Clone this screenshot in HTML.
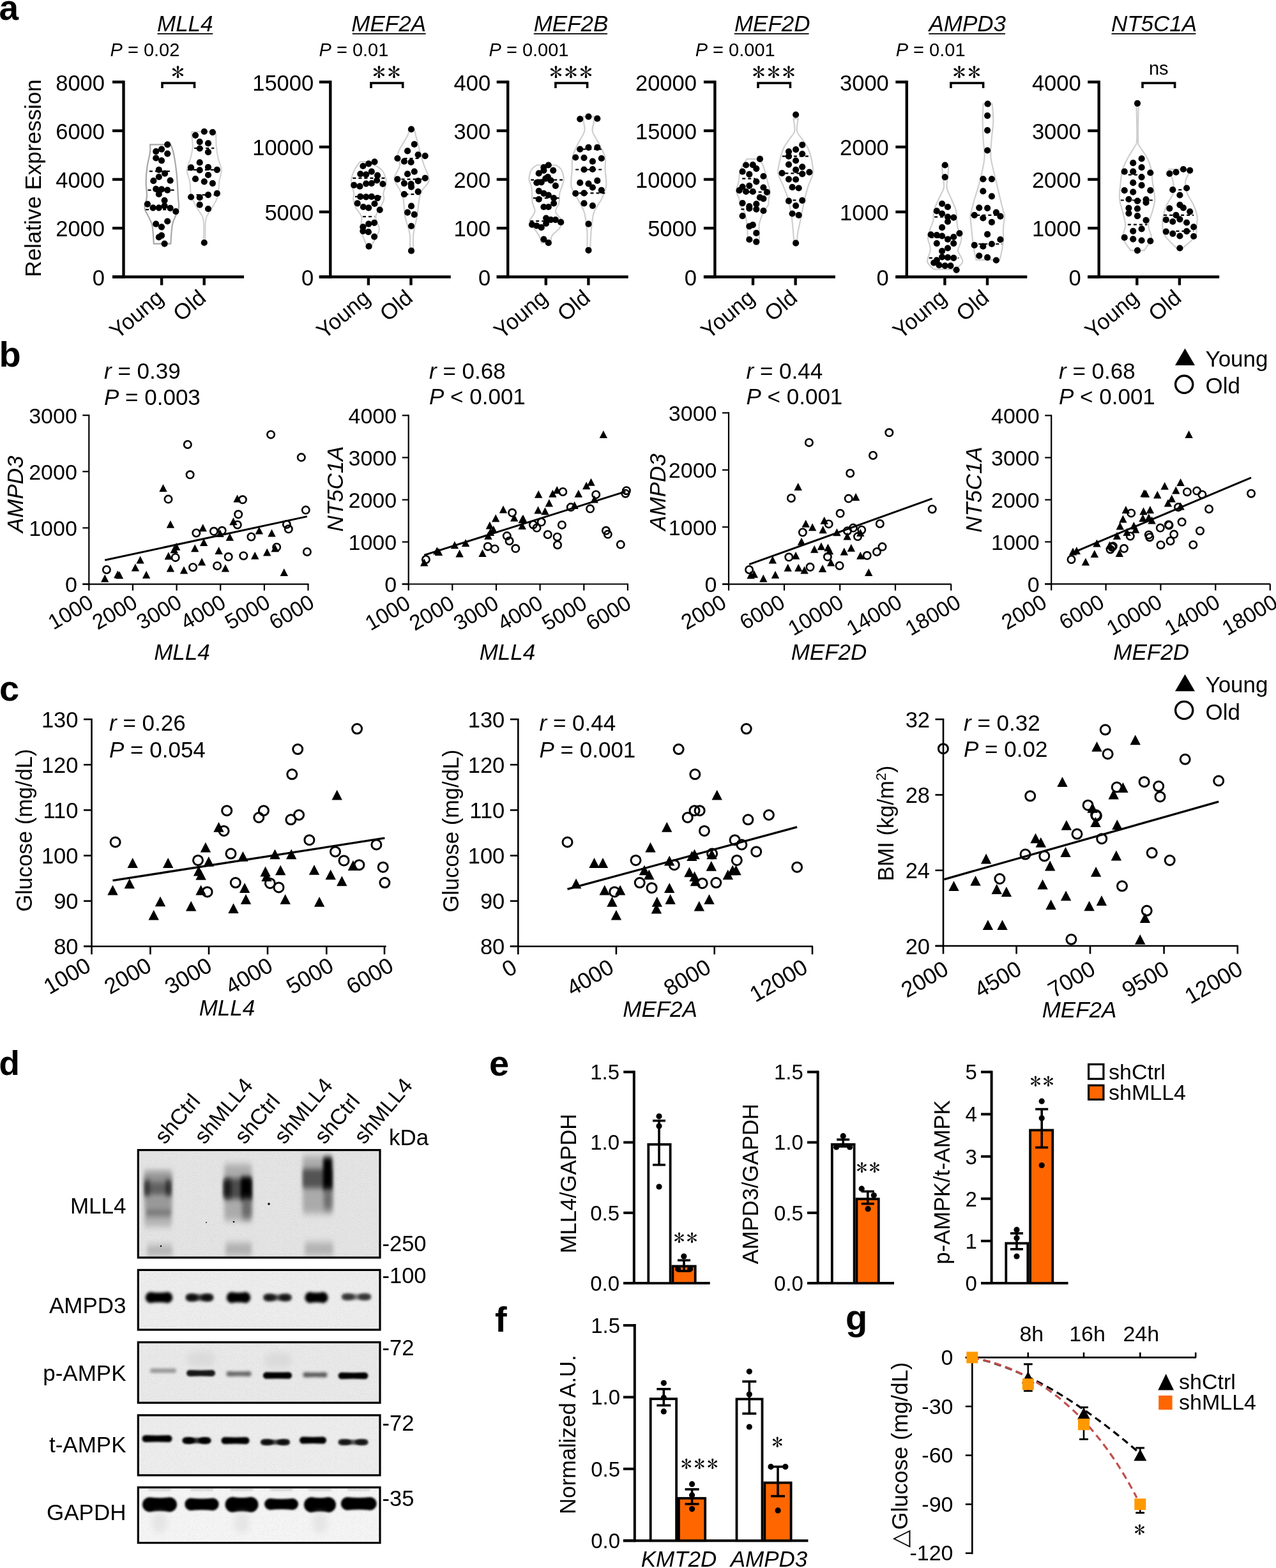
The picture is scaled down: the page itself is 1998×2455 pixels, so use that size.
<!DOCTYPE html>
<html><head><meta charset="utf-8"><title>Figure</title>
<style>html,body{margin:0;padding:0;background:#fff;}svg{display:block;}text{font-family:'Liberation Sans', Arial, Helvetica, sans-serif;}</style>
</head><body>
<svg width="1998" height="2455" viewBox="0 0 1998 2455">
<rect width="1998" height="2455" fill="#fff"/>
<text x="-1.5" y="31" font-size="55" text-anchor="start" font-weight="bold" fill="#000">a</text>
<line x1="193.5" y1="126.2" x2="193.5" y2="435.7" stroke="#000" stroke-width="4.4" stroke-linecap="butt"/>
<line x1="176" y1="433.5" x2="382" y2="433.5" stroke="#000" stroke-width="4.4" stroke-linecap="butt"/>
<line x1="176" y1="433.5" x2="193.5" y2="433.5" stroke="#000" stroke-width="4.4" stroke-linecap="butt"/>
<text x="164" y="446.7" font-size="34.5" text-anchor="end" fill="#000">0</text>
<line x1="176" y1="357.2" x2="193.5" y2="357.2" stroke="#000" stroke-width="4.4" stroke-linecap="butt"/>
<text x="164" y="370.4" font-size="34.5" text-anchor="end" fill="#000">2000</text>
<line x1="176" y1="280.9" x2="193.5" y2="280.9" stroke="#000" stroke-width="4.4" stroke-linecap="butt"/>
<text x="164" y="294.1" font-size="34.5" text-anchor="end" fill="#000">4000</text>
<line x1="176" y1="204.7" x2="193.5" y2="204.7" stroke="#000" stroke-width="4.4" stroke-linecap="butt"/>
<text x="164" y="217.9" font-size="34.5" text-anchor="end" fill="#000">6000</text>
<line x1="176" y1="128.4" x2="193.5" y2="128.4" stroke="#000" stroke-width="4.4" stroke-linecap="butt"/>
<text x="164" y="141.6" font-size="34.5" text-anchor="end" fill="#000">8000</text>
<line x1="253.1" y1="433.5" x2="253.1" y2="446.5" stroke="#000" stroke-width="4.4" stroke-linecap="butt"/>
<line x1="319.7" y1="433.5" x2="319.7" y2="446.5" stroke="#000" stroke-width="4.4" stroke-linecap="butt"/>
<text x="258.1" y="470" font-size="34.5" text-anchor="end" transform="rotate(-40 258.1 470)" fill="#000">Young</text>
<text x="324.7" y="470" font-size="34.5" text-anchor="end" transform="rotate(-40 324.7 470)" fill="#000">Old</text>
<text x="246" y="48.8" font-size="35" text-anchor="start" font-style="italic" fill="#000">MLL4</text>
<text x="172.5" y="88.3" font-size="29" text-anchor="start" fill="#000"><tspan font-style="italic">P</tspan> = 0.02</text>
<polyline points="254,138 254,130 304.5,130 304.5,138" stroke="#000" stroke-width="3.6" fill="none" stroke-linejoin="miter"/>
<text x="0" y="15.7" font-size="41" text-anchor="middle" transform="translate(278.6 112) scale(1 0.93)" style="font-family:IPAGothic, Liberation Sans, sans-serif" fill="#000">*</text>
<path d="M235,226.3 C235,228.3 235.8,232.4 235,238.2 C234.3,244.1 231.5,253.6 230.4,261.3 C229.3,269 228.6,276.7 228.6,284.3 C228.5,292 230.2,301.2 230,307.4 C229.7,313.5 227.5,317.7 227,321.2 C226.5,324.7 226,325 227,328.1 C227.9,331.2 230.8,335.4 232.7,339.6 C234.6,343.9 237.1,346.5 238.5,353.5 C239.8,360.4 240.4,376.9 240.8,381.6 L267.3,381.6 C267.7,376.9 268.4,360.4 269.6,353.5 C270.7,346.5 272.6,343.9 274.2,339.6 C275.8,335.4 278.3,331.2 279.3,328.1 C280.2,325 280,324.7 280,321.2 C279.9,317.7 279.2,313.5 278.8,307.4 C278.4,301.2 278.2,292 277.6,284.3 C277.1,276.7 276.4,269 275.3,261.3 C274.3,253.6 272.8,244.1 271.4,238.2 C270.1,232.4 268,228.3 267.3,226.3 Z" fill="none" stroke="#a8a8a8" stroke-width="2.2"/>
<path d="M300.7,206 C300.6,206.8 299.8,206.8 300,210.6 C300.2,214.4 302.1,222.9 301.8,229 C301.6,235.2 299.9,241.3 298.4,247.5 C296.9,253.6 292.8,259.8 292.6,265.9 C292.4,272 296.1,277.4 297.2,284.3 C298.4,291.2 297.6,300.5 299.5,307.4 C301.5,314.3 305.7,320 308.8,325.8 C311.8,331.6 316.2,335.4 318,341.9 C319.7,348.5 319.1,358.4 319.1,365 C319.1,371.6 318.2,378.8 318,381.6 L321.4,381.6 C321.4,378.8 321.2,371.6 321.4,365 C321.6,358.4 320.9,348.5 322.6,341.9 C324.3,335.4 328.7,331.6 331.8,325.8 C334.9,320 339.1,314.3 341,307.4 C342.9,300.5 342.4,291.2 343.3,284.3 C344.3,277.4 347.1,272 346.8,265.9 C346.5,259.8 342.8,253.6 341.5,247.5 C340.1,241.3 339.2,235.2 338.7,229 C338.2,222.9 338.4,214.4 338.2,210.6 C338.1,206.8 337.7,206.8 337.6,206 Z" fill="none" stroke="#d4d4d4" stroke-width="2.2"/>
<line x1="233.9" y1="268.2" x2="269.6" y2="268.2" stroke="#000" stroke-width="2.2" stroke-dasharray="5,4" stroke-linecap="butt"/>
<line x1="231.6" y1="297.7" x2="275.3" y2="297.7" stroke="#000" stroke-width="2.2" stroke-dasharray="5,4" stroke-linecap="butt"/>
<line x1="228.1" y1="328.1" x2="277.6" y2="328.1" stroke="#000" stroke-width="2.2" stroke-dasharray="5,4" stroke-linecap="butt"/>
<line x1="304.1" y1="232" x2="335.3" y2="232" stroke="#000" stroke-width="2.2" stroke-dasharray="5,4" stroke-linecap="butt"/>
<line x1="293.8" y1="265.9" x2="345.6" y2="265.9" stroke="#000" stroke-width="2.2" stroke-dasharray="5,4" stroke-linecap="butt"/>
<line x1="307.6" y1="305.1" x2="341" y2="305.1" stroke="#000" stroke-width="2.2" stroke-dasharray="5,4" stroke-linecap="butt"/>
<circle cx="262.2" cy="226.3" r="5.1" fill="#000" stroke="none" stroke-width="0"/>
<circle cx="253" cy="233.6" r="5.1" fill="#000" stroke="none" stroke-width="0"/>
<circle cx="244.2" cy="237.1" r="5.1" fill="#000" stroke="none" stroke-width="0"/>
<circle cx="262.2" cy="240.6" r="5.1" fill="#000" stroke="none" stroke-width="0"/>
<circle cx="244.2" cy="247.5" r="5.1" fill="#000" stroke="none" stroke-width="0"/>
<circle cx="253" cy="251.4" r="5.1" fill="#000" stroke="none" stroke-width="0"/>
<circle cx="248.8" cy="265.9" r="5.1" fill="#000" stroke="none" stroke-width="0"/>
<circle cx="258.1" cy="271.7" r="5.1" fill="#000" stroke="none" stroke-width="0"/>
<circle cx="248.8" cy="277" r="5.1" fill="#000" stroke="none" stroke-width="0"/>
<circle cx="240.3" cy="283.2" r="5.1" fill="#000" stroke="none" stroke-width="0"/>
<circle cx="266.6" cy="282.7" r="5.1" fill="#000" stroke="none" stroke-width="0"/>
<circle cx="244.2" cy="295.9" r="5.1" fill="#000" stroke="none" stroke-width="0"/>
<circle cx="253" cy="296.3" r="5.1" fill="#000" stroke="none" stroke-width="0"/>
<circle cx="262.2" cy="297.7" r="5.1" fill="#000" stroke="none" stroke-width="0"/>
<circle cx="248.8" cy="303.9" r="5.1" fill="#000" stroke="none" stroke-width="0"/>
<circle cx="257.6" cy="313.8" r="5.1" fill="#000" stroke="none" stroke-width="0"/>
<circle cx="230.9" cy="319.6" r="5.1" fill="#000" stroke="none" stroke-width="0"/>
<circle cx="239.6" cy="325.3" r="5.1" fill="#000" stroke="none" stroke-width="0"/>
<circle cx="248.8" cy="325.3" r="5.1" fill="#000" stroke="none" stroke-width="0"/>
<circle cx="257.6" cy="322.4" r="5.1" fill="#000" stroke="none" stroke-width="0"/>
<circle cx="266.6" cy="325.8" r="5.1" fill="#000" stroke="none" stroke-width="0"/>
<circle cx="275.3" cy="331.1" r="5.1" fill="#000" stroke="none" stroke-width="0"/>
<circle cx="262.2" cy="346.5" r="5.1" fill="#000" stroke="none" stroke-width="0"/>
<circle cx="244.2" cy="350.7" r="5.1" fill="#000" stroke="none" stroke-width="0"/>
<circle cx="253" cy="355.3" r="5.1" fill="#000" stroke="none" stroke-width="0"/>
<circle cx="248.8" cy="371.4" r="5.1" fill="#000" stroke="none" stroke-width="0"/>
<circle cx="253" cy="368.7" r="5.1" fill="#000" stroke="none" stroke-width="0"/>
<circle cx="257.6" cy="381.6" r="5.1" fill="#000" stroke="none" stroke-width="0"/>
<circle cx="306" cy="211.8" r="5.1" fill="#000" stroke="none" stroke-width="0"/>
<circle cx="319.8" cy="206" r="5.1" fill="#000" stroke="none" stroke-width="0"/>
<circle cx="332.9" cy="207.1" r="5.1" fill="#000" stroke="none" stroke-width="0"/>
<circle cx="312.7" cy="222.1" r="5.1" fill="#000" stroke="none" stroke-width="0"/>
<circle cx="326" cy="224.4" r="5.1" fill="#000" stroke="none" stroke-width="0"/>
<circle cx="312.7" cy="232.5" r="5.1" fill="#000" stroke="none" stroke-width="0"/>
<circle cx="326" cy="238.2" r="5.1" fill="#000" stroke="none" stroke-width="0"/>
<circle cx="312.7" cy="254.4" r="5.1" fill="#000" stroke="none" stroke-width="0"/>
<circle cx="299.1" cy="262.4" r="5.1" fill="#000" stroke="none" stroke-width="0"/>
<circle cx="326" cy="261.8" r="5.1" fill="#000" stroke="none" stroke-width="0"/>
<circle cx="312.7" cy="266.4" r="5.1" fill="#000" stroke="none" stroke-width="0"/>
<circle cx="339.9" cy="265.9" r="5.1" fill="#000" stroke="none" stroke-width="0"/>
<circle cx="326" cy="274" r="5.1" fill="#000" stroke="none" stroke-width="0"/>
<circle cx="306" cy="280.2" r="5.1" fill="#000" stroke="none" stroke-width="0"/>
<circle cx="319.8" cy="284.3" r="5.1" fill="#000" stroke="none" stroke-width="0"/>
<circle cx="332.9" cy="287.1" r="5.1" fill="#000" stroke="none" stroke-width="0"/>
<circle cx="299.1" cy="308.5" r="5.1" fill="#000" stroke="none" stroke-width="0"/>
<circle cx="312.7" cy="309.2" r="5.1" fill="#000" stroke="none" stroke-width="0"/>
<circle cx="326" cy="305.1" r="5.1" fill="#000" stroke="none" stroke-width="0"/>
<circle cx="339.9" cy="302.8" r="5.1" fill="#000" stroke="none" stroke-width="0"/>
<circle cx="312.7" cy="320.7" r="5.1" fill="#000" stroke="none" stroke-width="0"/>
<circle cx="326" cy="327" r="5.1" fill="#000" stroke="none" stroke-width="0"/>
<circle cx="319.8" cy="380" r="5.1" fill="#000" stroke="none" stroke-width="0"/>
<line x1="517.3" y1="126.2" x2="517.3" y2="435.7" stroke="#000" stroke-width="4.4" stroke-linecap="butt"/>
<line x1="499.8" y1="433.5" x2="705.8" y2="433.5" stroke="#000" stroke-width="4.4" stroke-linecap="butt"/>
<line x1="499.8" y1="433.5" x2="517.3" y2="433.5" stroke="#000" stroke-width="4.4" stroke-linecap="butt"/>
<text x="491.2" y="446.7" font-size="34.5" text-anchor="end" fill="#000">0</text>
<line x1="499.8" y1="331.8" x2="517.3" y2="331.8" stroke="#000" stroke-width="4.4" stroke-linecap="butt"/>
<text x="491.2" y="345" font-size="34.5" text-anchor="end" fill="#000">5000</text>
<line x1="499.8" y1="230.1" x2="517.3" y2="230.1" stroke="#000" stroke-width="4.4" stroke-linecap="butt"/>
<text x="491.2" y="243.3" font-size="34.5" text-anchor="end" fill="#000">10000</text>
<line x1="499.8" y1="128.4" x2="517.3" y2="128.4" stroke="#000" stroke-width="4.4" stroke-linecap="butt"/>
<text x="491.2" y="141.6" font-size="34.5" text-anchor="end" fill="#000">15000</text>
<line x1="576.9" y1="433.5" x2="576.9" y2="446.5" stroke="#000" stroke-width="4.4" stroke-linecap="butt"/>
<line x1="643.5" y1="433.5" x2="643.5" y2="446.5" stroke="#000" stroke-width="4.4" stroke-linecap="butt"/>
<text x="581.9" y="470" font-size="34.5" text-anchor="end" transform="rotate(-40 581.9 470)" fill="#000">Young</text>
<text x="648.5" y="470" font-size="34.5" text-anchor="end" transform="rotate(-40 648.5 470)" fill="#000">Old</text>
<text x="550.3" y="48.8" font-size="35" text-anchor="start" font-style="italic" fill="#000">MEF2A</text>
<text x="499.5" y="88.3" font-size="29" text-anchor="start" fill="#000"><tspan font-style="italic">P</tspan> = 0.01</text>
<polyline points="581,138 581,130 630.7,130 630.7,138" stroke="#000" stroke-width="3.6" fill="none" stroke-linejoin="miter"/>
<text x="0" y="15.7" font-size="41" text-anchor="middle" transform="translate(593.5 112) scale(1 0.93)" style="font-family:IPAGothic, Liberation Sans, sans-serif" fill="#000">*</text>
<text x="0" y="15.7" font-size="41" text-anchor="middle" transform="translate(617 112) scale(1 0.93)" style="font-family:IPAGothic, Liberation Sans, sans-serif" fill="#000">*</text>
<path d="M564.3,253 C563.6,253.9 561.3,256.4 559.7,258.5 C558.2,260.7 556.7,262.5 555.1,265.9 C553.6,269.3 551.3,275.1 550.5,278.8 C549.7,282.5 549.9,284 550.5,288 C551.1,292 553.7,298.8 554.2,302.8 C554.7,306.8 552.8,308.3 553.3,312 C553.7,315.7 554.8,320.3 557,324.9 C559.1,329.5 564.9,334.1 566.2,339.6 C567.4,345.2 564,353.1 564.3,358.1 C564.6,363 566.2,364.2 568,369.1 C569.9,374 574.2,384.5 575.4,387.6 L580,387.6 C581.7,384.5 587.8,374 590.1,369.1 C592.4,364.2 594.1,363 593.8,358.1 C593.5,353.1 588,345.2 588.3,339.6 C588.6,334.1 593.5,329.5 595.7,324.9 C597.8,320.3 600.4,315.7 601.2,312 C602,308.3 599.7,306.8 600.3,302.8 C600.8,298.8 603.9,292 604.5,288 C605.1,284 605.1,282.5 604,278.8 C602.8,275.1 600.4,269.3 597.5,265.9 C594.6,262.5 590.8,260.7 586.5,258.5 C582.2,256.4 574.2,253.9 571.7,253 Z" fill="none" stroke="#cfcfcf" stroke-width="2.2"/>
<path d="M639.9,203.2 C639.8,204.5 640.5,206.9 639,210.6 C637.5,214.3 633.3,220.4 630.7,225.3 C628.1,230.3 624.1,234.6 623.3,240.1 C622.5,245.6 627,252.4 626.1,258.5 C625.2,264.7 618.9,272.4 617.8,277 C616.7,281.6 618.1,282.5 619.6,286.2 C621.2,289.9 625,294.8 627,299.1 C629,303.4 630.4,305.2 631.6,312 C632.8,318.7 632.7,330.4 634.4,339.6 C636.1,348.8 640.5,358.4 641.8,367.3 C643,376.2 641.8,388.8 641.8,393.1 L647.3,393.1 C647.3,388.8 646.4,376.2 647.3,367.3 C648.2,358.4 651.3,348.8 652.8,339.6 C654.3,330.4 655.3,318.7 656.5,312 C657.7,305.2 657.9,303.4 660.2,299.1 C662.5,294.8 668.5,289.9 670.3,286.2 C672.2,282.5 672.3,281.6 671.2,277 C670.2,272.4 666,264.7 663.9,258.5 C661.7,252.4 659.9,245.6 658.3,240.1 C656.8,234.6 655.9,230.3 654.7,225.3 C653.4,220.4 651.5,214.3 650.6,210.6 C649.7,206.9 649.4,204.5 649.1,203.2 Z" fill="none" stroke="#cfcfcf" stroke-width="2.2"/>
<line x1="552.4" y1="278.8" x2="604" y2="278.8" stroke="#000" stroke-width="2.2" stroke-dasharray="5,4" stroke-linecap="butt"/>
<line x1="556" y1="307.9" x2="598.4" y2="307.9" stroke="#000" stroke-width="2.2" stroke-dasharray="5,4" stroke-linecap="butt"/>
<line x1="568" y1="339.1" x2="586.5" y2="339.1" stroke="#000" stroke-width="2.2" stroke-dasharray="5,4" stroke-linecap="butt"/>
<line x1="632.5" y1="248" x2="658.3" y2="248" stroke="#000" stroke-width="2.2" stroke-dasharray="5,4" stroke-linecap="butt"/>
<line x1="619.6" y1="280.6" x2="667.6" y2="280.6" stroke="#000" stroke-width="2.2" stroke-dasharray="5,4" stroke-linecap="butt"/>
<line x1="634.4" y1="304.2" x2="658.3" y2="304.2" stroke="#000" stroke-width="2.2" stroke-dasharray="5,4" stroke-linecap="butt"/>
<circle cx="586.5" cy="253.4" r="5.1" fill="#000" stroke="none" stroke-width="0"/>
<circle cx="577.2" cy="256.3" r="5.1" fill="#000" stroke="none" stroke-width="0"/>
<circle cx="568.4" cy="260" r="5.1" fill="#000" stroke="none" stroke-width="0"/>
<circle cx="581.8" cy="268.7" r="5.1" fill="#000" stroke="none" stroke-width="0"/>
<circle cx="564.3" cy="272.4" r="5.1" fill="#000" stroke="none" stroke-width="0"/>
<circle cx="573.2" cy="273.3" r="5.1" fill="#000" stroke="none" stroke-width="0"/>
<circle cx="591.1" cy="274.7" r="5.1" fill="#000" stroke="none" stroke-width="0"/>
<circle cx="590.1" cy="282.5" r="5.1" fill="#000" stroke="none" stroke-width="0"/>
<circle cx="554.2" cy="289.9" r="5.1" fill="#000" stroke="none" stroke-width="0"/>
<circle cx="563.4" cy="291.7" r="5.1" fill="#000" stroke="none" stroke-width="0"/>
<circle cx="573.2" cy="287.6" r="5.1" fill="#000" stroke="none" stroke-width="0"/>
<circle cx="581.8" cy="287.1" r="5.1" fill="#000" stroke="none" stroke-width="0"/>
<circle cx="599.4" cy="288" r="5.1" fill="#000" stroke="none" stroke-width="0"/>
<circle cx="564.3" cy="307.9" r="5.1" fill="#000" stroke="none" stroke-width="0"/>
<circle cx="573.2" cy="308.3" r="5.1" fill="#000" stroke="none" stroke-width="0"/>
<circle cx="581.8" cy="307.9" r="5.1" fill="#000" stroke="none" stroke-width="0"/>
<circle cx="591.1" cy="310.1" r="5.1" fill="#000" stroke="none" stroke-width="0"/>
<circle cx="559.7" cy="318.4" r="5.1" fill="#000" stroke="none" stroke-width="0"/>
<circle cx="568.9" cy="324" r="5.1" fill="#000" stroke="none" stroke-width="0"/>
<circle cx="577.2" cy="325.3" r="5.1" fill="#000" stroke="none" stroke-width="0"/>
<circle cx="586.5" cy="319" r="5.1" fill="#000" stroke="none" stroke-width="0"/>
<circle cx="594.7" cy="328.6" r="5.1" fill="#000" stroke="none" stroke-width="0"/>
<circle cx="577.2" cy="350.7" r="5.1" fill="#000" stroke="none" stroke-width="0"/>
<circle cx="586.1" cy="348.8" r="5.1" fill="#000" stroke="none" stroke-width="0"/>
<circle cx="568.4" cy="355.3" r="5.1" fill="#000" stroke="none" stroke-width="0"/>
<circle cx="568.4" cy="361.8" r="5.1" fill="#000" stroke="none" stroke-width="0"/>
<circle cx="576.9" cy="363.2" r="5.1" fill="#000" stroke="none" stroke-width="0"/>
<circle cx="586.1" cy="370.6" r="5.1" fill="#000" stroke="none" stroke-width="0"/>
<circle cx="577.6" cy="385.7" r="5.1" fill="#000" stroke="none" stroke-width="0"/>
<circle cx="644" cy="202.3" r="5.1" fill="#000" stroke="none" stroke-width="0"/>
<circle cx="648.8" cy="225.9" r="5.1" fill="#000" stroke="none" stroke-width="0"/>
<circle cx="638.1" cy="236.4" r="5.1" fill="#000" stroke="none" stroke-width="0"/>
<circle cx="654.7" cy="242.3" r="5.1" fill="#000" stroke="none" stroke-width="0"/>
<circle cx="665.7" cy="244.1" r="5.1" fill="#000" stroke="none" stroke-width="0"/>
<circle cx="622.4" cy="248" r="5.1" fill="#000" stroke="none" stroke-width="0"/>
<circle cx="632.9" cy="252.6" r="5.1" fill="#000" stroke="none" stroke-width="0"/>
<circle cx="643.6" cy="253.9" r="5.1" fill="#000" stroke="none" stroke-width="0"/>
<circle cx="648.8" cy="268.7" r="5.1" fill="#000" stroke="none" stroke-width="0"/>
<circle cx="638.1" cy="272.4" r="5.1" fill="#000" stroke="none" stroke-width="0"/>
<circle cx="622.4" cy="280.6" r="5.1" fill="#000" stroke="none" stroke-width="0"/>
<circle cx="665.7" cy="278.8" r="5.1" fill="#000" stroke="none" stroke-width="0"/>
<circle cx="654.7" cy="283.4" r="5.1" fill="#000" stroke="none" stroke-width="0"/>
<circle cx="632.9" cy="287.1" r="5.1" fill="#000" stroke="none" stroke-width="0"/>
<circle cx="643.6" cy="288" r="5.1" fill="#000" stroke="none" stroke-width="0"/>
<circle cx="644" cy="292.6" r="5.1" fill="#000" stroke="none" stroke-width="0"/>
<circle cx="654.7" cy="300" r="5.1" fill="#000" stroke="none" stroke-width="0"/>
<circle cx="632.9" cy="304.2" r="5.1" fill="#000" stroke="none" stroke-width="0"/>
<circle cx="644" cy="322.7" r="5.1" fill="#000" stroke="none" stroke-width="0"/>
<circle cx="638.1" cy="332.6" r="5.1" fill="#000" stroke="none" stroke-width="0"/>
<circle cx="648.8" cy="335.9" r="5.1" fill="#000" stroke="none" stroke-width="0"/>
<circle cx="644" cy="354" r="5.1" fill="#000" stroke="none" stroke-width="0"/>
<circle cx="644" cy="392.7" r="5.1" fill="#000" stroke="none" stroke-width="0"/>
<line x1="795.2" y1="126.2" x2="795.2" y2="435.7" stroke="#000" stroke-width="4.4" stroke-linecap="butt"/>
<line x1="777.7" y1="433.5" x2="983.7" y2="433.5" stroke="#000" stroke-width="4.4" stroke-linecap="butt"/>
<line x1="777.7" y1="433.5" x2="795.2" y2="433.5" stroke="#000" stroke-width="4.4" stroke-linecap="butt"/>
<text x="768.1" y="446.7" font-size="34.5" text-anchor="end" fill="#000">0</text>
<line x1="777.7" y1="357.2" x2="795.2" y2="357.2" stroke="#000" stroke-width="4.4" stroke-linecap="butt"/>
<text x="768.1" y="370.4" font-size="34.5" text-anchor="end" fill="#000">100</text>
<line x1="777.7" y1="280.9" x2="795.2" y2="280.9" stroke="#000" stroke-width="4.4" stroke-linecap="butt"/>
<text x="768.1" y="294.1" font-size="34.5" text-anchor="end" fill="#000">200</text>
<line x1="777.7" y1="204.7" x2="795.2" y2="204.7" stroke="#000" stroke-width="4.4" stroke-linecap="butt"/>
<text x="768.1" y="217.9" font-size="34.5" text-anchor="end" fill="#000">300</text>
<line x1="777.7" y1="128.4" x2="795.2" y2="128.4" stroke="#000" stroke-width="4.4" stroke-linecap="butt"/>
<text x="768.1" y="141.6" font-size="34.5" text-anchor="end" fill="#000">400</text>
<line x1="854.8" y1="433.5" x2="854.8" y2="446.5" stroke="#000" stroke-width="4.4" stroke-linecap="butt"/>
<line x1="921.4" y1="433.5" x2="921.4" y2="446.5" stroke="#000" stroke-width="4.4" stroke-linecap="butt"/>
<text x="859.8" y="470" font-size="34.5" text-anchor="end" transform="rotate(-40 859.8 470)" fill="#000">Young</text>
<text x="926.4" y="470" font-size="34.5" text-anchor="end" transform="rotate(-40 926.4 470)" fill="#000">Old</text>
<text x="835.7" y="48.8" font-size="35" text-anchor="start" font-style="italic" fill="#000">MEF2B</text>
<text x="765.5" y="88.3" font-size="29" text-anchor="start" fill="#000"><tspan font-style="italic">P</tspan> = 0.001</text>
<polyline points="869.9,138 869.9,130 919.6,130 919.6,138" stroke="#000" stroke-width="3.6" fill="none" stroke-linejoin="miter"/>
<text x="0" y="15.7" font-size="41" text-anchor="middle" transform="translate(870.6 112) scale(1 0.93)" style="font-family:IPAGothic, Liberation Sans, sans-serif" fill="#000">*</text>
<text x="0" y="15.7" font-size="41" text-anchor="middle" transform="translate(894.1 112) scale(1 0.93)" style="font-family:IPAGothic, Liberation Sans, sans-serif" fill="#000">*</text>
<text x="0" y="15.7" font-size="41" text-anchor="middle" transform="translate(917.6 112) scale(1 0.93)" style="font-family:IPAGothic, Liberation Sans, sans-serif" fill="#000">*</text>
<path d="M840.4,258.5 C839,259.8 834.1,262.2 832.1,265.9 C830.1,269.6 828.4,276.3 828.4,280.6 C828.4,284.9 831.3,288 832.1,291.7 C832.8,295.4 832.7,298.5 833,302.8 C833.3,307.1 833.1,312.9 833.9,317.5 C834.7,322.1 837.8,326.7 837.6,330.4 C837.5,334.1 834.4,336.9 833,339.6 C831.6,342.4 828.7,343.9 829.3,347 C829.9,350.1 834.2,354.4 836.7,358.1 C839.1,361.8 842.2,365.4 844.1,369.1 C845.9,372.8 847.1,378.3 847.7,380.2 L862.5,380.2 C862.8,378.3 862.2,372.8 864.3,369.1 C866.5,365.4 872.6,361.8 875.4,358.1 C878.2,354.4 880.9,350.1 880.9,347 C880.9,343.9 877.2,342.4 875.4,339.6 C873.5,336.9 869.9,334.1 869.9,330.4 C869.9,326.7 874.3,322.1 875.4,317.5 C876.5,312.9 875.5,307.1 876.3,302.8 C877.1,298.5 878.9,295.4 880,291.7 C881.1,288 882.9,284.9 882.8,280.6 C882.6,276.3 881.1,269.6 879.1,265.9 C877.1,262.2 872.2,259.8 870.8,258.5 Z" fill="none" stroke="#cfcfcf" stroke-width="2.2"/>
<path d="M912.3,182.6 C912.6,184.2 913.6,188.3 914.1,192.2 C914.6,196.1 916.6,200.5 915,206 C913.5,211.5 908,218.7 904.9,225.3 C901.8,232 898.1,238.9 896.6,245.6 C895.1,252.4 896,258.2 895.7,265.9 C895.4,273.6 893.2,284 894.7,291.7 C896.3,299.4 901.7,305.5 904.9,312 C908.1,318.4 912,324.3 914.1,330.4 C916.3,336.6 916.9,342.7 917.8,348.8 C918.7,355 919.4,360.2 919.6,367.3 C919.9,374.3 919.3,387.3 919.3,391.2 L924.2,391.2 C924.4,387.3 924.7,374.3 925.2,367.3 C925.6,360.2 926.1,355 927,348.8 C927.9,342.7 928.2,336.6 930.7,330.4 C933.1,324.3 938.7,318.4 941.8,312 C944.8,305.5 948.1,299.4 949.1,291.7 C950.1,284 948,273.6 947.6,265.9 C947.3,258.2 948.9,252.4 947.3,245.6 C945.7,238.9 941.3,232 938.1,225.3 C934.8,218.7 929.3,211.5 927.9,206 C926.5,200.5 929.3,196.1 929.8,192.2 C930.2,188.3 930.5,184.2 930.7,182.6 Z" fill="none" stroke="#cfcfcf" stroke-width="2.2"/>
<line x1="831.2" y1="281.6" x2="880.9" y2="281.6" stroke="#000" stroke-width="2.2" stroke-dasharray="5,4" stroke-linecap="butt"/>
<line x1="834.8" y1="310.1" x2="875.4" y2="310.1" stroke="#000" stroke-width="2.2" stroke-dasharray="5,4" stroke-linecap="butt"/>
<line x1="830.2" y1="346.1" x2="853.3" y2="346.1" stroke="#000" stroke-width="2.2" stroke-dasharray="5,4" stroke-linecap="butt"/>
<line x1="903" y1="233.6" x2="941.8" y2="233.6" stroke="#000" stroke-width="2.2" stroke-dasharray="5,4" stroke-linecap="butt"/>
<line x1="901.2" y1="265.5" x2="943.6" y2="265.5" stroke="#000" stroke-width="2.2" stroke-dasharray="5,4" stroke-linecap="butt"/>
<line x1="897.5" y1="302.4" x2="947.3" y2="302.4" stroke="#000" stroke-width="2.2" stroke-dasharray="5,4" stroke-linecap="butt"/>
<circle cx="858.8" cy="258.5" r="5.1" fill="#000" stroke="none" stroke-width="0"/>
<circle cx="851.4" cy="262.2" r="5.1" fill="#000" stroke="none" stroke-width="0"/>
<circle cx="851.4" cy="266.8" r="5.1" fill="#000" stroke="none" stroke-width="0"/>
<circle cx="866.2" cy="266.8" r="5.1" fill="#000" stroke="none" stroke-width="0"/>
<circle cx="843.7" cy="271.4" r="5.1" fill="#000" stroke="none" stroke-width="0"/>
<circle cx="857.9" cy="277" r="5.1" fill="#000" stroke="none" stroke-width="0"/>
<circle cx="854.2" cy="279.7" r="5.1" fill="#000" stroke="none" stroke-width="0"/>
<circle cx="862.5" cy="282.5" r="5.1" fill="#000" stroke="none" stroke-width="0"/>
<circle cx="840.4" cy="286.2" r="5.1" fill="#000" stroke="none" stroke-width="0"/>
<circle cx="847.7" cy="285.3" r="5.1" fill="#000" stroke="none" stroke-width="0"/>
<circle cx="869.9" cy="290.8" r="5.1" fill="#000" stroke="none" stroke-width="0"/>
<circle cx="843.7" cy="299.1" r="5.1" fill="#000" stroke="none" stroke-width="0"/>
<circle cx="851.4" cy="302.8" r="5.1" fill="#000" stroke="none" stroke-width="0"/>
<circle cx="858.8" cy="305.5" r="5.1" fill="#000" stroke="none" stroke-width="0"/>
<circle cx="867.1" cy="310.1" r="5.1" fill="#000" stroke="none" stroke-width="0"/>
<circle cx="843.7" cy="312" r="5.1" fill="#000" stroke="none" stroke-width="0"/>
<circle cx="867.1" cy="318.4" r="5.1" fill="#000" stroke="none" stroke-width="0"/>
<circle cx="851.4" cy="324" r="5.1" fill="#000" stroke="none" stroke-width="0"/>
<circle cx="858.8" cy="324" r="5.1" fill="#000" stroke="none" stroke-width="0"/>
<circle cx="855.1" cy="341.5" r="5.1" fill="#000" stroke="none" stroke-width="0"/>
<circle cx="862.5" cy="344.2" r="5.1" fill="#000" stroke="none" stroke-width="0"/>
<circle cx="869.9" cy="344.2" r="5.1" fill="#000" stroke="none" stroke-width="0"/>
<circle cx="878.2" cy="347.9" r="5.1" fill="#000" stroke="none" stroke-width="0"/>
<circle cx="855.1" cy="349.8" r="5.1" fill="#000" stroke="none" stroke-width="0"/>
<circle cx="833" cy="351.6" r="5.1" fill="#000" stroke="none" stroke-width="0"/>
<circle cx="840.4" cy="353.5" r="5.1" fill="#000" stroke="none" stroke-width="0"/>
<circle cx="847.7" cy="356.2" r="5.1" fill="#000" stroke="none" stroke-width="0"/>
<circle cx="851.4" cy="374.7" r="5.1" fill="#000" stroke="none" stroke-width="0"/>
<circle cx="858.8" cy="380.2" r="5.1" fill="#000" stroke="none" stroke-width="0"/>
<circle cx="908.2" cy="186.3" r="5.1" fill="#000" stroke="none" stroke-width="0"/>
<circle cx="921.5" cy="182.6" r="5.1" fill="#000" stroke="none" stroke-width="0"/>
<circle cx="935.3" cy="185.7" r="5.1" fill="#000" stroke="none" stroke-width="0"/>
<circle cx="908.2" cy="233.6" r="5.1" fill="#000" stroke="none" stroke-width="0"/>
<circle cx="921.5" cy="230.9" r="5.1" fill="#000" stroke="none" stroke-width="0"/>
<circle cx="935.3" cy="230.9" r="5.1" fill="#000" stroke="none" stroke-width="0"/>
<circle cx="901.2" cy="246.5" r="5.1" fill="#000" stroke="none" stroke-width="0"/>
<circle cx="914.5" cy="247.1" r="5.1" fill="#000" stroke="none" stroke-width="0"/>
<circle cx="941.8" cy="248" r="5.1" fill="#000" stroke="none" stroke-width="0"/>
<circle cx="927.9" cy="252.6" r="5.1" fill="#000" stroke="none" stroke-width="0"/>
<circle cx="914.5" cy="265.5" r="5.1" fill="#000" stroke="none" stroke-width="0"/>
<circle cx="927.9" cy="265" r="5.1" fill="#000" stroke="none" stroke-width="0"/>
<circle cx="908.2" cy="286.2" r="5.1" fill="#000" stroke="none" stroke-width="0"/>
<circle cx="921.5" cy="287.6" r="5.1" fill="#000" stroke="none" stroke-width="0"/>
<circle cx="935.3" cy="282.9" r="5.1" fill="#000" stroke="none" stroke-width="0"/>
<circle cx="927.9" cy="293.5" r="5.1" fill="#000" stroke="none" stroke-width="0"/>
<circle cx="941.8" cy="297.8" r="5.1" fill="#000" stroke="none" stroke-width="0"/>
<circle cx="901.2" cy="302.8" r="5.1" fill="#000" stroke="none" stroke-width="0"/>
<circle cx="914.5" cy="302.4" r="5.1" fill="#000" stroke="none" stroke-width="0"/>
<circle cx="914.5" cy="318.4" r="5.1" fill="#000" stroke="none" stroke-width="0"/>
<circle cx="927.9" cy="322.1" r="5.1" fill="#000" stroke="none" stroke-width="0"/>
<circle cx="921.5" cy="350.7" r="5.1" fill="#000" stroke="none" stroke-width="0"/>
<circle cx="921.5" cy="391.8" r="5.1" fill="#000" stroke="none" stroke-width="0"/>
<line x1="1119.4" y1="126.2" x2="1119.4" y2="435.7" stroke="#000" stroke-width="4.4" stroke-linecap="butt"/>
<line x1="1101.9" y1="433.5" x2="1307.9" y2="433.5" stroke="#000" stroke-width="4.4" stroke-linecap="butt"/>
<line x1="1101.9" y1="433.5" x2="1119.4" y2="433.5" stroke="#000" stroke-width="4.4" stroke-linecap="butt"/>
<text x="1090.9" y="446.7" font-size="34.5" text-anchor="end" fill="#000">0</text>
<line x1="1101.9" y1="357.2" x2="1119.4" y2="357.2" stroke="#000" stroke-width="4.4" stroke-linecap="butt"/>
<text x="1090.9" y="370.4" font-size="34.5" text-anchor="end" fill="#000">5000</text>
<line x1="1101.9" y1="280.9" x2="1119.4" y2="280.9" stroke="#000" stroke-width="4.4" stroke-linecap="butt"/>
<text x="1090.9" y="294.1" font-size="34.5" text-anchor="end" fill="#000">10000</text>
<line x1="1101.9" y1="204.7" x2="1119.4" y2="204.7" stroke="#000" stroke-width="4.4" stroke-linecap="butt"/>
<text x="1090.9" y="217.9" font-size="34.5" text-anchor="end" fill="#000">15000</text>
<line x1="1101.9" y1="128.4" x2="1119.4" y2="128.4" stroke="#000" stroke-width="4.4" stroke-linecap="butt"/>
<text x="1090.9" y="141.6" font-size="34.5" text-anchor="end" fill="#000">20000</text>
<line x1="1179" y1="433.5" x2="1179" y2="446.5" stroke="#000" stroke-width="4.4" stroke-linecap="butt"/>
<line x1="1245.6" y1="433.5" x2="1245.6" y2="446.5" stroke="#000" stroke-width="4.4" stroke-linecap="butt"/>
<text x="1184" y="470" font-size="34.5" text-anchor="end" transform="rotate(-40 1184 470)" fill="#000">Young</text>
<text x="1250.6" y="470" font-size="34.5" text-anchor="end" transform="rotate(-40 1250.6 470)" fill="#000">Old</text>
<text x="1149.9" y="48.8" font-size="35" text-anchor="start" font-style="italic" fill="#000">MEF2D</text>
<text x="1088.7" y="88.3" font-size="29" text-anchor="start" fill="#000"><tspan font-style="italic">P</tspan> = 0.001</text>
<polyline points="1187,138 1187,130 1237.4,130 1237.4,138" stroke="#000" stroke-width="3.6" fill="none" stroke-linejoin="miter"/>
<text x="0" y="15.7" font-size="41" text-anchor="middle" transform="translate(1188.1 112) scale(1 0.93)" style="font-family:IPAGothic, Liberation Sans, sans-serif" fill="#000">*</text>
<text x="0" y="15.7" font-size="41" text-anchor="middle" transform="translate(1211.6 112) scale(1 0.93)" style="font-family:IPAGothic, Liberation Sans, sans-serif" fill="#000">*</text>
<text x="0" y="15.7" font-size="41" text-anchor="middle" transform="translate(1235.1 112) scale(1 0.93)" style="font-family:IPAGothic, Liberation Sans, sans-serif" fill="#000">*</text>
<path d="M1169.6,248.9 C1168.5,250.5 1165,255.1 1163.1,258.5 C1161.3,262 1159.6,265.3 1158.5,269.6 C1157.5,273.9 1157.6,279.4 1156.7,284.3 C1155.8,289.2 1152.8,294.5 1153,299.1 C1153.1,303.7 1156.7,308.3 1157.6,312 C1158.5,315.7 1157.1,317.8 1158.5,321.2 C1159.9,324.6 1164.1,327.3 1165.9,332.3 C1167.7,337.2 1168.8,345.2 1169.6,350.7 C1170.4,356.2 1170.4,361.1 1170.5,365.4 C1170.7,369.7 1170.5,374.7 1170.5,376.5 L1188.9,376.5 C1188.9,374.7 1188.9,369.7 1188.9,365.4 C1188.9,361.1 1187.9,356.2 1188.9,350.7 C1190,345.2 1193.1,337.2 1195.4,332.3 C1197.7,327.3 1201.4,324.6 1202.8,321.2 C1204.1,317.8 1203.2,315.7 1203.7,312 C1204.1,308.3 1205.8,303.7 1205.5,299.1 C1205.2,294.5 1203.1,289.2 1201.8,284.3 C1200.6,279.4 1199.4,273.9 1198.2,269.6 C1196.9,265.3 1196,262 1194.5,258.5 C1192.9,255.1 1189.9,250.5 1188.9,248.9 Z" fill="none" stroke="#cfcfcf" stroke-width="2.2"/>
<path d="M1242.4,185.7 C1242.7,188.9 1245.3,199.7 1244.2,205.1 C1243.2,210.4 1238.9,213.4 1235.9,218 C1233,222.6 1229.2,227.2 1226.7,232.7 C1224.3,238.2 1222.6,244.7 1221.2,251.2 C1219.8,257.6 1217.5,264.7 1218.4,271.4 C1219.4,278.2 1224.1,284.9 1226.7,291.7 C1229.3,298.5 1232,304 1234.1,312 C1236.3,320 1238.2,330.4 1239.6,339.6 C1241,348.8 1241.8,360.5 1242.4,367.3 C1243,374 1243.2,378 1243.3,380.2 L1248.8,380.2 C1248.8,378 1247.9,374 1248.8,367.3 C1249.8,360.5 1252.5,348.8 1254.4,339.6 C1256.2,330.4 1258.1,320 1259.9,312 C1261.8,304 1263.3,298.5 1265.4,291.7 C1267.6,284.9 1271.9,278.2 1272.8,271.4 C1273.7,264.7 1272.2,257.6 1271,251.2 C1269.7,244.7 1267.9,238.2 1265.4,232.7 C1263,227.2 1259.1,222.6 1256.2,218 C1253.3,213.4 1249,210.4 1247.9,205.1 C1246.9,199.7 1249.5,188.9 1249.8,185.7 Z" fill="none" stroke="#cfcfcf" stroke-width="2.2"/>
<line x1="1162.2" y1="279.7" x2="1182.5" y2="279.7" stroke="#000" stroke-width="2.2" stroke-dasharray="5,4" stroke-linecap="butt"/>
<line x1="1169.6" y1="300.6" x2="1198.2" y2="300.6" stroke="#000" stroke-width="2.2" stroke-dasharray="5,4" stroke-linecap="butt"/>
<line x1="1160.4" y1="327.6" x2="1165.9" y2="327.6" stroke="#000" stroke-width="2.2" stroke-dasharray="5,4" stroke-linecap="butt"/>
<line x1="1224.9" y1="244.7" x2="1267.3" y2="244.7" stroke="#000" stroke-width="2.2" stroke-dasharray="5,4" stroke-linecap="butt"/>
<line x1="1220.3" y1="271.4" x2="1271" y2="271.4" stroke="#000" stroke-width="2.2" stroke-dasharray="5,4" stroke-linecap="butt"/>
<line x1="1241.5" y1="313.5" x2="1247.9" y2="313.5" stroke="#000" stroke-width="2.2" stroke-dasharray="5,4" stroke-linecap="butt"/>
<circle cx="1189.9" cy="248.9" r="5.1" fill="#000" stroke="none" stroke-width="0"/>
<circle cx="1168.1" cy="258.5" r="5.1" fill="#000" stroke="none" stroke-width="0"/>
<circle cx="1178.8" cy="258.2" r="5.1" fill="#000" stroke="none" stroke-width="0"/>
<circle cx="1184.3" cy="264.1" r="5.1" fill="#000" stroke="none" stroke-width="0"/>
<circle cx="1162.6" cy="268.7" r="5.1" fill="#000" stroke="none" stroke-width="0"/>
<circle cx="1173.3" cy="272.9" r="5.1" fill="#000" stroke="none" stroke-width="0"/>
<circle cx="1195.4" cy="276" r="5.1" fill="#000" stroke="none" stroke-width="0"/>
<circle cx="1184.3" cy="284.3" r="5.1" fill="#000" stroke="none" stroke-width="0"/>
<circle cx="1162.6" cy="292.6" r="5.1" fill="#000" stroke="none" stroke-width="0"/>
<circle cx="1173.3" cy="290.8" r="5.1" fill="#000" stroke="none" stroke-width="0"/>
<circle cx="1157.6" cy="298.2" r="5.1" fill="#000" stroke="none" stroke-width="0"/>
<circle cx="1168.1" cy="300" r="5.1" fill="#000" stroke="none" stroke-width="0"/>
<circle cx="1178.8" cy="300" r="5.1" fill="#000" stroke="none" stroke-width="0"/>
<circle cx="1195.4" cy="293.5" r="5.1" fill="#000" stroke="none" stroke-width="0"/>
<circle cx="1200.9" cy="300.9" r="5.1" fill="#000" stroke="none" stroke-width="0"/>
<circle cx="1189.9" cy="309.2" r="5.1" fill="#000" stroke="none" stroke-width="0"/>
<circle cx="1195.4" cy="311.1" r="5.1" fill="#000" stroke="none" stroke-width="0"/>
<circle cx="1162.6" cy="318.1" r="5.1" fill="#000" stroke="none" stroke-width="0"/>
<circle cx="1184.3" cy="319.4" r="5.1" fill="#000" stroke="none" stroke-width="0"/>
<circle cx="1173.3" cy="323" r="5.1" fill="#000" stroke="none" stroke-width="0"/>
<circle cx="1173.3" cy="326.4" r="5.1" fill="#000" stroke="none" stroke-width="0"/>
<circle cx="1184.3" cy="327.6" r="5.1" fill="#000" stroke="none" stroke-width="0"/>
<circle cx="1195.4" cy="330" r="5.1" fill="#000" stroke="none" stroke-width="0"/>
<circle cx="1162.6" cy="338.2" r="5.1" fill="#000" stroke="none" stroke-width="0"/>
<circle cx="1173.3" cy="354.4" r="5.1" fill="#000" stroke="none" stroke-width="0"/>
<circle cx="1178.8" cy="352.2" r="5.1" fill="#000" stroke="none" stroke-width="0"/>
<circle cx="1184.3" cy="364.9" r="5.1" fill="#000" stroke="none" stroke-width="0"/>
<circle cx="1173.3" cy="375" r="5.1" fill="#000" stroke="none" stroke-width="0"/>
<circle cx="1184.3" cy="378.7" r="5.1" fill="#000" stroke="none" stroke-width="0"/>
<circle cx="1246.1" cy="179.6" r="5.1" fill="#000" stroke="none" stroke-width="0"/>
<circle cx="1256.2" cy="226.8" r="5.1" fill="#000" stroke="none" stroke-width="0"/>
<circle cx="1235" cy="237.3" r="5.1" fill="#000" stroke="none" stroke-width="0"/>
<circle cx="1246.1" cy="234.2" r="5.1" fill="#000" stroke="none" stroke-width="0"/>
<circle cx="1256.2" cy="241" r="5.1" fill="#000" stroke="none" stroke-width="0"/>
<circle cx="1235" cy="244.7" r="5.1" fill="#000" stroke="none" stroke-width="0"/>
<circle cx="1246.1" cy="251.5" r="5.1" fill="#000" stroke="none" stroke-width="0"/>
<circle cx="1235" cy="257.6" r="5.1" fill="#000" stroke="none" stroke-width="0"/>
<circle cx="1256.2" cy="261.3" r="5.1" fill="#000" stroke="none" stroke-width="0"/>
<circle cx="1246.1" cy="265.9" r="5.1" fill="#000" stroke="none" stroke-width="0"/>
<circle cx="1224.5" cy="271.1" r="5.1" fill="#000" stroke="none" stroke-width="0"/>
<circle cx="1256.2" cy="272.4" r="5.1" fill="#000" stroke="none" stroke-width="0"/>
<circle cx="1267.3" cy="269.6" r="5.1" fill="#000" stroke="none" stroke-width="0"/>
<circle cx="1235" cy="280.6" r="5.1" fill="#000" stroke="none" stroke-width="0"/>
<circle cx="1246.1" cy="281" r="5.1" fill="#000" stroke="none" stroke-width="0"/>
<circle cx="1240.6" cy="293.2" r="5.1" fill="#000" stroke="none" stroke-width="0"/>
<circle cx="1250.7" cy="294.5" r="5.1" fill="#000" stroke="none" stroke-width="0"/>
<circle cx="1235" cy="314.7" r="5.1" fill="#000" stroke="none" stroke-width="0"/>
<circle cx="1256.2" cy="313.8" r="5.1" fill="#000" stroke="none" stroke-width="0"/>
<circle cx="1246.1" cy="322.1" r="5.1" fill="#000" stroke="none" stroke-width="0"/>
<circle cx="1240.6" cy="334.5" r="5.1" fill="#000" stroke="none" stroke-width="0"/>
<circle cx="1250.7" cy="336.9" r="5.1" fill="#000" stroke="none" stroke-width="0"/>
<circle cx="1246.1" cy="380.6" r="5.1" fill="#000" stroke="none" stroke-width="0"/>
<line x1="1419.8" y1="126.2" x2="1419.8" y2="435.7" stroke="#000" stroke-width="4.4" stroke-linecap="butt"/>
<line x1="1402.3" y1="433.5" x2="1608.3" y2="433.5" stroke="#000" stroke-width="4.4" stroke-linecap="butt"/>
<line x1="1402.3" y1="433.5" x2="1419.8" y2="433.5" stroke="#000" stroke-width="4.4" stroke-linecap="butt"/>
<text x="1391.8" y="446.7" font-size="34.5" text-anchor="end" fill="#000">0</text>
<line x1="1402.3" y1="331.8" x2="1419.8" y2="331.8" stroke="#000" stroke-width="4.4" stroke-linecap="butt"/>
<text x="1391.8" y="345" font-size="34.5" text-anchor="end" fill="#000">1000</text>
<line x1="1402.3" y1="230.1" x2="1419.8" y2="230.1" stroke="#000" stroke-width="4.4" stroke-linecap="butt"/>
<text x="1391.8" y="243.3" font-size="34.5" text-anchor="end" fill="#000">2000</text>
<line x1="1402.3" y1="128.4" x2="1419.8" y2="128.4" stroke="#000" stroke-width="4.4" stroke-linecap="butt"/>
<text x="1391.8" y="141.6" font-size="34.5" text-anchor="end" fill="#000">3000</text>
<line x1="1479.4" y1="433.5" x2="1479.4" y2="446.5" stroke="#000" stroke-width="4.4" stroke-linecap="butt"/>
<line x1="1546" y1="433.5" x2="1546" y2="446.5" stroke="#000" stroke-width="4.4" stroke-linecap="butt"/>
<text x="1484.4" y="470" font-size="34.5" text-anchor="end" transform="rotate(-40 1484.4 470)" fill="#000">Young</text>
<text x="1551" y="470" font-size="34.5" text-anchor="end" transform="rotate(-40 1551 470)" fill="#000">Old</text>
<text x="1454.4" y="48.8" font-size="35" text-anchor="start" font-style="italic" fill="#000">AMPD3</text>
<text x="1402.7" y="88.3" font-size="29" text-anchor="start" fill="#000"><tspan font-style="italic">P</tspan> = 0.01</text>
<polyline points="1488.9,138 1488.9,130 1539.6,130 1539.6,138" stroke="#000" stroke-width="3.6" fill="none" stroke-linejoin="miter"/>
<text x="0" y="15.7" font-size="41" text-anchor="middle" transform="translate(1501.9 112) scale(1 0.93)" style="font-family:IPAGothic, Liberation Sans, sans-serif" fill="#000">*</text>
<text x="0" y="15.7" font-size="41" text-anchor="middle" transform="translate(1525.4 112) scale(1 0.93)" style="font-family:IPAGothic, Liberation Sans, sans-serif" fill="#000">*</text>
<path d="M1475.1,260.4 C1475.3,262.8 1475.6,269.6 1476,275.1 C1476.5,280.6 1479,287.4 1477.9,293.5 C1476.8,299.7 1472.2,305.8 1469.6,312 C1467,318.1 1463.6,324.9 1462.2,330.4 C1460.8,335.9 1462.2,340.6 1461.3,345.2 C1460.4,349.8 1458.1,353.5 1456.7,358.1 C1455.3,362.7 1453.1,368.5 1453,372.8 C1452.8,377.1 1455.1,380.5 1455.8,383.9 C1456.4,387.3 1457.3,388.8 1456.7,393.1 C1456.1,397.4 1451.2,404.9 1452.1,409.7 C1453,414.4 1460.5,419.7 1462.2,421.7 L1495.4,421.7 C1497.4,419.7 1506.6,414.4 1507.4,409.7 C1508.1,404.9 1500.8,397.4 1500,393.1 C1499.2,388.8 1501.8,387.3 1502.8,383.9 C1503.7,380.5 1506,377.1 1505.5,372.8 C1505.1,368.5 1501.2,362.7 1500,358.1 C1498.8,353.5 1498.6,349.8 1498.2,345.2 C1497.7,340.6 1498.6,335.9 1497.2,330.4 C1495.9,324.9 1492.3,318.1 1489.9,312 C1487.4,305.8 1483.4,299.7 1482.5,293.5 C1481.6,287.4 1483.9,280.6 1484.3,275.1 C1484.8,269.6 1485.1,262.8 1485.3,260.4 Z" fill="none" stroke="#cfcfcf" stroke-width="2.2"/>
<path d="M1539.6,162.7 C1539.5,167 1538.7,179 1538.7,188.5 C1538.7,198 1539.2,210 1539.6,219.8 C1540.1,229.6 1542.4,236.7 1541.5,247.5 C1540.6,258.2 1536.7,273.6 1534.1,284.3 C1531.5,295.1 1528,304.3 1525.8,312 C1523.7,319.7 1522.3,326.1 1521.2,330.4 C1520.1,334.7 1519.4,333.2 1519.4,337.8 C1519.4,342.4 1520.6,351.6 1521.2,358.1 C1521.8,364.5 1522.3,370.4 1523,376.5 C1523.8,382.6 1524.9,389.9 1525.8,394.9 C1526.7,400 1528.1,404.9 1528.6,406.9 L1565.4,406.9 C1565.9,404.9 1567.3,400 1568.2,394.9 C1569.1,389.9 1570.5,382.6 1571,376.5 C1571.4,370.4 1570.7,364.5 1571,358.1 C1571.3,351.6 1572.8,342.4 1572.8,337.8 C1572.8,333.2 1572,334.7 1571,330.4 C1569.9,326.1 1568.2,319.7 1566.4,312 C1564.5,304.3 1562.4,295.1 1559.9,284.3 C1557.5,273.6 1552.8,258.2 1551.6,247.5 C1550.4,236.7 1551.9,229.6 1552.5,219.8 C1553.1,210 1555.1,198 1555.3,188.5 C1555.5,179 1553.8,167 1553.5,162.7 Z" fill="none" stroke="#cfcfcf" stroke-width="2.2"/>
<line x1="1463.1" y1="339.6" x2="1484.3" y2="339.6" stroke="#000" stroke-width="2.2" stroke-dasharray="5,4" stroke-linecap="butt"/>
<line x1="1456.7" y1="371.9" x2="1500.9" y2="371.9" stroke="#000" stroke-width="2.2" stroke-dasharray="5,4" stroke-linecap="butt"/>
<line x1="1454.8" y1="403.8" x2="1500.9" y2="403.8" stroke="#000" stroke-width="2.2" stroke-dasharray="5,4" stroke-linecap="butt"/>
<line x1="1539.6" y1="280.3" x2="1552.5" y2="280.3" stroke="#000" stroke-width="2.2" stroke-dasharray="5,4" stroke-linecap="butt"/>
<line x1="1520.3" y1="336.9" x2="1572.8" y2="336.9" stroke="#000" stroke-width="2.2" stroke-dasharray="5,4" stroke-linecap="butt"/>
<line x1="1532.3" y1="382" x2="1569.1" y2="382" stroke="#000" stroke-width="2.2" stroke-dasharray="5,4" stroke-linecap="butt"/>
<circle cx="1479.7" cy="258.5" r="5.1" fill="#000" stroke="none" stroke-width="0"/>
<circle cx="1479.7" cy="277.3" r="5.1" fill="#000" stroke="none" stroke-width="0"/>
<circle cx="1475.1" cy="319" r="5.1" fill="#000" stroke="none" stroke-width="0"/>
<circle cx="1484" cy="324" r="5.1" fill="#000" stroke="none" stroke-width="0"/>
<circle cx="1466.8" cy="330.4" r="5.1" fill="#000" stroke="none" stroke-width="0"/>
<circle cx="1475.1" cy="334.5" r="5.1" fill="#000" stroke="none" stroke-width="0"/>
<circle cx="1484" cy="339.6" r="5.1" fill="#000" stroke="none" stroke-width="0"/>
<circle cx="1493.2" cy="340.6" r="5.1" fill="#000" stroke="none" stroke-width="0"/>
<circle cx="1484" cy="347" r="5.1" fill="#000" stroke="none" stroke-width="0"/>
<circle cx="1475.1" cy="356.2" r="5.1" fill="#000" stroke="none" stroke-width="0"/>
<circle cx="1457.6" cy="367.3" r="5.1" fill="#000" stroke="none" stroke-width="0"/>
<circle cx="1466.8" cy="368.2" r="5.1" fill="#000" stroke="none" stroke-width="0"/>
<circle cx="1475.1" cy="369.5" r="5.1" fill="#000" stroke="none" stroke-width="0"/>
<circle cx="1484" cy="374.7" r="5.1" fill="#000" stroke="none" stroke-width="0"/>
<circle cx="1493.2" cy="371" r="5.1" fill="#000" stroke="none" stroke-width="0"/>
<circle cx="1502.4" cy="365.4" r="5.1" fill="#000" stroke="none" stroke-width="0"/>
<circle cx="1466.8" cy="381.1" r="5.1" fill="#000" stroke="none" stroke-width="0"/>
<circle cx="1493.2" cy="381.1" r="5.1" fill="#000" stroke="none" stroke-width="0"/>
<circle cx="1484" cy="388.5" r="5.1" fill="#000" stroke="none" stroke-width="0"/>
<circle cx="1475.1" cy="393.1" r="5.1" fill="#000" stroke="none" stroke-width="0"/>
<circle cx="1475.1" cy="402.3" r="5.1" fill="#000" stroke="none" stroke-width="0"/>
<circle cx="1484" cy="403.2" r="5.1" fill="#000" stroke="none" stroke-width="0"/>
<circle cx="1493.2" cy="403.8" r="5.1" fill="#000" stroke="none" stroke-width="0"/>
<circle cx="1466.8" cy="407.5" r="5.1" fill="#000" stroke="none" stroke-width="0"/>
<circle cx="1462.2" cy="411.5" r="5.1" fill="#000" stroke="none" stroke-width="0"/>
<circle cx="1470.5" cy="415.2" r="5.1" fill="#000" stroke="none" stroke-width="0"/>
<circle cx="1479.7" cy="416.1" r="5.1" fill="#000" stroke="none" stroke-width="0"/>
<circle cx="1488.4" cy="416.1" r="5.1" fill="#000" stroke="none" stroke-width="0"/>
<circle cx="1497.6" cy="422.6" r="5.1" fill="#000" stroke="none" stroke-width="0"/>
<circle cx="1546.6" cy="162.7" r="5.1" fill="#000" stroke="none" stroke-width="0"/>
<circle cx="1546.1" cy="181.1" r="5.1" fill="#000" stroke="none" stroke-width="0"/>
<circle cx="1546.1" cy="204.1" r="5.1" fill="#000" stroke="none" stroke-width="0"/>
<circle cx="1546.1" cy="235.5" r="5.1" fill="#000" stroke="none" stroke-width="0"/>
<circle cx="1539.3" cy="280.3" r="5.1" fill="#000" stroke="none" stroke-width="0"/>
<circle cx="1552.9" cy="280.3" r="5.1" fill="#000" stroke="none" stroke-width="0"/>
<circle cx="1539.3" cy="299.4" r="5.1" fill="#000" stroke="none" stroke-width="0"/>
<circle cx="1552.9" cy="307.4" r="5.1" fill="#000" stroke="none" stroke-width="0"/>
<circle cx="1533.2" cy="325.3" r="5.1" fill="#000" stroke="none" stroke-width="0"/>
<circle cx="1546.1" cy="325.8" r="5.1" fill="#000" stroke="none" stroke-width="0"/>
<circle cx="1559.9" cy="332.6" r="5.1" fill="#000" stroke="none" stroke-width="0"/>
<circle cx="1525.8" cy="336.9" r="5.1" fill="#000" stroke="none" stroke-width="0"/>
<circle cx="1539.3" cy="341.5" r="5.1" fill="#000" stroke="none" stroke-width="0"/>
<circle cx="1566.4" cy="338.7" r="5.1" fill="#000" stroke="none" stroke-width="0"/>
<circle cx="1552.9" cy="347.9" r="5.1" fill="#000" stroke="none" stroke-width="0"/>
<circle cx="1546.1" cy="366.9" r="5.1" fill="#000" stroke="none" stroke-width="0"/>
<circle cx="1566.4" cy="375.2" r="5.1" fill="#000" stroke="none" stroke-width="0"/>
<circle cx="1525.8" cy="383.9" r="5.1" fill="#000" stroke="none" stroke-width="0"/>
<circle cx="1539.3" cy="385.7" r="5.1" fill="#000" stroke="none" stroke-width="0"/>
<circle cx="1552.9" cy="382" r="5.1" fill="#000" stroke="none" stroke-width="0"/>
<circle cx="1533.2" cy="400.5" r="5.1" fill="#000" stroke="none" stroke-width="0"/>
<circle cx="1546.1" cy="403.2" r="5.1" fill="#000" stroke="none" stroke-width="0"/>
<circle cx="1559.9" cy="407.5" r="5.1" fill="#000" stroke="none" stroke-width="0"/>
<line x1="1720.7" y1="126.2" x2="1720.7" y2="435.7" stroke="#000" stroke-width="4.4" stroke-linecap="butt"/>
<line x1="1703.2" y1="433.5" x2="1909.2" y2="433.5" stroke="#000" stroke-width="4.4" stroke-linecap="butt"/>
<line x1="1703.2" y1="433.5" x2="1720.7" y2="433.5" stroke="#000" stroke-width="4.4" stroke-linecap="butt"/>
<text x="1692.7" y="446.7" font-size="34.5" text-anchor="end" fill="#000">0</text>
<line x1="1703.2" y1="357.2" x2="1720.7" y2="357.2" stroke="#000" stroke-width="4.4" stroke-linecap="butt"/>
<text x="1692.7" y="370.4" font-size="34.5" text-anchor="end" fill="#000">1000</text>
<line x1="1703.2" y1="280.9" x2="1720.7" y2="280.9" stroke="#000" stroke-width="4.4" stroke-linecap="butt"/>
<text x="1692.7" y="294.1" font-size="34.5" text-anchor="end" fill="#000">2000</text>
<line x1="1703.2" y1="204.7" x2="1720.7" y2="204.7" stroke="#000" stroke-width="4.4" stroke-linecap="butt"/>
<text x="1692.7" y="217.9" font-size="34.5" text-anchor="end" fill="#000">3000</text>
<line x1="1703.2" y1="128.4" x2="1720.7" y2="128.4" stroke="#000" stroke-width="4.4" stroke-linecap="butt"/>
<text x="1692.7" y="141.6" font-size="34.5" text-anchor="end" fill="#000">4000</text>
<line x1="1780.3" y1="433.5" x2="1780.3" y2="446.5" stroke="#000" stroke-width="4.4" stroke-linecap="butt"/>
<line x1="1846.9" y1="433.5" x2="1846.9" y2="446.5" stroke="#000" stroke-width="4.4" stroke-linecap="butt"/>
<text x="1785.3" y="470" font-size="34.5" text-anchor="end" transform="rotate(-40 1785.3 470)" fill="#000">Young</text>
<text x="1851.9" y="470" font-size="34.5" text-anchor="end" transform="rotate(-40 1851.9 470)" fill="#000">Old</text>
<text x="1739.9" y="48.8" font-size="35" text-anchor="start" font-style="italic" fill="#000">NT5C1A</text>
<polyline points="1789,138 1789,130 1839.6,130 1839.6,138" stroke="#000" stroke-width="3.6" fill="none" stroke-linejoin="miter"/>
<text x="1814.3" y="116.8" font-size="29" text-anchor="middle" fill="#000">ns</text>
<path d="M1778.8,163.6 C1779,165.3 1779.5,164.4 1779.7,173.7 C1779.9,183.1 1780.6,210.6 1780.1,219.8 C1779.6,229 1779.3,224.4 1777,229 C1774.6,233.6 1769.1,241.3 1765.9,247.5 C1762.7,253.6 1759.4,259.8 1757.6,265.9 C1755.8,272 1755.6,276.7 1754.8,284.3 C1754.1,292 1752.5,304.3 1753,312 C1753.5,319.7 1756.1,323.7 1757.6,330.4 C1759.1,337.2 1762.1,345.5 1762.2,352.5 C1762.4,359.6 1757.1,366.2 1758.5,372.8 C1759.9,379.4 1768.5,388.9 1770.5,392.2 L1791.7,392.2 C1793.5,388.9 1801.7,379.4 1802.8,372.8 C1803.8,366.2 1797.8,359.6 1798.2,352.5 C1798.5,345.5 1802.9,337.2 1804.6,330.4 C1806.3,323.7 1808.3,319.7 1808.3,312 C1808.3,304.3 1805.5,292 1804.6,284.3 C1803.7,276.7 1804.1,272 1802.8,265.9 C1801.4,259.8 1799.4,253.6 1796.3,247.5 C1793.2,241.3 1786.7,233.6 1784.3,229 C1782,224.4 1782.4,229 1782.1,219.8 C1781.8,210.6 1782.3,183.1 1782.5,173.7 C1782.7,164.4 1783.3,165.3 1783.4,163.6 Z" fill="none" stroke="#cfcfcf" stroke-width="2.2"/>
<path d="M1830.4,265 C1830.7,266.1 1831.2,268.2 1832.3,271.4 C1833.3,274.7 1836.1,279.1 1836.9,284.3 C1837.6,289.6 1838.6,296.6 1836.9,302.8 C1835.2,308.9 1829.3,315.1 1826.7,321.2 C1824.1,327.3 1822.3,334.1 1821.2,339.6 C1820.1,345.2 1820,349.8 1820.3,354.4 C1820.6,359 1821.4,363.6 1823,367.3 C1824.7,371 1827,372.8 1830.4,376.5 C1833.8,380.2 1841.2,387.3 1843.3,389.4 L1850.7,389.4 C1853.1,387.3 1861.8,380.2 1865.4,376.5 C1869.1,372.8 1871.4,371 1872.8,367.3 C1874.2,363.6 1873.4,359 1873.7,354.4 C1874,349.8 1875.4,345.2 1874.7,339.6 C1873.9,334.1 1871.7,327.3 1869.1,321.2 C1866.5,315.1 1861.1,308.9 1859,302.8 C1856.8,296.6 1855.8,289.6 1856.2,284.3 C1856.6,279.1 1860.5,274.7 1861.4,271.4 C1862.3,268.2 1861.7,266.1 1861.8,265 Z" fill="none" stroke="#cfcfcf" stroke-width="2.2"/>
<line x1="1766.8" y1="273.6" x2="1793.5" y2="273.6" stroke="#000" stroke-width="2.2" stroke-dasharray="5,4" stroke-linecap="butt"/>
<line x1="1754.8" y1="313.5" x2="1807.4" y2="313.5" stroke="#000" stroke-width="2.2" stroke-dasharray="5,4" stroke-linecap="butt"/>
<line x1="1765.9" y1="351.6" x2="1796.3" y2="351.6" stroke="#000" stroke-width="2.2" stroke-dasharray="5,4" stroke-linecap="butt"/>
<line x1="1845.2" y1="297.2" x2="1851.6" y2="297.2" stroke="#000" stroke-width="2.2" stroke-dasharray="5,4" stroke-linecap="butt"/>
<line x1="1822.1" y1="336.9" x2="1869.1" y2="336.9" stroke="#000" stroke-width="2.2" stroke-dasharray="5,4" stroke-linecap="butt"/>
<line x1="1841.5" y1="361.8" x2="1869.1" y2="361.8" stroke="#000" stroke-width="2.2" stroke-dasharray="5,4" stroke-linecap="butt"/>
<circle cx="1781" cy="161.8" r="5.1" fill="#000" stroke="none" stroke-width="0"/>
<circle cx="1787.6" cy="248.4" r="5.1" fill="#000" stroke="none" stroke-width="0"/>
<circle cx="1774.2" cy="255.2" r="5.1" fill="#000" stroke="none" stroke-width="0"/>
<circle cx="1787.6" cy="262.2" r="5.1" fill="#000" stroke="none" stroke-width="0"/>
<circle cx="1760.7" cy="268.7" r="5.1" fill="#000" stroke="none" stroke-width="0"/>
<circle cx="1774.2" cy="268.7" r="5.1" fill="#000" stroke="none" stroke-width="0"/>
<circle cx="1801.3" cy="270.5" r="5.1" fill="#000" stroke="none" stroke-width="0"/>
<circle cx="1787.6" cy="277.3" r="5.1" fill="#000" stroke="none" stroke-width="0"/>
<circle cx="1774.2" cy="286.2" r="5.1" fill="#000" stroke="none" stroke-width="0"/>
<circle cx="1787.6" cy="290.2" r="5.1" fill="#000" stroke="none" stroke-width="0"/>
<circle cx="1760.7" cy="298.2" r="5.1" fill="#000" stroke="none" stroke-width="0"/>
<circle cx="1774.2" cy="300.6" r="5.1" fill="#000" stroke="none" stroke-width="0"/>
<circle cx="1801.3" cy="298.2" r="5.1" fill="#000" stroke="none" stroke-width="0"/>
<circle cx="1767.4" cy="312" r="5.1" fill="#000" stroke="none" stroke-width="0"/>
<circle cx="1781" cy="314.7" r="5.1" fill="#000" stroke="none" stroke-width="0"/>
<circle cx="1794.5" cy="312.4" r="5.1" fill="#000" stroke="none" stroke-width="0"/>
<circle cx="1794.5" cy="317.1" r="5.1" fill="#000" stroke="none" stroke-width="0"/>
<circle cx="1767.4" cy="325.8" r="5.1" fill="#000" stroke="none" stroke-width="0"/>
<circle cx="1781" cy="326.7" r="5.1" fill="#000" stroke="none" stroke-width="0"/>
<circle cx="1767.4" cy="334.1" r="5.1" fill="#000" stroke="none" stroke-width="0"/>
<circle cx="1781" cy="338.2" r="5.1" fill="#000" stroke="none" stroke-width="0"/>
<circle cx="1794.5" cy="344.8" r="5.1" fill="#000" stroke="none" stroke-width="0"/>
<circle cx="1787.6" cy="358.4" r="5.1" fill="#000" stroke="none" stroke-width="0"/>
<circle cx="1774.2" cy="361.8" r="5.1" fill="#000" stroke="none" stroke-width="0"/>
<circle cx="1760.7" cy="371.9" r="5.1" fill="#000" stroke="none" stroke-width="0"/>
<circle cx="1774.2" cy="374.3" r="5.1" fill="#000" stroke="none" stroke-width="0"/>
<circle cx="1787.6" cy="376.5" r="5.1" fill="#000" stroke="none" stroke-width="0"/>
<circle cx="1801.3" cy="377.4" r="5.1" fill="#000" stroke="none" stroke-width="0"/>
<circle cx="1781" cy="392.2" r="5.1" fill="#000" stroke="none" stroke-width="0"/>
<circle cx="1831.3" cy="271.8" r="5.1" fill="#000" stroke="none" stroke-width="0"/>
<circle cx="1841.5" cy="269.6" r="5.1" fill="#000" stroke="none" stroke-width="0"/>
<circle cx="1852.9" cy="265" r="5.1" fill="#000" stroke="none" stroke-width="0"/>
<circle cx="1863.2" cy="266.8" r="5.1" fill="#000" stroke="none" stroke-width="0"/>
<circle cx="1836.3" cy="297.2" r="5.1" fill="#000" stroke="none" stroke-width="0"/>
<circle cx="1858.1" cy="294.5" r="5.1" fill="#000" stroke="none" stroke-width="0"/>
<circle cx="1847.4" cy="305.5" r="5.1" fill="#000" stroke="none" stroke-width="0"/>
<circle cx="1847.4" cy="320.8" r="5.1" fill="#000" stroke="none" stroke-width="0"/>
<circle cx="1852.9" cy="325.3" r="5.1" fill="#000" stroke="none" stroke-width="0"/>
<circle cx="1831.3" cy="326.4" r="5.1" fill="#000" stroke="none" stroke-width="0"/>
<circle cx="1863.2" cy="331.3" r="5.1" fill="#000" stroke="none" stroke-width="0"/>
<circle cx="1841.5" cy="336.9" r="5.1" fill="#000" stroke="none" stroke-width="0"/>
<circle cx="1847.4" cy="343.3" r="5.1" fill="#000" stroke="none" stroke-width="0"/>
<circle cx="1825.8" cy="344.2" r="5.1" fill="#000" stroke="none" stroke-width="0"/>
<circle cx="1836.3" cy="347" r="5.1" fill="#000" stroke="none" stroke-width="0"/>
<circle cx="1858.1" cy="348.5" r="5.1" fill="#000" stroke="none" stroke-width="0"/>
<circle cx="1869.1" cy="355.3" r="5.1" fill="#000" stroke="none" stroke-width="0"/>
<circle cx="1825.8" cy="362.7" r="5.1" fill="#000" stroke="none" stroke-width="0"/>
<circle cx="1836.3" cy="365.8" r="5.1" fill="#000" stroke="none" stroke-width="0"/>
<circle cx="1847.4" cy="369.5" r="5.1" fill="#000" stroke="none" stroke-width="0"/>
<circle cx="1858.1" cy="362.1" r="5.1" fill="#000" stroke="none" stroke-width="0"/>
<circle cx="1869.1" cy="370" r="5.1" fill="#000" stroke="none" stroke-width="0"/>
<circle cx="1847.4" cy="388.5" r="5.1" fill="#000" stroke="none" stroke-width="0"/>
<line x1="246.5" y1="52.9" x2="333.2" y2="52.9" stroke="#000" stroke-width="1.7" stroke-linecap="butt"/>
<line x1="551.8" y1="52.9" x2="666.7" y2="52.9" stroke="#000" stroke-width="1.7" stroke-linecap="butt"/>
<line x1="835.8" y1="52.9" x2="951" y2="52.9" stroke="#000" stroke-width="1.7" stroke-linecap="butt"/>
<line x1="1149.7" y1="52.9" x2="1266.6" y2="52.9" stroke="#000" stroke-width="1.7" stroke-linecap="butt"/>
<line x1="1454.4" y1="52.9" x2="1574" y2="52.9" stroke="#000" stroke-width="1.7" stroke-linecap="butt"/>
<line x1="1740.5" y1="52.9" x2="1872.4" y2="52.9" stroke="#000" stroke-width="1.7" stroke-linecap="butt"/>
<text x="63.6" y="279" font-size="35" text-anchor="middle" transform="rotate(-90 63.6 279)" fill="#000">Relative Expression</text>
<text x="-1.5" y="573.8" font-size="56" text-anchor="start" font-weight="bold" fill="#000">b</text>
<line x1="139.3" y1="649.1" x2="139.3" y2="915.7" stroke="#000" stroke-width="2.2" stroke-linecap="butt"/>
<line x1="129.3" y1="914.6" x2="483.5" y2="914.6" stroke="#000" stroke-width="2.2" stroke-linecap="butt"/>
<line x1="129.3" y1="914.6" x2="139.3" y2="914.6" stroke="#000" stroke-width="2.2" stroke-linecap="butt"/>
<text x="120.8" y="927.2" font-size="34" text-anchor="end" fill="#000">0</text>
<line x1="129.3" y1="826.5" x2="139.3" y2="826.5" stroke="#000" stroke-width="2.2" stroke-linecap="butt"/>
<text x="120.8" y="839.1" font-size="34" text-anchor="end" fill="#000">1000</text>
<line x1="129.3" y1="738.3" x2="139.3" y2="738.3" stroke="#000" stroke-width="2.2" stroke-linecap="butt"/>
<text x="120.8" y="750.9" font-size="34" text-anchor="end" fill="#000">2000</text>
<line x1="129.3" y1="650.2" x2="139.3" y2="650.2" stroke="#000" stroke-width="2.2" stroke-linecap="butt"/>
<text x="120.8" y="662.8" font-size="34" text-anchor="end" fill="#000">3000</text>
<line x1="139.3" y1="914.6" x2="139.3" y2="924.6" stroke="#000" stroke-width="2.2" stroke-linecap="butt"/>
<text x="148.3" y="949.6" font-size="33.5" text-anchor="end" transform="rotate(-30 148.3 949.6)" fill="#000">1000</text>
<line x1="207.9" y1="914.6" x2="207.9" y2="924.6" stroke="#000" stroke-width="2.2" stroke-linecap="butt"/>
<text x="217.5" y="949.6" font-size="33.5" text-anchor="end" transform="rotate(-30 217.5 949.6)" fill="#000">2000</text>
<line x1="276.6" y1="914.6" x2="276.6" y2="924.6" stroke="#000" stroke-width="2.2" stroke-linecap="butt"/>
<text x="286.8" y="949.6" font-size="33.5" text-anchor="end" transform="rotate(-30 286.8 949.6)" fill="#000">3000</text>
<line x1="345.2" y1="914.6" x2="345.2" y2="924.6" stroke="#000" stroke-width="2.2" stroke-linecap="butt"/>
<text x="356" y="949.6" font-size="33.5" text-anchor="end" transform="rotate(-30 356 949.6)" fill="#000">4000</text>
<line x1="413.9" y1="914.6" x2="413.9" y2="924.6" stroke="#000" stroke-width="2.2" stroke-linecap="butt"/>
<text x="425.3" y="949.6" font-size="33.5" text-anchor="end" transform="rotate(-30 425.3 949.6)" fill="#000">5000</text>
<line x1="482.5" y1="914.6" x2="482.5" y2="924.6" stroke="#000" stroke-width="2.2" stroke-linecap="butt"/>
<text x="494.5" y="949.6" font-size="33.5" text-anchor="end" transform="rotate(-30 494.5 949.6)" fill="#000">6000</text>
<circle cx="293.8" cy="696" r="5.7" fill="none" stroke="#000" stroke-width="2.6"/>
<circle cx="424.1" cy="680.4" r="5.7" fill="none" stroke="#000" stroke-width="2.6"/>
<circle cx="471.8" cy="716.1" r="5.7" fill="none" stroke="#000" stroke-width="2.6"/>
<circle cx="297.6" cy="743.3" r="5.7" fill="none" stroke="#000" stroke-width="2.6"/>
<circle cx="263.5" cy="781.6" r="5.7" fill="none" stroke="#000" stroke-width="2.6"/>
<circle cx="379.9" cy="782.3" r="5.7" fill="none" stroke="#000" stroke-width="2.6"/>
<circle cx="478.8" cy="798.6" r="5.7" fill="none" stroke="#000" stroke-width="2.6"/>
<circle cx="373.2" cy="805.3" r="5.7" fill="none" stroke="#000" stroke-width="2.6"/>
<circle cx="371.8" cy="821.7" r="5.7" fill="none" stroke="#000" stroke-width="2.6"/>
<circle cx="448.9" cy="821" r="5.7" fill="none" stroke="#000" stroke-width="2.6"/>
<circle cx="451.8" cy="828.3" r="5.7" fill="none" stroke="#000" stroke-width="2.6"/>
<circle cx="307.3" cy="834.5" r="5.7" fill="none" stroke="#000" stroke-width="2.6"/>
<circle cx="334.9" cy="831.8" r="5.7" fill="none" stroke="#000" stroke-width="2.6"/>
<circle cx="347.7" cy="830.8" r="5.7" fill="none" stroke="#000" stroke-width="2.6"/>
<circle cx="393.4" cy="840.5" r="5.7" fill="none" stroke="#000" stroke-width="2.6"/>
<circle cx="433.2" cy="856.7" r="5.7" fill="none" stroke="#000" stroke-width="2.6"/>
<circle cx="480.9" cy="864" r="5.7" fill="none" stroke="#000" stroke-width="2.6"/>
<circle cx="274.7" cy="872.9" r="5.7" fill="none" stroke="#000" stroke-width="2.6"/>
<circle cx="357.7" cy="871.8" r="5.7" fill="none" stroke="#000" stroke-width="2.6"/>
<circle cx="381.3" cy="870.2" r="5.7" fill="none" stroke="#000" stroke-width="2.6"/>
<circle cx="302.1" cy="888.2" r="5.7" fill="none" stroke="#000" stroke-width="2.6"/>
<circle cx="340.1" cy="885.9" r="5.7" fill="none" stroke="#000" stroke-width="2.6"/>
<circle cx="166.9" cy="892" r="5.7" fill="none" stroke="#000" stroke-width="2.6"/>
<polygon points="255.5,758 249.3,770 261.7,770" stroke="none" stroke-width="0" fill="#000" stroke-linejoin="miter"/>
<polygon points="266.9,814.8 260.7,826.8 273.1,826.8" stroke="none" stroke-width="0" fill="#000" stroke-linejoin="miter"/>
<polygon points="371.6,774.6 365.4,786.6 377.8,786.6" stroke="none" stroke-width="0" fill="#000" stroke-linejoin="miter"/>
<polygon points="365.4,810.3 359.2,822.3 371.6,822.3" stroke="none" stroke-width="0" fill="#000" stroke-linejoin="miter"/>
<polygon points="317.7,820.2 311.5,832.2 323.9,832.2" stroke="none" stroke-width="0" fill="#000" stroke-linejoin="miter"/>
<polygon points="405.8,824.4 399.6,836.4 412,836.4" stroke="none" stroke-width="0" fill="#000" stroke-linejoin="miter"/>
<polygon points="425.5,828.5 419.3,840.5 431.7,840.5" stroke="none" stroke-width="0" fill="#000" stroke-linejoin="miter"/>
<polygon points="359.8,834.7 353.6,846.7 366,846.7" stroke="none" stroke-width="0" fill="#000" stroke-linejoin="miter"/>
<polygon points="319.1,843 312.9,855 325.3,855" stroke="none" stroke-width="0" fill="#000" stroke-linejoin="miter"/>
<polygon points="276.2,849.7 270,861.7 282.4,861.7" stroke="none" stroke-width="0" fill="#000" stroke-linejoin="miter"/>
<polygon points="272.7,854.2 266.5,866.2 278.9,866.2" stroke="none" stroke-width="0" fill="#000" stroke-linejoin="miter"/>
<polygon points="305.2,852.2 299,864.2 311.4,864.2" stroke="none" stroke-width="0" fill="#000" stroke-linejoin="miter"/>
<polygon points="342.6,855.9 336.4,867.9 348.8,867.9" stroke="none" stroke-width="0" fill="#000" stroke-linejoin="miter"/>
<polygon points="263.8,864.2 257.6,876.2 270,876.2" stroke="none" stroke-width="0" fill="#000" stroke-linejoin="miter"/>
<polygon points="219.6,870.4 213.4,882.4 225.8,882.4" stroke="none" stroke-width="0" fill="#000" stroke-linejoin="miter"/>
<polygon points="211.9,882.4 205.7,894.4 218.1,894.4" stroke="none" stroke-width="0" fill="#000" stroke-linejoin="miter"/>
<polygon points="266.9,883.5 260.7,895.5 273.1,895.5" stroke="none" stroke-width="0" fill="#000" stroke-linejoin="miter"/>
<polygon points="288,886.6 281.8,898.6 294.2,898.6" stroke="none" stroke-width="0" fill="#000" stroke-linejoin="miter"/>
<polygon points="316,873.5 309.8,885.5 322.2,885.5" stroke="none" stroke-width="0" fill="#000" stroke-linejoin="miter"/>
<polygon points="352.9,883.5 346.7,895.5 359.1,895.5" stroke="none" stroke-width="0" fill="#000" stroke-linejoin="miter"/>
<polygon points="399.2,863.8 393,875.8 405.4,875.8" stroke="none" stroke-width="0" fill="#000" stroke-linejoin="miter"/>
<polygon points="418.2,858.4 412,870.4 424.4,870.4" stroke="none" stroke-width="0" fill="#000" stroke-linejoin="miter"/>
<polygon points="430.7,852.2 424.5,864.2 436.9,864.2" stroke="none" stroke-width="0" fill="#000" stroke-linejoin="miter"/>
<polygon points="229.1,893.8 222.9,905.8 235.3,905.8" stroke="none" stroke-width="0" fill="#000" stroke-linejoin="miter"/>
<polygon points="184.3,893.2 178.1,905.2 190.5,905.2" stroke="none" stroke-width="0" fill="#000" stroke-linejoin="miter"/>
<polygon points="187,894.3 180.8,906.3 193.2,906.3" stroke="none" stroke-width="0" fill="#000" stroke-linejoin="miter"/>
<polygon points="164.2,899.4 158,911.4 170.4,911.4" stroke="none" stroke-width="0" fill="#000" stroke-linejoin="miter"/>
<polygon points="444.8,890.1 438.6,902.1 451,902.1" stroke="none" stroke-width="0" fill="#000" stroke-linejoin="miter"/>
<polygon points="344.6,828.9 338.4,840.9 350.8,840.9" stroke="none" stroke-width="0" fill="#000" stroke-linejoin="miter"/>
<line x1="164.2" y1="877" x2="480.9" y2="808.6" stroke="#000" stroke-width="3" stroke-linecap="butt"/>
<text x="163" y="593.4" font-size="35" text-anchor="start" fill="#000"><tspan font-style="italic">r</tspan> = 0.39</text>
<text x="163" y="633.7" font-size="35" text-anchor="start" fill="#000"><tspan font-style="italic">P</tspan> = 0.003</text>
<text x="35.6" y="773.8" font-size="35" text-anchor="middle" font-style="italic" transform="rotate(-90 35.6 773.8)" fill="#000">AMPD3</text>
<text x="285" y="1033.2" font-size="35" text-anchor="middle" font-style="italic" fill="#000">MLL4</text>
<line x1="639.7" y1="649.3" x2="639.7" y2="915.6" stroke="#000" stroke-width="2.2" stroke-linecap="butt"/>
<line x1="629.7" y1="914.5" x2="983.9" y2="914.5" stroke="#000" stroke-width="2.2" stroke-linecap="butt"/>
<line x1="629.7" y1="914.5" x2="639.7" y2="914.5" stroke="#000" stroke-width="2.2" stroke-linecap="butt"/>
<text x="621.2" y="927.1" font-size="34" text-anchor="end" fill="#000">0</text>
<line x1="629.7" y1="848.5" x2="639.7" y2="848.5" stroke="#000" stroke-width="2.2" stroke-linecap="butt"/>
<text x="621.2" y="861.1" font-size="34" text-anchor="end" fill="#000">1000</text>
<line x1="629.7" y1="782.5" x2="639.7" y2="782.5" stroke="#000" stroke-width="2.2" stroke-linecap="butt"/>
<text x="621.2" y="795.1" font-size="34" text-anchor="end" fill="#000">2000</text>
<line x1="629.7" y1="716.4" x2="639.7" y2="716.4" stroke="#000" stroke-width="2.2" stroke-linecap="butt"/>
<text x="621.2" y="729" font-size="34" text-anchor="end" fill="#000">3000</text>
<line x1="629.7" y1="650.4" x2="639.7" y2="650.4" stroke="#000" stroke-width="2.2" stroke-linecap="butt"/>
<text x="621.2" y="663" font-size="34" text-anchor="end" fill="#000">4000</text>
<line x1="639.7" y1="914.5" x2="639.7" y2="924.5" stroke="#000" stroke-width="2.2" stroke-linecap="butt"/>
<text x="644.9" y="951" font-size="33.5" text-anchor="end" transform="rotate(-30 644.9 951)" fill="#000">1000</text>
<line x1="708.3" y1="914.5" x2="708.3" y2="924.5" stroke="#000" stroke-width="2.2" stroke-linecap="butt"/>
<text x="714" y="951" font-size="33.5" text-anchor="end" transform="rotate(-30 714 951)" fill="#000">2000</text>
<line x1="777" y1="914.5" x2="777" y2="924.5" stroke="#000" stroke-width="2.2" stroke-linecap="butt"/>
<text x="783.2" y="951" font-size="33.5" text-anchor="end" transform="rotate(-30 783.2 951)" fill="#000">3000</text>
<line x1="845.6" y1="914.5" x2="845.6" y2="924.5" stroke="#000" stroke-width="2.2" stroke-linecap="butt"/>
<text x="852.3" y="951" font-size="33.5" text-anchor="end" transform="rotate(-30 852.3 951)" fill="#000">4000</text>
<line x1="914.3" y1="914.5" x2="914.3" y2="924.5" stroke="#000" stroke-width="2.2" stroke-linecap="butt"/>
<text x="921.5" y="951" font-size="33.5" text-anchor="end" transform="rotate(-30 921.5 951)" fill="#000">5000</text>
<line x1="982.9" y1="914.5" x2="982.9" y2="924.5" stroke="#000" stroke-width="2.2" stroke-linecap="butt"/>
<text x="990.6" y="951" font-size="33.5" text-anchor="end" transform="rotate(-30 990.6 951)" fill="#000">6000</text>
<circle cx="666.9" cy="876" r="5.7" fill="none" stroke="#000" stroke-width="2.6"/>
<circle cx="763.8" cy="855.7" r="5.7" fill="none" stroke="#000" stroke-width="2.6"/>
<circle cx="774.7" cy="859.4" r="5.7" fill="none" stroke="#000" stroke-width="2.6"/>
<circle cx="793.8" cy="839.1" r="5.7" fill="none" stroke="#000" stroke-width="2.6"/>
<circle cx="797.6" cy="847" r="5.7" fill="none" stroke="#000" stroke-width="2.6"/>
<circle cx="807.3" cy="858.8" r="5.7" fill="none" stroke="#000" stroke-width="2.6"/>
<circle cx="802.1" cy="802.8" r="5.7" fill="none" stroke="#000" stroke-width="2.6"/>
<circle cx="834.9" cy="821.5" r="5.7" fill="none" stroke="#000" stroke-width="2.6"/>
<circle cx="840.5" cy="826.6" r="5.7" fill="none" stroke="#000" stroke-width="2.6"/>
<circle cx="847.7" cy="817.3" r="5.7" fill="none" stroke="#000" stroke-width="2.6"/>
<circle cx="857.7" cy="837" r="5.7" fill="none" stroke="#000" stroke-width="2.6"/>
<circle cx="872.6" cy="840.7" r="5.7" fill="none" stroke="#000" stroke-width="2.6"/>
<circle cx="873" cy="853.2" r="5.7" fill="none" stroke="#000" stroke-width="2.6"/>
<circle cx="879.9" cy="821.9" r="5.7" fill="none" stroke="#000" stroke-width="2.6"/>
<circle cx="881.3" cy="770" r="5.7" fill="none" stroke="#000" stroke-width="2.6"/>
<circle cx="893.8" cy="794.1" r="5.7" fill="none" stroke="#000" stroke-width="2.6"/>
<circle cx="924.1" cy="796.6" r="5.7" fill="none" stroke="#000" stroke-width="2.6"/>
<circle cx="933.2" cy="774.4" r="5.7" fill="none" stroke="#000" stroke-width="2.6"/>
<circle cx="948.9" cy="830.8" r="5.7" fill="none" stroke="#000" stroke-width="2.6"/>
<circle cx="951.8" cy="836.6" r="5.7" fill="none" stroke="#000" stroke-width="2.6"/>
<circle cx="971.8" cy="852.6" r="5.7" fill="none" stroke="#000" stroke-width="2.6"/>
<circle cx="980.9" cy="768.2" r="5.7" fill="none" stroke="#000" stroke-width="2.6"/>
<circle cx="979.4" cy="772.7" r="5.7" fill="none" stroke="#000" stroke-width="2.6"/>
<polygon points="664.2,874.6 658,886.6 670.4,886.6" stroke="none" stroke-width="0" fill="#000" stroke-linejoin="miter"/>
<polygon points="684.3,856.3 678.1,868.3 690.5,868.3" stroke="none" stroke-width="0" fill="#000" stroke-linejoin="miter"/>
<polygon points="687,858 680.8,870 693.2,870" stroke="none" stroke-width="0" fill="#000" stroke-linejoin="miter"/>
<polygon points="711.9,847.2 705.7,859.2 718.1,859.2" stroke="none" stroke-width="0" fill="#000" stroke-linejoin="miter"/>
<polygon points="719.6,860.5 713.4,872.5 725.8,872.5" stroke="none" stroke-width="0" fill="#000" stroke-linejoin="miter"/>
<polygon points="729.1,844.1 722.9,856.1 735.3,856.1" stroke="none" stroke-width="0" fill="#000" stroke-linejoin="miter"/>
<polygon points="755.5,860 749.3,872 761.7,872" stroke="none" stroke-width="0" fill="#000" stroke-linejoin="miter"/>
<polygon points="764.4,832.7 758.2,844.7 770.6,844.7" stroke="none" stroke-width="0" fill="#000" stroke-linejoin="miter"/>
<polygon points="766.9,816.5 760.7,828.5 773.1,828.5" stroke="none" stroke-width="0" fill="#000" stroke-linejoin="miter"/>
<polygon points="772.7,823.1 766.5,835.1 778.9,835.1" stroke="none" stroke-width="0" fill="#000" stroke-linejoin="miter"/>
<polygon points="767.9,826.9 761.7,838.9 774.1,838.9" stroke="none" stroke-width="0" fill="#000" stroke-linejoin="miter"/>
<polygon points="776.2,805.3 770,817.3 782.4,817.3" stroke="none" stroke-width="0" fill="#000" stroke-linejoin="miter"/>
<polygon points="788,791.6 781.8,803.6 794.2,803.6" stroke="none" stroke-width="0" fill="#000" stroke-linejoin="miter"/>
<polygon points="805.2,804.5 799,816.5 811.4,816.5" stroke="none" stroke-width="0" fill="#000" stroke-linejoin="miter"/>
<polygon points="817.7,807.2 811.5,819.2 823.9,819.2" stroke="none" stroke-width="0" fill="#000" stroke-linejoin="miter"/>
<polygon points="819.1,805.7 812.9,817.7 825.3,817.7" stroke="none" stroke-width="0" fill="#000" stroke-linejoin="miter"/>
<polygon points="817.7,816.9 811.5,828.9 823.9,828.9" stroke="none" stroke-width="0" fill="#000" stroke-linejoin="miter"/>
<polygon points="842.6,792.6 836.4,804.6 848.8,804.6" stroke="none" stroke-width="0" fill="#000" stroke-linejoin="miter"/>
<polygon points="843.2,767.8 837,779.8 849.4,779.8" stroke="none" stroke-width="0" fill="#000" stroke-linejoin="miter"/>
<polygon points="853.5,794.3 847.3,806.3 859.7,806.3" stroke="none" stroke-width="0" fill="#000" stroke-linejoin="miter"/>
<polygon points="859.8,781.6 853.6,793.6 866,793.6" stroke="none" stroke-width="0" fill="#000" stroke-linejoin="miter"/>
<polygon points="865.4,766.7 859.2,778.7 871.6,778.7" stroke="none" stroke-width="0" fill="#000" stroke-linejoin="miter"/>
<polygon points="872.2,760.9 866,772.9 878.4,772.9" stroke="none" stroke-width="0" fill="#000" stroke-linejoin="miter"/>
<polygon points="899.6,785 893.4,797 905.8,797" stroke="none" stroke-width="0" fill="#000" stroke-linejoin="miter"/>
<polygon points="905.8,766.7 899.6,778.7 912,778.7" stroke="none" stroke-width="0" fill="#000" stroke-linejoin="miter"/>
<polygon points="918.2,754.3 912,766.3 924.4,766.3" stroke="none" stroke-width="0" fill="#000" stroke-linejoin="miter"/>
<polygon points="925.5,748.7 919.3,760.7 931.7,760.7" stroke="none" stroke-width="0" fill="#000" stroke-linejoin="miter"/>
<polygon points="930.7,775.4 924.5,787.4 936.9,787.4" stroke="none" stroke-width="0" fill="#000" stroke-linejoin="miter"/>
<polygon points="944.8,674 938.6,686 951,686" stroke="none" stroke-width="0" fill="#000" stroke-linejoin="miter"/>
<line x1="664.2" y1="869.1" x2="979.4" y2="769.6" stroke="#000" stroke-width="3" stroke-linecap="butt"/>
<text x="672" y="593.4" font-size="35" text-anchor="start" fill="#000"><tspan font-style="italic">r</tspan> = 0.68</text>
<text x="672" y="633.2" font-size="35" text-anchor="start" fill="#000"><tspan font-style="italic">P</tspan> &lt; 0.001</text>
<text x="537" y="765.5" font-size="35" text-anchor="middle" font-style="italic" transform="rotate(-90 537 765.5)" fill="#000">NT5C1A</text>
<text x="794.5" y="1033.2" font-size="35" text-anchor="middle" font-style="italic" fill="#000">MLL4</text>
<line x1="1141" y1="645.3" x2="1141" y2="915.7" stroke="#000" stroke-width="2.2" stroke-linecap="butt"/>
<line x1="1131" y1="914.6" x2="1489.6" y2="914.6" stroke="#000" stroke-width="2.2" stroke-linecap="butt"/>
<line x1="1131" y1="914.6" x2="1141" y2="914.6" stroke="#000" stroke-width="2.2" stroke-linecap="butt"/>
<text x="1122.5" y="927.2" font-size="34" text-anchor="end" fill="#000">0</text>
<line x1="1131" y1="825.2" x2="1141" y2="825.2" stroke="#000" stroke-width="2.2" stroke-linecap="butt"/>
<text x="1122.5" y="837.8" font-size="34" text-anchor="end" fill="#000">1000</text>
<line x1="1131" y1="735.8" x2="1141" y2="735.8" stroke="#000" stroke-width="2.2" stroke-linecap="butt"/>
<text x="1122.5" y="748.4" font-size="34" text-anchor="end" fill="#000">2000</text>
<line x1="1131" y1="646.4" x2="1141" y2="646.4" stroke="#000" stroke-width="2.2" stroke-linecap="butt"/>
<text x="1122.5" y="659" font-size="34" text-anchor="end" fill="#000">3000</text>
<line x1="1141" y1="914.6" x2="1141" y2="924.6" stroke="#000" stroke-width="2.2" stroke-linecap="butt"/>
<text x="1139.6" y="949.6" font-size="33.5" text-anchor="end" transform="rotate(-30 1139.6 949.6)" fill="#000">2000</text>
<line x1="1228" y1="914.6" x2="1228" y2="924.6" stroke="#000" stroke-width="2.2" stroke-linecap="butt"/>
<text x="1231.3" y="949.6" font-size="33.5" text-anchor="end" transform="rotate(-30 1231.3 949.6)" fill="#000">6000</text>
<line x1="1315.2" y1="914.6" x2="1315.2" y2="924.6" stroke="#000" stroke-width="2.2" stroke-linecap="butt"/>
<text x="1323.2" y="949.6" font-size="33.5" text-anchor="end" transform="rotate(-30 1323.2 949.6)" fill="#000">10000</text>
<line x1="1402" y1="914.6" x2="1402" y2="924.6" stroke="#000" stroke-width="2.2" stroke-linecap="butt"/>
<text x="1414.7" y="949.6" font-size="33.5" text-anchor="end" transform="rotate(-30 1414.7 949.6)" fill="#000">14000</text>
<line x1="1489.2" y1="914.6" x2="1489.2" y2="924.6" stroke="#000" stroke-width="2.2" stroke-linecap="butt"/>
<text x="1506.6" y="949.6" font-size="33.5" text-anchor="end" transform="rotate(-30 1506.6 949.6)" fill="#000">18000</text>
<circle cx="1266.9" cy="692.9" r="5.7" fill="none" stroke="#000" stroke-width="2.6"/>
<circle cx="1392.3" cy="677.3" r="5.7" fill="none" stroke="#000" stroke-width="2.6"/>
<circle cx="1367" cy="713" r="5.7" fill="none" stroke="#000" stroke-width="2.6"/>
<circle cx="1331.2" cy="741" r="5.7" fill="none" stroke="#000" stroke-width="2.6"/>
<circle cx="1238.9" cy="780" r="5.7" fill="none" stroke="#000" stroke-width="2.6"/>
<circle cx="1328.7" cy="780.6" r="5.7" fill="none" stroke="#000" stroke-width="2.6"/>
<circle cx="1315.6" cy="803.8" r="5.7" fill="none" stroke="#000" stroke-width="2.6"/>
<circle cx="1459.7" cy="797.2" r="5.7" fill="none" stroke="#000" stroke-width="2.6"/>
<circle cx="1297.6" cy="820.4" r="5.7" fill="none" stroke="#000" stroke-width="2.6"/>
<circle cx="1377.8" cy="820" r="5.7" fill="none" stroke="#000" stroke-width="2.6"/>
<circle cx="1256.9" cy="833.5" r="5.7" fill="none" stroke="#000" stroke-width="2.6"/>
<circle cx="1327" cy="831.2" r="5.7" fill="none" stroke="#000" stroke-width="2.6"/>
<circle cx="1335.9" cy="826.6" r="5.7" fill="none" stroke="#000" stroke-width="2.6"/>
<circle cx="1349.2" cy="829.7" r="5.7" fill="none" stroke="#000" stroke-width="2.6"/>
<circle cx="1343" cy="840.1" r="5.7" fill="none" stroke="#000" stroke-width="2.6"/>
<circle cx="1381.5" cy="856.1" r="5.7" fill="none" stroke="#000" stroke-width="2.6"/>
<circle cx="1373" cy="864" r="5.7" fill="none" stroke="#000" stroke-width="2.6"/>
<circle cx="1357.7" cy="869.8" r="5.7" fill="none" stroke="#000" stroke-width="2.6"/>
<circle cx="1235.3" cy="872.3" r="5.7" fill="none" stroke="#000" stroke-width="2.6"/>
<circle cx="1295.9" cy="871.8" r="5.7" fill="none" stroke="#000" stroke-width="2.6"/>
<circle cx="1314.6" cy="885.7" r="5.7" fill="none" stroke="#000" stroke-width="2.6"/>
<circle cx="1268.5" cy="887.8" r="5.7" fill="none" stroke="#000" stroke-width="2.6"/>
<circle cx="1173.1" cy="892" r="5.7" fill="none" stroke="#000" stroke-width="2.6"/>
<polygon points="1249.7,755.9 1243.5,767.9 1255.9,767.9" stroke="none" stroke-width="0" fill="#000" stroke-linejoin="miter"/>
<polygon points="1340.1,771.9 1333.9,783.9 1346.3,783.9" stroke="none" stroke-width="0" fill="#000" stroke-linejoin="miter"/>
<polygon points="1261.7,813.8 1255.5,825.8 1267.9,825.8" stroke="none" stroke-width="0" fill="#000" stroke-linejoin="miter"/>
<polygon points="1272.1,819.2 1265.9,831.2 1278.3,831.2" stroke="none" stroke-width="0" fill="#000" stroke-linejoin="miter"/>
<polygon points="1290.7,808.8 1284.5,820.8 1296.9,820.8" stroke="none" stroke-width="0" fill="#000" stroke-linejoin="miter"/>
<polygon points="1288.6,823.3 1282.4,835.3 1294.8,835.3" stroke="none" stroke-width="0" fill="#000" stroke-linejoin="miter"/>
<polygon points="1310.4,827.3 1304.2,839.3 1316.6,839.3" stroke="none" stroke-width="0" fill="#000" stroke-linejoin="miter"/>
<polygon points="1326.6,833.5 1320.4,845.5 1332.8,845.5" stroke="none" stroke-width="0" fill="#000" stroke-linejoin="miter"/>
<polygon points="1347.3,827.9 1341.1,839.9 1353.5,839.9" stroke="none" stroke-width="0" fill="#000" stroke-linejoin="miter"/>
<polygon points="1255,841.8 1248.8,853.8 1261.2,853.8" stroke="none" stroke-width="0" fill="#000" stroke-linejoin="miter"/>
<polygon points="1275.2,853.8 1269,865.8 1281.4,865.8" stroke="none" stroke-width="0" fill="#000" stroke-linejoin="miter"/>
<polygon points="1285.9,849.3 1279.7,861.3 1292.1,861.3" stroke="none" stroke-width="0" fill="#000" stroke-linejoin="miter"/>
<polygon points="1296.5,851.3 1290.3,863.3 1302.7,863.3" stroke="none" stroke-width="0" fill="#000" stroke-linejoin="miter"/>
<polygon points="1299,856.3 1292.8,868.3 1305.2,868.3" stroke="none" stroke-width="0" fill="#000" stroke-linejoin="miter"/>
<polygon points="1321.8,857.5 1315.6,869.5 1328,869.5" stroke="none" stroke-width="0" fill="#000" stroke-linejoin="miter"/>
<polygon points="1332.8,851.7 1326.6,863.7 1339,863.7" stroke="none" stroke-width="0" fill="#000" stroke-linejoin="miter"/>
<polygon points="1347.3,863.8 1341.1,875.8 1353.5,875.8" stroke="none" stroke-width="0" fill="#000" stroke-linejoin="miter"/>
<polygon points="1246.1,863.8 1239.9,875.8 1252.3,875.8" stroke="none" stroke-width="0" fill="#000" stroke-linejoin="miter"/>
<polygon points="1209.8,870.4 1203.6,882.4 1216,882.4" stroke="none" stroke-width="0" fill="#000" stroke-linejoin="miter"/>
<polygon points="1233.7,882.8 1227.5,894.8 1239.9,894.8" stroke="none" stroke-width="0" fill="#000" stroke-linejoin="miter"/>
<polygon points="1250.3,882.8 1244.1,894.8 1256.5,894.8" stroke="none" stroke-width="0" fill="#000" stroke-linejoin="miter"/>
<polygon points="1259.6,886.6 1253.4,898.6 1265.8,898.6" stroke="none" stroke-width="0" fill="#000" stroke-linejoin="miter"/>
<polygon points="1288,883.9 1281.8,895.9 1294.2,895.9" stroke="none" stroke-width="0" fill="#000" stroke-linejoin="miter"/>
<polygon points="1301.1,874.6 1294.9,886.6 1307.3,886.6" stroke="none" stroke-width="0" fill="#000" stroke-linejoin="miter"/>
<polygon points="1360.2,890.1 1354,902.1 1366.4,902.1" stroke="none" stroke-width="0" fill="#000" stroke-linejoin="miter"/>
<polygon points="1214,893.8 1207.8,905.8 1220.2,905.8" stroke="none" stroke-width="0" fill="#000" stroke-linejoin="miter"/>
<polygon points="1195.3,899.4 1189.1,911.4 1201.5,911.4" stroke="none" stroke-width="0" fill="#000" stroke-linejoin="miter"/>
<polygon points="1175.6,894.3 1169.4,906.3 1181.8,906.3" stroke="none" stroke-width="0" fill="#000" stroke-linejoin="miter"/>
<polygon points="1180.8,892.8 1174.6,904.8 1187,904.8" stroke="none" stroke-width="0" fill="#000" stroke-linejoin="miter"/>
<line x1="1173.1" y1="883.7" x2="1459.7" y2="780.6" stroke="#000" stroke-width="3" stroke-linecap="butt"/>
<text x="1168.5" y="593.4" font-size="35" text-anchor="start" fill="#000"><tspan font-style="italic">r</tspan> = 0.44</text>
<text x="1168.5" y="633.2" font-size="35" text-anchor="start" fill="#000"><tspan font-style="italic">P</tspan> &lt; 0.001</text>
<text x="1041.5" y="770.5" font-size="35" text-anchor="middle" font-style="italic" transform="rotate(-90 1041.5 770.5)" fill="#000">AMPD3</text>
<text x="1298" y="1032.8" font-size="35" text-anchor="middle" font-style="italic" fill="#000">MEF2D</text>
<line x1="1646.2" y1="649.4" x2="1646.2" y2="915.5" stroke="#000" stroke-width="2.2" stroke-linecap="butt"/>
<line x1="1636.2" y1="914.4" x2="1989" y2="914.4" stroke="#000" stroke-width="2.2" stroke-linecap="butt"/>
<line x1="1636.2" y1="914.4" x2="1646.2" y2="914.4" stroke="#000" stroke-width="2.2" stroke-linecap="butt"/>
<text x="1627.7" y="927" font-size="34" text-anchor="end" fill="#000">0</text>
<line x1="1636.2" y1="848.4" x2="1646.2" y2="848.4" stroke="#000" stroke-width="2.2" stroke-linecap="butt"/>
<text x="1627.7" y="861" font-size="34" text-anchor="end" fill="#000">1000</text>
<line x1="1636.2" y1="782.5" x2="1646.2" y2="782.5" stroke="#000" stroke-width="2.2" stroke-linecap="butt"/>
<text x="1627.7" y="795.1" font-size="34" text-anchor="end" fill="#000">2000</text>
<line x1="1636.2" y1="716.5" x2="1646.2" y2="716.5" stroke="#000" stroke-width="2.2" stroke-linecap="butt"/>
<text x="1627.7" y="729.1" font-size="34" text-anchor="end" fill="#000">3000</text>
<line x1="1636.2" y1="650.5" x2="1646.2" y2="650.5" stroke="#000" stroke-width="2.2" stroke-linecap="butt"/>
<text x="1627.7" y="663.1" font-size="34" text-anchor="end" fill="#000">4000</text>
<line x1="1646.2" y1="914.4" x2="1646.2" y2="924.4" stroke="#000" stroke-width="2.2" stroke-linecap="butt"/>
<text x="1641.4" y="949.4" font-size="33.5" text-anchor="end" transform="rotate(-30 1641.4 949.4)" fill="#000">2000</text>
<line x1="1731.6" y1="914.4" x2="1731.6" y2="924.4" stroke="#000" stroke-width="2.2" stroke-linecap="butt"/>
<text x="1731.5" y="949.4" font-size="33.5" text-anchor="end" transform="rotate(-30 1731.5 949.4)" fill="#000">6000</text>
<line x1="1817.4" y1="914.4" x2="1817.4" y2="924.4" stroke="#000" stroke-width="2.2" stroke-linecap="butt"/>
<text x="1822" y="949.4" font-size="33.5" text-anchor="end" transform="rotate(-30 1822 949.4)" fill="#000">10000</text>
<line x1="1903.3" y1="914.4" x2="1903.3" y2="924.4" stroke="#000" stroke-width="2.2" stroke-linecap="butt"/>
<text x="1912.6" y="949.4" font-size="33.5" text-anchor="end" transform="rotate(-30 1912.6 949.4)" fill="#000">14000</text>
<line x1="1988.8" y1="914.4" x2="1988.8" y2="924.4" stroke="#000" stroke-width="2.2" stroke-linecap="butt"/>
<text x="2002.8" y="949.4" font-size="33.5" text-anchor="end" transform="rotate(-30 2002.8 949.4)" fill="#000">18000</text>
<circle cx="1677.5" cy="876" r="5.7" fill="none" stroke="#000" stroke-width="2.6"/>
<circle cx="1738.6" cy="860.2" r="5.7" fill="none" stroke="#000" stroke-width="2.6"/>
<circle cx="1741.3" cy="856.7" r="5.7" fill="none" stroke="#000" stroke-width="2.6"/>
<circle cx="1742.8" cy="855.3" r="5.7" fill="none" stroke="#000" stroke-width="2.6"/>
<circle cx="1760" cy="858.8" r="5.7" fill="none" stroke="#000" stroke-width="2.6"/>
<circle cx="1769.8" cy="839.5" r="5.7" fill="none" stroke="#000" stroke-width="2.6"/>
<circle cx="1771.2" cy="803.4" r="5.7" fill="none" stroke="#000" stroke-width="2.6"/>
<circle cx="1798.8" cy="837.4" r="5.7" fill="none" stroke="#000" stroke-width="2.6"/>
<circle cx="1800.2" cy="841.2" r="5.7" fill="none" stroke="#000" stroke-width="2.6"/>
<circle cx="1816.8" cy="826.6" r="5.7" fill="none" stroke="#000" stroke-width="2.6"/>
<circle cx="1829.9" cy="821.5" r="5.7" fill="none" stroke="#000" stroke-width="2.6"/>
<circle cx="1830.5" cy="822.5" r="5.7" fill="none" stroke="#000" stroke-width="2.6"/>
<circle cx="1838.2" cy="836.6" r="5.7" fill="none" stroke="#000" stroke-width="2.6"/>
<circle cx="1832.6" cy="847" r="5.7" fill="none" stroke="#000" stroke-width="2.6"/>
<circle cx="1817.5" cy="853.2" r="5.7" fill="none" stroke="#000" stroke-width="2.6"/>
<circle cx="1850.6" cy="817.3" r="5.7" fill="none" stroke="#000" stroke-width="2.6"/>
<circle cx="1845" cy="794.1" r="5.7" fill="none" stroke="#000" stroke-width="2.6"/>
<circle cx="1858.9" cy="770.2" r="5.7" fill="none" stroke="#000" stroke-width="2.6"/>
<circle cx="1874.1" cy="768.6" r="5.7" fill="none" stroke="#000" stroke-width="2.6"/>
<circle cx="1882.4" cy="774.4" r="5.7" fill="none" stroke="#000" stroke-width="2.6"/>
<circle cx="1893.1" cy="797" r="5.7" fill="none" stroke="#000" stroke-width="2.6"/>
<circle cx="1879" cy="831.2" r="5.7" fill="none" stroke="#000" stroke-width="2.6"/>
<circle cx="1868.3" cy="853" r="5.7" fill="none" stroke="#000" stroke-width="2.6"/>
<circle cx="1959.1" cy="772.7" r="5.7" fill="none" stroke="#000" stroke-width="2.6"/>
<polygon points="1680,857.5 1673.8,869.5 1686.2,869.5" stroke="none" stroke-width="0" fill="#000" stroke-linejoin="miter"/>
<polygon points="1685.8,855.9 1679.6,867.9 1692,867.9" stroke="none" stroke-width="0" fill="#000" stroke-linejoin="miter"/>
<polygon points="1699.9,873.5 1693.7,885.5 1706.1,885.5" stroke="none" stroke-width="0" fill="#000" stroke-linejoin="miter"/>
<polygon points="1713.8,861.1 1707.6,873.1 1720,873.1" stroke="none" stroke-width="0" fill="#000" stroke-linejoin="miter"/>
<polygon points="1717.5,844.5 1711.3,856.5 1723.7,856.5" stroke="none" stroke-width="0" fill="#000" stroke-linejoin="miter"/>
<polygon points="1737.6,847.6 1731.4,859.6 1743.8,859.6" stroke="none" stroke-width="0" fill="#000" stroke-linejoin="miter"/>
<polygon points="1749,832.7 1742.8,844.7 1755.2,844.7" stroke="none" stroke-width="0" fill="#000" stroke-linejoin="miter"/>
<polygon points="1752.8,860 1746.6,872 1759,872" stroke="none" stroke-width="0" fill="#000" stroke-linejoin="miter"/>
<polygon points="1753.8,817.5 1747.6,829.5 1760,829.5" stroke="none" stroke-width="0" fill="#000" stroke-linejoin="miter"/>
<polygon points="1758.4,806.5 1752.2,818.5 1764.6,818.5" stroke="none" stroke-width="0" fill="#000" stroke-linejoin="miter"/>
<polygon points="1762.9,792 1756.7,804 1769.1,804" stroke="none" stroke-width="0" fill="#000" stroke-linejoin="miter"/>
<polygon points="1764.6,826.9 1758.4,838.9 1770.8,838.9" stroke="none" stroke-width="0" fill="#000" stroke-linejoin="miter"/>
<polygon points="1775.4,816.9 1769.2,828.9 1781.6,828.9" stroke="none" stroke-width="0" fill="#000" stroke-linejoin="miter"/>
<polygon points="1778.1,822.7 1771.9,834.7 1784.3,834.7" stroke="none" stroke-width="0" fill="#000" stroke-linejoin="miter"/>
<polygon points="1789.5,805.1 1783.3,817.1 1795.7,817.1" stroke="none" stroke-width="0" fill="#000" stroke-linejoin="miter"/>
<polygon points="1790.5,794.3 1784.3,806.3 1796.7,806.3" stroke="none" stroke-width="0" fill="#000" stroke-linejoin="miter"/>
<polygon points="1800.9,792 1794.7,804 1807.1,804" stroke="none" stroke-width="0" fill="#000" stroke-linejoin="miter"/>
<polygon points="1798.8,804 1792.6,816 1805,816" stroke="none" stroke-width="0" fill="#000" stroke-linejoin="miter"/>
<polygon points="1803.6,808.6 1797.4,820.6 1809.8,820.6" stroke="none" stroke-width="0" fill="#000" stroke-linejoin="miter"/>
<polygon points="1791.5,766.3 1785.3,778.3 1797.7,778.3" stroke="none" stroke-width="0" fill="#000" stroke-linejoin="miter"/>
<polygon points="1794,766.7 1787.8,778.7 1800.2,778.7" stroke="none" stroke-width="0" fill="#000" stroke-linejoin="miter"/>
<polygon points="1812.3,768.4 1806.1,780.4 1818.5,780.4" stroke="none" stroke-width="0" fill="#000" stroke-linejoin="miter"/>
<polygon points="1823.7,754.7 1817.5,766.7 1829.9,766.7" stroke="none" stroke-width="0" fill="#000" stroke-linejoin="miter"/>
<polygon points="1828.9,781.6 1822.7,793.6 1835.1,793.6" stroke="none" stroke-width="0" fill="#000" stroke-linejoin="miter"/>
<polygon points="1834.7,774.6 1828.5,786.6 1840.9,786.6" stroke="none" stroke-width="0" fill="#000" stroke-linejoin="miter"/>
<polygon points="1841.3,761.5 1835.1,773.5 1847.5,773.5" stroke="none" stroke-width="0" fill="#000" stroke-linejoin="miter"/>
<polygon points="1848.6,749.1 1842.4,761.1 1854.8,761.1" stroke="none" stroke-width="0" fill="#000" stroke-linejoin="miter"/>
<polygon points="1848.6,786.4 1842.4,798.4 1854.8,798.4" stroke="none" stroke-width="0" fill="#000" stroke-linejoin="miter"/>
<polygon points="1861.6,674 1855.4,686 1867.8,686" stroke="none" stroke-width="0" fill="#000" stroke-linejoin="miter"/>
<line x1="1685.8" y1="862.9" x2="1959.1" y2="747.8" stroke="#000" stroke-width="3" stroke-linecap="butt"/>
<text x="1658" y="593.4" font-size="35" text-anchor="start" fill="#000"><tspan font-style="italic">r</tspan> = 0.68</text>
<text x="1658" y="633.2" font-size="35" text-anchor="start" fill="#000"><tspan font-style="italic">P</tspan> &lt; 0.001</text>
<text x="1537" y="766.6" font-size="35" text-anchor="middle" font-style="italic" transform="rotate(-90 1537 766.6)" fill="#000">NT5C1A</text>
<text x="1802.6" y="1032.8" font-size="35" text-anchor="middle" font-style="italic" fill="#000">MEF2D</text>
<polygon points="1855.5,545.5 1840,572 1871,572" stroke="none" stroke-width="0" fill="#000" stroke-linejoin="miter"/>
<text x="1887.5" y="574.1" font-size="35" text-anchor="start" fill="#000">Young</text>
<circle cx="1854.2" cy="601.8" r="13.6" fill="none" stroke="#000" stroke-width="3.4"/>
<text x="1887.5" y="616.2" font-size="35" text-anchor="start" fill="#000">Old</text>
<text x="-1" y="1097.3" font-size="56" text-anchor="start" font-weight="bold" fill="#000">c</text>
<line x1="143.5" y1="1124.9" x2="143.5" y2="1483.1" stroke="#000" stroke-width="2.6" stroke-linecap="butt"/>
<line x1="131" y1="1481.8" x2="604.6" y2="1481.8" stroke="#000" stroke-width="2.6" stroke-linecap="butt"/>
<line x1="131" y1="1481.8" x2="143.5" y2="1481.8" stroke="#000" stroke-width="2.6" stroke-linecap="butt"/>
<text x="122.5" y="1494.3" font-size="34.5" text-anchor="end" fill="#000">80</text>
<line x1="131" y1="1410.7" x2="143.5" y2="1410.7" stroke="#000" stroke-width="2.6" stroke-linecap="butt"/>
<text x="122.5" y="1423.2" font-size="34.5" text-anchor="end" fill="#000">90</text>
<line x1="131" y1="1339.6" x2="143.5" y2="1339.6" stroke="#000" stroke-width="2.6" stroke-linecap="butt"/>
<text x="122.5" y="1352.1" font-size="34.5" text-anchor="end" fill="#000">100</text>
<line x1="131" y1="1268.4" x2="143.5" y2="1268.4" stroke="#000" stroke-width="2.6" stroke-linecap="butt"/>
<text x="122.5" y="1280.9" font-size="34.5" text-anchor="end" fill="#000">110</text>
<line x1="131" y1="1197.3" x2="143.5" y2="1197.3" stroke="#000" stroke-width="2.6" stroke-linecap="butt"/>
<text x="122.5" y="1209.8" font-size="34.5" text-anchor="end" fill="#000">120</text>
<line x1="131" y1="1126.2" x2="143.5" y2="1126.2" stroke="#000" stroke-width="2.6" stroke-linecap="butt"/>
<text x="122.5" y="1138.7" font-size="34.5" text-anchor="end" fill="#000">130</text>
<line x1="143.5" y1="1481.8" x2="143.5" y2="1494.3" stroke="#000" stroke-width="2.6" stroke-linecap="butt"/>
<text x="144.7" y="1518.8" font-size="35" text-anchor="end" transform="rotate(-30 144.7 1518.8)" fill="#000">1000</text>
<line x1="235.4" y1="1481.8" x2="235.4" y2="1494.3" stroke="#000" stroke-width="2.6" stroke-linecap="butt"/>
<text x="239.7" y="1518.8" font-size="35" text-anchor="end" transform="rotate(-30 239.7 1518.8)" fill="#000">2000</text>
<line x1="327" y1="1481.8" x2="327" y2="1494.3" stroke="#000" stroke-width="2.6" stroke-linecap="butt"/>
<text x="334.4" y="1518.8" font-size="35" text-anchor="end" transform="rotate(-30 334.4 1518.8)" fill="#000">3000</text>
<line x1="419" y1="1481.8" x2="419" y2="1494.3" stroke="#000" stroke-width="2.6" stroke-linecap="butt"/>
<text x="429.5" y="1518.8" font-size="35" text-anchor="end" transform="rotate(-30 429.5 1518.8)" fill="#000">4000</text>
<line x1="511.3" y1="1481.8" x2="511.3" y2="1494.3" stroke="#000" stroke-width="2.6" stroke-linecap="butt"/>
<text x="524.9" y="1518.8" font-size="35" text-anchor="end" transform="rotate(-30 524.9 1518.8)" fill="#000">5000</text>
<line x1="602" y1="1481.8" x2="602" y2="1494.3" stroke="#000" stroke-width="2.6" stroke-linecap="butt"/>
<text x="618.7" y="1518.8" font-size="35" text-anchor="end" transform="rotate(-30 618.7 1518.8)" fill="#000">6000</text>
<circle cx="559.1" cy="1141.1" r="7.5" fill="none" stroke="#000" stroke-width="3"/>
<circle cx="466.2" cy="1173.1" r="7.5" fill="none" stroke="#000" stroke-width="3"/>
<circle cx="457.3" cy="1212.3" r="7.5" fill="none" stroke="#000" stroke-width="3"/>
<circle cx="355.2" cy="1269.2" r="7.5" fill="none" stroke="#000" stroke-width="3"/>
<circle cx="412.9" cy="1269.2" r="7.5" fill="none" stroke="#000" stroke-width="3"/>
<circle cx="405.3" cy="1280" r="7.5" fill="none" stroke="#000" stroke-width="3"/>
<circle cx="468.1" cy="1276" r="7.5" fill="none" stroke="#000" stroke-width="3"/>
<circle cx="455.4" cy="1283.3" r="7.5" fill="none" stroke="#000" stroke-width="3"/>
<circle cx="350.6" cy="1300.9" r="7.5" fill="none" stroke="#000" stroke-width="3"/>
<circle cx="180.6" cy="1318.5" r="7.5" fill="none" stroke="#000" stroke-width="3"/>
<circle cx="484.4" cy="1315.2" r="7.5" fill="none" stroke="#000" stroke-width="3"/>
<circle cx="361.5" cy="1336.6" r="7.5" fill="none" stroke="#000" stroke-width="3"/>
<circle cx="310" cy="1346.9" r="7.5" fill="none" stroke="#000" stroke-width="3"/>
<circle cx="525" cy="1333.4" r="7.5" fill="none" stroke="#000" stroke-width="3"/>
<circle cx="538.5" cy="1347.4" r="7.5" fill="none" stroke="#000" stroke-width="3"/>
<circle cx="562.4" cy="1354.2" r="7.5" fill="none" stroke="#000" stroke-width="3"/>
<circle cx="589.4" cy="1322.5" r="7.5" fill="none" stroke="#000" stroke-width="3"/>
<circle cx="599.7" cy="1357.7" r="7.5" fill="none" stroke="#000" stroke-width="3"/>
<circle cx="602.4" cy="1382.1" r="7.5" fill="none" stroke="#000" stroke-width="3"/>
<circle cx="368.8" cy="1382.1" r="7.5" fill="none" stroke="#000" stroke-width="3"/>
<circle cx="422.9" cy="1382.9" r="7.5" fill="none" stroke="#000" stroke-width="3"/>
<circle cx="436.5" cy="1389.4" r="7.5" fill="none" stroke="#000" stroke-width="3"/>
<circle cx="324.6" cy="1396.4" r="7.5" fill="none" stroke="#000" stroke-width="3"/>
<polygon points="342.5,1287 334.3,1302.8 350.7,1302.8" stroke="none" stroke-width="0" fill="#000" stroke-linejoin="miter"/>
<polygon points="321.9,1318.7 313.7,1334.5 330.1,1334.5" stroke="none" stroke-width="0" fill="#000" stroke-linejoin="miter"/>
<polygon points="326.8,1340.9 318.6,1356.7 335,1356.7" stroke="none" stroke-width="0" fill="#000" stroke-linejoin="miter"/>
<polygon points="380.4,1333 372.2,1348.8 388.6,1348.8" stroke="none" stroke-width="0" fill="#000" stroke-linejoin="miter"/>
<polygon points="430.5,1329.5 422.3,1345.3 438.7,1345.3" stroke="none" stroke-width="0" fill="#000" stroke-linejoin="miter"/>
<polygon points="456.2,1329.5 448,1345.3 464.4,1345.3" stroke="none" stroke-width="0" fill="#000" stroke-linejoin="miter"/>
<polygon points="207.7,1343.1 199.5,1358.9 215.9,1358.9" stroke="none" stroke-width="0" fill="#000" stroke-linejoin="miter"/>
<polygon points="263.2,1343.1 255,1358.9 271.4,1358.9" stroke="none" stroke-width="0" fill="#000" stroke-linejoin="miter"/>
<polygon points="311.1,1355.8 302.9,1371.6 319.3,1371.6" stroke="none" stroke-width="0" fill="#000" stroke-linejoin="miter"/>
<polygon points="314.6,1362 306.4,1377.8 322.8,1377.8" stroke="none" stroke-width="0" fill="#000" stroke-linejoin="miter"/>
<polygon points="415.6,1356.6 407.4,1372.4 423.8,1372.4" stroke="none" stroke-width="0" fill="#000" stroke-linejoin="miter"/>
<polygon points="417.5,1364.2 409.3,1380 425.7,1380" stroke="none" stroke-width="0" fill="#000" stroke-linejoin="miter"/>
<polygon points="439.2,1354.4 431,1370.2 447.4,1370.2" stroke="none" stroke-width="0" fill="#000" stroke-linejoin="miter"/>
<polygon points="492,1353.9 483.8,1369.7 500.2,1369.7" stroke="none" stroke-width="0" fill="#000" stroke-linejoin="miter"/>
<polygon points="517.7,1361.5 509.5,1377.3 525.9,1377.3" stroke="none" stroke-width="0" fill="#000" stroke-linejoin="miter"/>
<polygon points="535.3,1371.5 527.1,1387.3 543.5,1387.3" stroke="none" stroke-width="0" fill="#000" stroke-linejoin="miter"/>
<polygon points="552.9,1347.1 544.7,1362.9 561.1,1362.9" stroke="none" stroke-width="0" fill="#000" stroke-linejoin="miter"/>
<polygon points="202.8,1375.5 194.6,1391.3 211,1391.3" stroke="none" stroke-width="0" fill="#000" stroke-linejoin="miter"/>
<polygon points="176.5,1385.8 168.3,1401.6 184.7,1401.6" stroke="none" stroke-width="0" fill="#000" stroke-linejoin="miter"/>
<polygon points="314.6,1385.8 306.4,1401.6 322.8,1401.6" stroke="none" stroke-width="0" fill="#000" stroke-linejoin="miter"/>
<polygon points="383.1,1382.3 374.9,1398.1 391.3,1398.1" stroke="none" stroke-width="0" fill="#000" stroke-linejoin="miter"/>
<polygon points="385,1399.9 376.8,1415.7 393.2,1415.7" stroke="none" stroke-width="0" fill="#000" stroke-linejoin="miter"/>
<polygon points="446.7,1399.9 438.5,1415.7 454.9,1415.7" stroke="none" stroke-width="0" fill="#000" stroke-linejoin="miter"/>
<polygon points="500.1,1404 491.9,1419.8 508.3,1419.8" stroke="none" stroke-width="0" fill="#000" stroke-linejoin="miter"/>
<polygon points="251,1403.4 242.8,1419.2 259.2,1419.2" stroke="none" stroke-width="0" fill="#000" stroke-linejoin="miter"/>
<polygon points="299.2,1410.7 291,1426.5 307.4,1426.5" stroke="none" stroke-width="0" fill="#000" stroke-linejoin="miter"/>
<polygon points="365.5,1414.3 357.3,1430.1 373.7,1430.1" stroke="none" stroke-width="0" fill="#000" stroke-linejoin="miter"/>
<polygon points="240.7,1424.8 232.5,1440.6 248.9,1440.6" stroke="none" stroke-width="0" fill="#000" stroke-linejoin="miter"/>
<polygon points="527.7,1236.7 519.5,1252.5 535.9,1252.5" stroke="none" stroke-width="0" fill="#000" stroke-linejoin="miter"/>
<line x1="176.5" y1="1378.6" x2="602.4" y2="1312.2" stroke="#000" stroke-width="3.3" stroke-linecap="butt"/>
<text x="171" y="1143.5" font-size="35" text-anchor="start" fill="#000"><tspan font-style="italic">r</tspan> = 0.26</text>
<text x="171" y="1185.5" font-size="35" text-anchor="start" fill="#000"><tspan font-style="italic">P</tspan> = 0.054</text>
<text x="49.6" y="1300" font-size="34.5" text-anchor="middle" transform="rotate(-90 49.6 1300)" fill="#000">Glucose (mg/dL)</text>
<text x="355.5" y="1590" font-size="35" text-anchor="middle" font-style="italic" fill="#000">MLL4</text>
<line x1="811.3" y1="1124.9" x2="811.3" y2="1483.1" stroke="#000" stroke-width="2.6" stroke-linecap="butt"/>
<line x1="798.8" y1="1481.8" x2="1272.9" y2="1481.8" stroke="#000" stroke-width="2.6" stroke-linecap="butt"/>
<line x1="798.8" y1="1481.8" x2="811.3" y2="1481.8" stroke="#000" stroke-width="2.6" stroke-linecap="butt"/>
<text x="790.3" y="1494.3" font-size="34.5" text-anchor="end" fill="#000">80</text>
<line x1="798.8" y1="1410.7" x2="811.3" y2="1410.7" stroke="#000" stroke-width="2.6" stroke-linecap="butt"/>
<text x="790.3" y="1423.2" font-size="34.5" text-anchor="end" fill="#000">90</text>
<line x1="798.8" y1="1339.6" x2="811.3" y2="1339.6" stroke="#000" stroke-width="2.6" stroke-linecap="butt"/>
<text x="790.3" y="1352.1" font-size="34.5" text-anchor="end" fill="#000">100</text>
<line x1="798.8" y1="1268.4" x2="811.3" y2="1268.4" stroke="#000" stroke-width="2.6" stroke-linecap="butt"/>
<text x="790.3" y="1280.9" font-size="34.5" text-anchor="end" fill="#000">110</text>
<line x1="798.8" y1="1197.3" x2="811.3" y2="1197.3" stroke="#000" stroke-width="2.6" stroke-linecap="butt"/>
<text x="790.3" y="1209.8" font-size="34.5" text-anchor="end" fill="#000">120</text>
<line x1="798.8" y1="1126.2" x2="811.3" y2="1126.2" stroke="#000" stroke-width="2.6" stroke-linecap="butt"/>
<text x="790.3" y="1138.7" font-size="34.5" text-anchor="end" fill="#000">130</text>
<line x1="811.3" y1="1481.8" x2="811.3" y2="1494.3" stroke="#000" stroke-width="2.6" stroke-linecap="butt"/>
<text x="811.8" y="1521.3" font-size="35" text-anchor="end" transform="rotate(-30 811.8 1521.3)" fill="#000">0</text>
<line x1="964.9" y1="1481.8" x2="964.9" y2="1494.3" stroke="#000" stroke-width="2.6" stroke-linecap="butt"/>
<text x="963.6" y="1521.3" font-size="35" text-anchor="end" transform="rotate(-30 963.6 1521.3)" fill="#000">4000</text>
<line x1="1118.7" y1="1481.8" x2="1118.7" y2="1494.3" stroke="#000" stroke-width="2.6" stroke-linecap="butt"/>
<text x="1115.6" y="1521.3" font-size="35" text-anchor="end" transform="rotate(-30 1115.6 1521.3)" fill="#000">8000</text>
<line x1="1272" y1="1481.8" x2="1272" y2="1494.3" stroke="#000" stroke-width="2.6" stroke-linecap="butt"/>
<text x="1267.1" y="1521.3" font-size="35" text-anchor="end" transform="rotate(-30 1267.1 1521.3)" fill="#000">12000</text>
<circle cx="1168.7" cy="1141.1" r="7.5" fill="none" stroke="#000" stroke-width="3"/>
<circle cx="1062.6" cy="1173.1" r="7.5" fill="none" stroke="#000" stroke-width="3"/>
<circle cx="1088.3" cy="1212.3" r="7.5" fill="none" stroke="#000" stroke-width="3"/>
<circle cx="1087.5" cy="1269.2" r="7.5" fill="none" stroke="#000" stroke-width="3"/>
<circle cx="1095.6" cy="1269.2" r="7.5" fill="none" stroke="#000" stroke-width="3"/>
<circle cx="1076.7" cy="1280" r="7.5" fill="none" stroke="#000" stroke-width="3"/>
<circle cx="1171.4" cy="1283.3" r="7.5" fill="none" stroke="#000" stroke-width="3"/>
<circle cx="1203.9" cy="1276" r="7.5" fill="none" stroke="#000" stroke-width="3"/>
<circle cx="1102.9" cy="1300.9" r="7.5" fill="none" stroke="#000" stroke-width="3"/>
<circle cx="888.5" cy="1318.5" r="7.5" fill="none" stroke="#000" stroke-width="3"/>
<circle cx="1150.6" cy="1315.2" r="7.5" fill="none" stroke="#000" stroke-width="3"/>
<circle cx="1161.4" cy="1322.5" r="7.5" fill="none" stroke="#000" stroke-width="3"/>
<circle cx="1115.1" cy="1336.6" r="7.5" fill="none" stroke="#000" stroke-width="3"/>
<circle cx="1184.2" cy="1333.4" r="7.5" fill="none" stroke="#000" stroke-width="3"/>
<circle cx="995.5" cy="1346.9" r="7.5" fill="none" stroke="#000" stroke-width="3"/>
<circle cx="1055.8" cy="1354.2" r="7.5" fill="none" stroke="#000" stroke-width="3"/>
<circle cx="1153.8" cy="1346.9" r="7.5" fill="none" stroke="#000" stroke-width="3"/>
<circle cx="1248.1" cy="1357.7" r="7.5" fill="none" stroke="#000" stroke-width="3"/>
<circle cx="1001.7" cy="1382.1" r="7.5" fill="none" stroke="#000" stroke-width="3"/>
<circle cx="1020.6" cy="1390.2" r="7.5" fill="none" stroke="#000" stroke-width="3"/>
<circle cx="1099.7" cy="1382.9" r="7.5" fill="none" stroke="#000" stroke-width="3"/>
<circle cx="1121.3" cy="1382.1" r="7.5" fill="none" stroke="#000" stroke-width="3"/>
<circle cx="962.2" cy="1396.4" r="7.5" fill="none" stroke="#000" stroke-width="3"/>
<polygon points="1122.7,1236.7 1114.5,1252.5 1130.9,1252.5" stroke="none" stroke-width="0" fill="#000" stroke-linejoin="miter"/>
<polygon points="1044.2,1287 1036,1302.8 1052.4,1302.8" stroke="none" stroke-width="0" fill="#000" stroke-linejoin="miter"/>
<polygon points="1018.5,1318.7 1010.3,1334.5 1026.7,1334.5" stroke="none" stroke-width="0" fill="#000" stroke-linejoin="miter"/>
<polygon points="930.5,1343.1 922.3,1358.9 938.7,1358.9" stroke="none" stroke-width="0" fill="#000" stroke-linejoin="miter"/>
<polygon points="944,1343.1 935.8,1358.9 952.2,1358.9" stroke="none" stroke-width="0" fill="#000" stroke-linejoin="miter"/>
<polygon points="1048.2,1339.8 1040,1355.6 1056.4,1355.6" stroke="none" stroke-width="0" fill="#000" stroke-linejoin="miter"/>
<polygon points="1083.4,1332.2 1075.2,1348 1091.6,1348" stroke="none" stroke-width="0" fill="#000" stroke-linejoin="miter"/>
<polygon points="1087.5,1329.5 1079.3,1345.3 1095.7,1345.3" stroke="none" stroke-width="0" fill="#000" stroke-linejoin="miter"/>
<polygon points="1114.6,1329.5 1106.4,1345.3 1122.8,1345.3" stroke="none" stroke-width="0" fill="#000" stroke-linejoin="miter"/>
<polygon points="1113.8,1347.9 1105.6,1363.7 1122,1363.7" stroke="none" stroke-width="0" fill="#000" stroke-linejoin="miter"/>
<polygon points="1009,1354.4 1000.8,1370.2 1017.2,1370.2" stroke="none" stroke-width="0" fill="#000" stroke-linejoin="miter"/>
<polygon points="1016.3,1361.5 1008.1,1377.3 1024.5,1377.3" stroke="none" stroke-width="0" fill="#000" stroke-linejoin="miter"/>
<polygon points="1079.4,1357.4 1071.2,1373.2 1087.6,1373.2" stroke="none" stroke-width="0" fill="#000" stroke-linejoin="miter"/>
<polygon points="1087.5,1364.2 1079.3,1380 1095.7,1380" stroke="none" stroke-width="0" fill="#000" stroke-linejoin="miter"/>
<polygon points="1088.9,1371.5 1080.7,1387.3 1097.1,1387.3" stroke="none" stroke-width="0" fill="#000" stroke-linejoin="miter"/>
<polygon points="1139.8,1361.5 1131.6,1377.3 1148,1377.3" stroke="none" stroke-width="0" fill="#000" stroke-linejoin="miter"/>
<polygon points="1147.1,1354.4 1138.9,1370.2 1155.3,1370.2" stroke="none" stroke-width="0" fill="#000" stroke-linejoin="miter"/>
<polygon points="1152.5,1354.4 1144.3,1370.2 1160.7,1370.2" stroke="none" stroke-width="0" fill="#000" stroke-linejoin="miter"/>
<polygon points="902.1,1375.5 893.9,1391.3 910.3,1391.3" stroke="none" stroke-width="0" fill="#000" stroke-linejoin="miter"/>
<polygon points="946.7,1385.8 938.5,1401.6 954.9,1401.6" stroke="none" stroke-width="0" fill="#000" stroke-linejoin="miter"/>
<polygon points="971.1,1385.8 962.9,1401.6 979.3,1401.6" stroke="none" stroke-width="0" fill="#000" stroke-linejoin="miter"/>
<polygon points="1048.2,1382.3 1040,1398.1 1056.4,1398.1" stroke="none" stroke-width="0" fill="#000" stroke-linejoin="miter"/>
<polygon points="958.4,1404 950.2,1419.8 966.6,1419.8" stroke="none" stroke-width="0" fill="#000" stroke-linejoin="miter"/>
<polygon points="1028.8,1404 1020.6,1419.8 1037,1419.8" stroke="none" stroke-width="0" fill="#000" stroke-linejoin="miter"/>
<polygon points="1049.6,1399.9 1041.4,1415.7 1057.8,1415.7" stroke="none" stroke-width="0" fill="#000" stroke-linejoin="miter"/>
<polygon points="1027.9,1414.8 1019.7,1430.6 1036.1,1430.6" stroke="none" stroke-width="0" fill="#000" stroke-linejoin="miter"/>
<polygon points="1094.8,1410.7 1086.6,1426.5 1103,1426.5" stroke="none" stroke-width="0" fill="#000" stroke-linejoin="miter"/>
<polygon points="1110.5,1399.9 1102.3,1415.7 1118.7,1415.7" stroke="none" stroke-width="0" fill="#000" stroke-linejoin="miter"/>
<polygon points="964.9,1424.8 956.7,1440.6 973.1,1440.6" stroke="none" stroke-width="0" fill="#000" stroke-linejoin="miter"/>
<line x1="888.5" y1="1392.1" x2="1248.1" y2="1294.9" stroke="#000" stroke-width="3.3" stroke-linecap="butt"/>
<text x="844.5" y="1143.5" font-size="35" text-anchor="start" fill="#000"><tspan font-style="italic">r</tspan> = 0.44</text>
<text x="844.5" y="1185.5" font-size="35" text-anchor="start" fill="#000"><tspan font-style="italic">P</tspan> = 0.001</text>
<text x="717.5" y="1301" font-size="34.5" text-anchor="middle" transform="rotate(-90 717.5 1301)" fill="#000">Glucose (mg/dL)</text>
<text x="1033.6" y="1591.5" font-size="35" text-anchor="middle" font-style="italic" fill="#000">MEF2A</text>
<line x1="1477" y1="1124.9" x2="1477" y2="1482.3" stroke="#000" stroke-width="2.6" stroke-linecap="butt"/>
<line x1="1464.5" y1="1481" x2="1939" y2="1481" stroke="#000" stroke-width="2.6" stroke-linecap="butt"/>
<line x1="1464.5" y1="1481" x2="1477" y2="1481" stroke="#000" stroke-width="2.6" stroke-linecap="butt"/>
<text x="1456" y="1493.5" font-size="34.5" text-anchor="end" fill="#000">20</text>
<line x1="1464.5" y1="1362.7" x2="1477" y2="1362.7" stroke="#000" stroke-width="2.6" stroke-linecap="butt"/>
<text x="1456" y="1375.2" font-size="34.5" text-anchor="end" fill="#000">24</text>
<line x1="1464.5" y1="1244.5" x2="1477" y2="1244.5" stroke="#000" stroke-width="2.6" stroke-linecap="butt"/>
<text x="1456" y="1257" font-size="34.5" text-anchor="end" fill="#000">28</text>
<line x1="1464.5" y1="1126.2" x2="1477" y2="1126.2" stroke="#000" stroke-width="2.6" stroke-linecap="butt"/>
<text x="1456" y="1138.7" font-size="34.5" text-anchor="end" fill="#000">32</text>
<line x1="1477" y1="1481" x2="1477" y2="1493.5" stroke="#000" stroke-width="2.6" stroke-linecap="butt"/>
<text x="1487.5" y="1524" font-size="35" text-anchor="end" transform="rotate(-30 1487.5 1524)" fill="#000">2000</text>
<line x1="1591.6" y1="1481" x2="1591.6" y2="1493.5" stroke="#000" stroke-width="2.6" stroke-linecap="butt"/>
<text x="1602.1" y="1524" font-size="35" text-anchor="end" transform="rotate(-30 1602.1 1524)" fill="#000">4500</text>
<line x1="1707" y1="1481" x2="1707" y2="1493.5" stroke="#000" stroke-width="2.6" stroke-linecap="butt"/>
<text x="1717.5" y="1524" font-size="35" text-anchor="end" transform="rotate(-30 1717.5 1524)" fill="#000">7000</text>
<line x1="1822.6" y1="1481" x2="1822.6" y2="1493.5" stroke="#000" stroke-width="2.6" stroke-linecap="butt"/>
<text x="1833.1" y="1524" font-size="35" text-anchor="end" transform="rotate(-30 1833.1 1524)" fill="#000">9500</text>
<line x1="1937.8" y1="1481" x2="1937.8" y2="1493.5" stroke="#000" stroke-width="2.6" stroke-linecap="butt"/>
<text x="1948.3" y="1524" font-size="35" text-anchor="end" transform="rotate(-30 1948.3 1524)" fill="#000">12000</text>
<circle cx="1730.7" cy="1142.6" r="7.5" fill="none" stroke="#000" stroke-width="3"/>
<circle cx="1734.6" cy="1180.5" r="7.5" fill="none" stroke="#000" stroke-width="3"/>
<circle cx="1855.7" cy="1188.8" r="7.5" fill="none" stroke="#000" stroke-width="3"/>
<circle cx="1476.9" cy="1172.2" r="7.5" fill="none" stroke="#000" stroke-width="3"/>
<circle cx="1908.2" cy="1222.5" r="7.5" fill="none" stroke="#000" stroke-width="3"/>
<circle cx="1791.6" cy="1224.2" r="7.5" fill="none" stroke="#000" stroke-width="3"/>
<circle cx="1814.2" cy="1231.1" r="7.5" fill="none" stroke="#000" stroke-width="3"/>
<circle cx="1816.5" cy="1247.4" r="7.5" fill="none" stroke="#000" stroke-width="3"/>
<circle cx="1748.7" cy="1232.5" r="7.5" fill="none" stroke="#000" stroke-width="3"/>
<circle cx="1613.2" cy="1246.3" r="7.5" fill="none" stroke="#000" stroke-width="3"/>
<circle cx="1703.6" cy="1260.7" r="7.5" fill="none" stroke="#000" stroke-width="3"/>
<circle cx="1716.1" cy="1275.9" r="7.5" fill="none" stroke="#000" stroke-width="3"/>
<circle cx="1716.9" cy="1277.3" r="7.5" fill="none" stroke="#000" stroke-width="3"/>
<circle cx="1686.5" cy="1305.8" r="7.5" fill="none" stroke="#000" stroke-width="3"/>
<circle cx="1725.2" cy="1313.2" r="7.5" fill="none" stroke="#000" stroke-width="3"/>
<circle cx="1605.5" cy="1337.6" r="7.5" fill="none" stroke="#000" stroke-width="3"/>
<circle cx="1635.3" cy="1340.3" r="7.5" fill="none" stroke="#000" stroke-width="3"/>
<circle cx="1803.7" cy="1335.3" r="7.5" fill="none" stroke="#000" stroke-width="3"/>
<circle cx="1831.7" cy="1347" r="7.5" fill="none" stroke="#000" stroke-width="3"/>
<circle cx="1565.4" cy="1376" r="7.5" fill="none" stroke="#000" stroke-width="3"/>
<circle cx="1757" cy="1387.3" r="7.5" fill="none" stroke="#000" stroke-width="3"/>
<circle cx="1795.7" cy="1425.8" r="7.5" fill="none" stroke="#000" stroke-width="3"/>
<circle cx="1677.4" cy="1470.8" r="7.5" fill="none" stroke="#000" stroke-width="3"/>
<polygon points="1777.7,1150.5 1769.5,1166.3 1785.9,1166.3" stroke="none" stroke-width="0" fill="#000" stroke-linejoin="miter"/>
<polygon points="1717.5,1161 1709.3,1176.8 1725.7,1176.8" stroke="none" stroke-width="0" fill="#000" stroke-linejoin="miter"/>
<polygon points="1663.5,1216.3 1655.3,1232.1 1671.7,1232.1" stroke="none" stroke-width="0" fill="#000" stroke-linejoin="miter"/>
<polygon points="1758.4,1225.1 1750.2,1240.9 1766.6,1240.9" stroke="none" stroke-width="0" fill="#000" stroke-linejoin="miter"/>
<polygon points="1743.7,1235.6 1735.5,1251.4 1751.9,1251.4" stroke="none" stroke-width="0" fill="#000" stroke-linejoin="miter"/>
<polygon points="1710.6,1256.9 1702.4,1272.7 1718.8,1272.7" stroke="none" stroke-width="0" fill="#000" stroke-linejoin="miter"/>
<polygon points="1715.5,1279.1 1707.3,1294.9 1723.7,1294.9" stroke="none" stroke-width="0" fill="#000" stroke-linejoin="miter"/>
<polygon points="1669.9,1284 1661.7,1299.8 1678.1,1299.8" stroke="none" stroke-width="0" fill="#000" stroke-linejoin="miter"/>
<polygon points="1749.3,1283.2 1741.1,1299 1757.5,1299" stroke="none" stroke-width="0" fill="#000" stroke-linejoin="miter"/>
<polygon points="1621.5,1304.5 1613.3,1320.3 1629.7,1320.3" stroke="none" stroke-width="0" fill="#000" stroke-linejoin="miter"/>
<polygon points="1629.8,1310.9 1621.6,1326.7 1638,1326.7" stroke="none" stroke-width="0" fill="#000" stroke-linejoin="miter"/>
<polygon points="1668.5,1326.1 1660.3,1341.9 1676.7,1341.9" stroke="none" stroke-width="0" fill="#000" stroke-linejoin="miter"/>
<polygon points="1747.9,1331.6 1739.7,1347.4 1756.1,1347.4" stroke="none" stroke-width="0" fill="#000" stroke-linejoin="miter"/>
<polygon points="1544.1,1336.6 1535.9,1352.4 1552.3,1352.4" stroke="none" stroke-width="0" fill="#000" stroke-linejoin="miter"/>
<polygon points="1644.2,1347.6 1636,1363.4 1652.4,1363.4" stroke="none" stroke-width="0" fill="#000" stroke-linejoin="miter"/>
<polygon points="1716.1,1357 1707.9,1372.8 1724.3,1372.8" stroke="none" stroke-width="0" fill="#000" stroke-linejoin="miter"/>
<polygon points="1527.5,1370.9 1519.3,1386.7 1535.7,1386.7" stroke="none" stroke-width="0" fill="#000" stroke-linejoin="miter"/>
<polygon points="1493.5,1379.2 1485.3,1395 1501.7,1395" stroke="none" stroke-width="0" fill="#000" stroke-linejoin="miter"/>
<polygon points="1560.7,1384.1 1552.5,1399.9 1568.9,1399.9" stroke="none" stroke-width="0" fill="#000" stroke-linejoin="miter"/>
<polygon points="1575.9,1388.3 1567.7,1404.1 1584.1,1404.1" stroke="none" stroke-width="0" fill="#000" stroke-linejoin="miter"/>
<polygon points="1632.6,1376.7 1624.4,1392.5 1640.8,1392.5" stroke="none" stroke-width="0" fill="#000" stroke-linejoin="miter"/>
<polygon points="1669.1,1394.4 1660.9,1410.2 1677.3,1410.2" stroke="none" stroke-width="0" fill="#000" stroke-linejoin="miter"/>
<polygon points="1724.9,1402.1 1716.7,1417.9 1733.1,1417.9" stroke="none" stroke-width="0" fill="#000" stroke-linejoin="miter"/>
<polygon points="1645.6,1408.5 1637.4,1424.3 1653.8,1424.3" stroke="none" stroke-width="0" fill="#000" stroke-linejoin="miter"/>
<polygon points="1705.6,1410.4 1697.4,1426.2 1713.8,1426.2" stroke="none" stroke-width="0" fill="#000" stroke-linejoin="miter"/>
<polygon points="1792.9,1429.2 1784.7,1445 1801.1,1445" stroke="none" stroke-width="0" fill="#000" stroke-linejoin="miter"/>
<polygon points="1546.9,1440.3 1538.7,1456.1 1555.1,1456.1" stroke="none" stroke-width="0" fill="#000" stroke-linejoin="miter"/>
<polygon points="1569.5,1440.3 1561.3,1456.1 1577.7,1456.1" stroke="none" stroke-width="0" fill="#000" stroke-linejoin="miter"/>
<polygon points="1785.2,1462.9 1777,1478.7 1793.4,1478.7" stroke="none" stroke-width="0" fill="#000" stroke-linejoin="miter"/>
<line x1="1478.3" y1="1376.8" x2="1908.2" y2="1255.2" stroke="#000" stroke-width="3.3" stroke-linecap="butt"/>
<text x="1509" y="1143.7" font-size="35" text-anchor="start" fill="#000"><tspan font-style="italic">r</tspan> = 0.32</text>
<text x="1509" y="1184.7" font-size="35" text-anchor="start" fill="#000"><tspan font-style="italic">P</tspan> = 0.02</text>
<text x="1399" y="1289" font-size="34.5" text-anchor="middle" transform="rotate(-90 1399 1289)" fill="#000">BMI (kg/m<tspan font-size="22" dy="-12">2</tspan><tspan dy="12">)</tspan></text>
<text x="1690" y="1592.5" font-size="35" text-anchor="middle" font-style="italic" fill="#000">MEF2A</text>
<polygon points="1855.5,1055.8 1840,1082.2 1871,1082.2" stroke="none" stroke-width="0" fill="#000" stroke-linejoin="miter"/>
<text x="1887.5" y="1084.3" font-size="35" text-anchor="start" fill="#000">Young</text>
<circle cx="1854.2" cy="1112" r="13.6" fill="none" stroke="#000" stroke-width="3.4"/>
<text x="1887.5" y="1127.2" font-size="35" text-anchor="start" fill="#000">Old</text>
<defs><filter id="b0_8" x="-50%" y="-50%" width="200%" height="200%"><feGaussianBlur stdDeviation="0.8"/></filter><filter id="b1_2" x="-50%" y="-50%" width="200%" height="200%"><feGaussianBlur stdDeviation="1.2"/></filter><filter id="b1_4" x="-50%" y="-50%" width="200%" height="200%"><feGaussianBlur stdDeviation="1.4"/></filter><filter id="b1_6" x="-50%" y="-50%" width="200%" height="200%"><feGaussianBlur stdDeviation="1.6"/></filter><filter id="b1_8" x="-50%" y="-50%" width="200%" height="200%"><feGaussianBlur stdDeviation="1.8"/></filter><filter id="b2" x="-50%" y="-50%" width="200%" height="200%"><feGaussianBlur stdDeviation="2"/></filter><filter id="b2_2" x="-50%" y="-50%" width="200%" height="200%"><feGaussianBlur stdDeviation="2.2"/></filter><filter id="b2_5" x="-50%" y="-50%" width="200%" height="200%"><feGaussianBlur stdDeviation="2.5"/></filter><filter id="b3" x="-50%" y="-50%" width="200%" height="200%"><feGaussianBlur stdDeviation="3"/></filter><filter id="b3_5" x="-50%" y="-50%" width="200%" height="200%"><feGaussianBlur stdDeviation="3.5"/></filter><filter id="b4" x="-50%" y="-50%" width="200%" height="200%"><feGaussianBlur stdDeviation="4"/></filter><filter id="b5" x="-50%" y="-50%" width="200%" height="200%"><feGaussianBlur stdDeviation="5"/></filter><filter id="b6" x="-50%" y="-50%" width="200%" height="200%"><feGaussianBlur stdDeviation="6"/></filter><filter id="a1_5_4" x="-50%" y="-50%" width="200%" height="200%"><feGaussianBlur stdDeviation="1.5 4"/></filter><filter id="a2_5" x="-50%" y="-50%" width="200%" height="200%"><feGaussianBlur stdDeviation="2 5"/></filter><filter id="a1_5_3" x="-50%" y="-50%" width="200%" height="200%"><feGaussianBlur stdDeviation="1.5 3"/></filter><filter id="a2_3" x="-50%" y="-50%" width="200%" height="200%"><feGaussianBlur stdDeviation="2 3"/></filter><filter id="a1_2_2_5" x="-50%" y="-50%" width="200%" height="200%"><feGaussianBlur stdDeviation="1.2 2.5"/></filter><filter id="a3_6" x="-50%" y="-50%" width="200%" height="200%"><feGaussianBlur stdDeviation="3 6"/></filter><filter id="a2_5_4" x="-50%" y="-50%" width="200%" height="200%"><feGaussianBlur stdDeviation="2.5 4"/></filter><clipPath id="cp0"><rect x="216.3" y="1800.6" width="378.7" height="168.4"/></clipPath><clipPath id="cp1"><rect x="216.3" y="1988.4" width="378.7" height="93.6"/></clipPath><clipPath id="cp2"><rect x="216.3" y="2101.6" width="378.7" height="94.7"/></clipPath><clipPath id="cp3"><rect x="216.3" y="2215.8" width="378.7" height="94"/></clipPath><clipPath id="cp4"><rect x="216.3" y="2328.8" width="378.7" height="86.8"/></clipPath><filter id="noise" x="0" y="0" width="100%" height="100%"><feTurbulence type="fractalNoise" baseFrequency="0.9" numOctaves="2" seed="3"/><feColorMatrix values="0 0 0 0 0  0 0 0 0 0  0 0 0 0 0  0 0 0 0.9 -0.38"/></filter></defs>
<text x="-1.5" y="1683" font-size="53" text-anchor="start" font-weight="bold" fill="#000">d</text>
<rect x="216.3" y="1800.6" width="378.7" height="168.4" fill="#e6e6e6" stroke="none" stroke-width="0"/>
<g clip-path="url(#cp0)">
<rect x="216.3" y="1800.6" width="378.7" height="168.4" filter="url(#noise)" opacity="0.2"/>
<rect x="226" y="1834" width="43" height="86" rx="3" fill="#a2a2a2" fill-opacity="0.8" filter="url(#a3_6)"/>
<rect x="226" y="1836" width="43" height="16" rx="3" fill="#8c8c8c" fill-opacity="0.8" filter="url(#a3_6)"/>
<rect x="227" y="1850" width="41" height="22" rx="3" fill="#5a5a5a" fill-opacity="0.9" filter="url(#a2_5_4)"/>
<rect x="226" y="1848" width="9" height="25" rx="2" fill="#303030" fill-opacity="0.8" filter="url(#a2_5_4)"/>
<rect x="259" y="1848" width="9" height="25" rx="2" fill="#282828" fill-opacity="0.8" filter="url(#a2_5_4)"/>
<rect x="228" y="1874" width="40" height="18" rx="3" fill="#8a8a8a" fill-opacity="0.7" filter="url(#a3_6)"/>
<rect x="229" y="1893" width="39" height="11" rx="3" fill="#606060" fill-opacity="0.7" filter="url(#a2_5_4)"/>
<rect x="230" y="1949" width="40" height="18" rx="3" fill="#aaaaaa" fill-opacity="0.8" filter="url(#a3_6)"/>
<rect x="351" y="1823" width="43" height="88" rx="3" fill="#9e9e9e" fill-opacity="0.8" filter="url(#a3_6)"/>
<rect x="351" y="1845" width="43" height="32" rx="3" fill="#404040" fill-opacity="0.9" filter="url(#a2_5_4)"/>
<rect x="350" y="1847" width="12" height="28" rx="2" fill="#141414" fill-opacity="0.8" filter="url(#a2_5_4)"/>
<rect x="377" y="1843" width="17" height="36" rx="3" fill="#000" fill-opacity="1" filter="url(#a2_5_4)"/>
<rect x="379" y="1876" width="15" height="32" rx="3" fill="#5a5a5a" fill-opacity="0.8" filter="url(#a3_6)"/>
<rect x="353" y="1946" width="41" height="20" rx="3" fill="#a2a2a2" fill-opacity="0.8" filter="url(#a3_6)"/>
<rect x="474" y="1810" width="47" height="90" rx="3" fill="#9c9c9c" fill-opacity="0.8" filter="url(#a3_6)"/>
<rect x="474" y="1830" width="46" height="30" rx="3" fill="#4a4a4a" fill-opacity="0.9" filter="url(#a2_5_4)"/>
<rect x="506" y="1812" width="14" height="52" rx="3" fill="#000" fill-opacity="1" filter="url(#a2_5_4)"/>
<rect x="507" y="1862" width="13" height="32" rx="3" fill="#5e5e5e" fill-opacity="0.8" filter="url(#a3_6)"/>
<rect x="477" y="1945" width="45" height="21" rx="3" fill="#a6a6a6" fill-opacity="0.8" filter="url(#a3_6)"/>
<circle cx="366" cy="1913" r="1.3" fill="#000" stroke="none" stroke-width="0"/>
<circle cx="323" cy="1914" r="1" fill="#222" stroke="none" stroke-width="0"/>
<circle cx="421" cy="1885" r="1.8" fill="#000" stroke="none" stroke-width="0"/>
<circle cx="252" cy="1951" r="1.2" fill="#000" stroke="none" stroke-width="0"/>
</g>
<rect x="216.3" y="1800.6" width="378.7" height="168.4" fill="none" stroke="#000" stroke-width="3.2"/>
<rect x="216.3" y="1988.4" width="378.7" height="93.6" fill="#efefef" stroke="none" stroke-width="0"/>
<g clip-path="url(#cp1)">
<rect x="216.3" y="1988.4" width="378.7" height="93.6" filter="url(#noise)" opacity="0.2"/>
<path d="M235.2,2022.8 Q249,2025.2 262.8,2022.8 A8.8,8.8 0 0 1 262.8,2040.2 Q249,2037.8 235.2,2040.2 A8.8,8.8 0 0 1 235.2,2022.8 Z" fill="#000" fill-opacity="1" filter="url(#b2)"/>
<path d="M296.5,2026 Q312.5,2027.7 328.5,2026 A5.5,5.5 0 0 1 328.5,2037 Q312.5,2035.3 296.5,2037 A5.5,5.5 0 0 1 296.5,2026 Z" fill="#2a2a2a" fill-opacity="0.9" filter="url(#b2_2)"/>
<ellipse cx="301" cy="2031.5" rx="9" ry="5.5" fill="#111" filter="url(#b2_2)"/>
<ellipse cx="324" cy="2031.5" rx="9" ry="5.5" fill="#111" filter="url(#b2_2)"/>
<path d="M362.2,2022.8 Q373.5,2025.2 384.8,2022.8 A8.8,8.8 0 0 1 384.8,2040.2 Q373.5,2037.8 362.2,2040.2 A8.8,8.8 0 0 1 362.2,2022.8 Z" fill="#000" fill-opacity="1" filter="url(#b2)"/>
<path d="M417.8,2026.2 Q434.5,2027.8 451.2,2026.2 A5.2,5.2 0 0 1 451.2,2036.8 Q434.5,2035.2 417.8,2036.8 A5.2,5.2 0 0 1 417.8,2026.2 Z" fill="#444" fill-opacity="0.9" filter="url(#b2_2)"/>
<ellipse cx="422.7" cy="2031.5" rx="9.2" ry="5.2" fill="#151515" filter="url(#b2_2)"/>
<ellipse cx="446.3" cy="2031.5" rx="9.2" ry="5.2" fill="#151515" filter="url(#b2_2)"/>
<path d="M484.8,2022.8 Q495.5,2025.2 506.2,2022.8 A8.8,8.8 0 0 1 506.2,2040.2 Q495.5,2037.8 484.8,2040.2 A8.8,8.8 0 0 1 484.8,2022.8 Z" fill="#000" fill-opacity="1" filter="url(#b2)"/>
<path d="M539.2,2025.8 Q558,2027.2 576.8,2025.8 A4.8,4.8 0 0 1 576.8,2035.2 Q558,2033.8 539.2,2035.2 A4.8,4.8 0 0 1 539.2,2025.8 Z" fill="#6a6a6a" fill-opacity="0.9" filter="url(#b2_2)"/>
<ellipse cx="545.4" cy="2030.5" rx="9.9" ry="4.8" fill="#333" filter="url(#b2_2)"/>
<ellipse cx="570.6" cy="2030.5" rx="9.9" ry="4.8" fill="#333" filter="url(#b2_2)"/>
</g>
<rect x="216.3" y="1988.4" width="378.7" height="93.6" fill="none" stroke="#000" stroke-width="3.2"/>
<rect x="216.3" y="2101.6" width="378.7" height="94.7" fill="#ebebeb" stroke="none" stroke-width="0"/>
<g clip-path="url(#cp2)">
<rect x="216.3" y="2101.6" width="378.7" height="94.7" filter="url(#noise)" opacity="0.2"/>
<rect x="293" y="2116" width="44" height="24" rx="12" fill="#d6d6d6" fill-opacity="0.7" filter="url(#b5)"/>
<rect x="413" y="2118" width="44" height="24" rx="12" fill="#d6d6d6" fill-opacity="0.7" filter="url(#b5)"/>
<path d="M238.5,2142.5 Q255.5,2143.2 272.5,2142.5 A3.5,3.5 0 0 1 272.5,2149.5 Q255.5,2148.8 238.5,2149.5 A3.5,3.5 0 0 1 238.5,2142.5 Z" fill="#8c8c8c" fill-opacity="0.9" filter="url(#b2)"/>
<path d="M297,2145 Q314.5,2145.8 332,2145 A5,5 0 0 1 332,2155 Q314.5,2154.2 297,2155 A5,5 0 0 1 297,2145 Z" fill="#000" fill-opacity="0.9" filter="url(#b1_8)"/>
<path d="M358.5,2147 Q374,2148 389.5,2147 A4,4 0 0 1 389.5,2155 Q374,2154 358.5,2155 A4,4 0 0 1 358.5,2147 Z" fill="#5a5a5a" fill-opacity="0.9" filter="url(#b2)"/>
<path d="M417.2,2148.2 Q434.5,2149 451.8,2148.2 A5.2,5.2 0 0 1 451.8,2158.8 Q434.5,2158 417.2,2158.8 A5.2,5.2 0 0 1 417.2,2148.2 Z" fill="#000" fill-opacity="1" filter="url(#b1_8)"/>
<path d="M478.5,2148.5 Q493.5,2149.5 508.5,2148.5 A4,4 0 0 1 508.5,2156.5 Q493.5,2155.5 478.5,2156.5 A4,4 0 0 1 478.5,2148.5 Z" fill="#4a4a4a" fill-opacity="0.9" filter="url(#b2)"/>
<path d="M534.8,2148.8 Q553,2149.5 571.2,2148.8 A5.2,5.2 0 0 1 571.2,2159.2 Q553,2158.5 534.8,2159.2 A5.2,5.2 0 0 1 534.8,2148.8 Z" fill="#000" fill-opacity="1" filter="url(#b1_8)"/>
</g>
<rect x="216.3" y="2101.6" width="378.7" height="94.7" fill="none" stroke="#000" stroke-width="3.2"/>
<rect x="216.3" y="2215.8" width="378.7" height="94" fill="#efefef" stroke="none" stroke-width="0"/>
<g clip-path="url(#cp3)">
<rect x="216.3" y="2215.8" width="378.7" height="94" filter="url(#noise)" opacity="0.2"/>
<path d="M228,2247 Q246,2247.8 264,2247 A5.5,5.5 0 0 1 264,2258 Q246,2257.2 228,2258 A5.5,5.5 0 0 1 228,2247 Z" fill="#000" fill-opacity="1" filter="url(#b1_8)"/>
<path d="M290.5,2250.5 Q308,2252 325.5,2250.5 A5,5 0 0 1 325.5,2260.5 Q308,2259 290.5,2260.5 A5,5 0 0 1 290.5,2250.5 Z" fill="#1a1a1a" fill-opacity="0.9" filter="url(#b1_8)"/>
<ellipse cx="295.9" cy="2255.5" rx="9.4" ry="5" fill="#000" filter="url(#b1_8)"/>
<ellipse cx="320.1" cy="2255.5" rx="9.4" ry="5" fill="#000" filter="url(#b1_8)"/>
<path d="M352,2250 Q368.5,2250.8 385,2250 A5.5,5.5 0 0 1 385,2261 Q368.5,2260.2 352,2261 A5.5,5.5 0 0 1 352,2250 Z" fill="#000" fill-opacity="1" filter="url(#b1_8)"/>
<path d="M412.5,2253.5 Q431,2254.8 449.5,2253.5 A4.5,4.5 0 0 1 449.5,2262.5 Q431,2261.2 412.5,2262.5 A4.5,4.5 0 0 1 412.5,2253.5 Z" fill="#333" fill-opacity="0.9" filter="url(#b1_8)"/>
<ellipse cx="418.7" cy="2258" rx="9.7" ry="4.5" fill="#0a0a0a" filter="url(#b1_8)"/>
<ellipse cx="443.3" cy="2258" rx="9.7" ry="4.5" fill="#0a0a0a" filter="url(#b1_8)"/>
<path d="M474.5,2249.5 Q490,2250.3 505.5,2249.5 A5.5,5.5 0 0 1 505.5,2260.5 Q490,2259.7 474.5,2260.5 A5.5,5.5 0 0 1 474.5,2249.5 Z" fill="#000" fill-opacity="1" filter="url(#b1_8)"/>
<path d="M534,2253.5 Q553,2254.8 572,2253.5 A4.5,4.5 0 0 1 572,2262.5 Q553,2261.2 534,2262.5 A4.5,4.5 0 0 1 534,2253.5 Z" fill="#444" fill-opacity="0.9" filter="url(#b1_8)"/>
<ellipse cx="540.4" cy="2258" rx="9.9" ry="4.5" fill="#151515" filter="url(#b1_8)"/>
<ellipse cx="565.6" cy="2258" rx="9.9" ry="4.5" fill="#151515" filter="url(#b1_8)"/>
</g>
<rect x="216.3" y="2215.8" width="378.7" height="94" fill="none" stroke="#000" stroke-width="3.2"/>
<rect x="216.3" y="2328.8" width="378.7" height="86.8" fill="#f7f7f7" stroke="none" stroke-width="0"/>
<g clip-path="url(#cp4)">
<rect x="216.3" y="2328.8" width="378.7" height="86.8" filter="url(#noise)" opacity="0.2"/>
<path d="M234.5,2344.2 Q250,2346.5 265.5,2344.2 A11.5,11.5 0 0 1 265.5,2367.2 Q250,2364.9 234.5,2367.2 A11.5,11.5 0 0 1 234.5,2344.2 Z" fill="#000" fill-opacity="1" filter="url(#b1_6)"/>
<path d="M298.2,2345.4 Q316,2347.4 333.8,2345.4 A9.8,9.8 0 0 1 333.8,2364.9 Q316,2363 298.2,2364.9 A9.8,9.8 0 0 1 298.2,2345.4 Z" fill="#000" fill-opacity="1" filter="url(#b1_6)"/>
<path d="M364.5,2343.7 Q378.5,2346.1 392.5,2343.7 A12,12 0 0 1 392.5,2367.7 Q378.5,2365.3 364.5,2367.7 A12,12 0 0 1 364.5,2343.7 Z" fill="#000" fill-opacity="1" filter="url(#b1_6)"/>
<path d="M423.1,2346 Q440.6,2348 458.1,2346 A9,9 0 0 1 458.1,2364 Q440.6,2362 423.1,2364 A9,9 0 0 1 423.1,2346 Z" fill="#000" fill-opacity="1" filter="url(#b1_6)"/>
<path d="M488,2344 Q501,2346.4 514,2344 A12,12 0 0 1 514,2368 Q501,2365.6 488,2368 A12,12 0 0 1 488,2344 Z" fill="#000" fill-opacity="1" filter="url(#b1_6)"/>
<path d="M544,2343.9 Q561.7,2346 579.5,2343.9 A10.2,10.2 0 0 1 579.5,2364.4 Q561.7,2362.4 544,2364.4 A10.2,10.2 0 0 1 544,2343.9 Z" fill="#000" fill-opacity="1" filter="url(#b1_6)"/>
<rect x="238" y="2368" width="24" height="32" rx="12" fill="#e0e0e0" fill-opacity="0.7" filter="url(#b5)"/>
<rect x="366.5" y="2368" width="24" height="32" rx="12" fill="#e0e0e0" fill-opacity="0.7" filter="url(#b5)"/>
<rect x="489" y="2368" width="24" height="32" rx="12" fill="#e0e0e0" fill-opacity="0.7" filter="url(#b5)"/>
<rect x="232" y="2330.5" width="36" height="4" rx="2" fill="#999" fill-opacity="0.3" filter="url(#b1_2)"/>
<rect x="298" y="2330.5" width="36" height="4" rx="2" fill="#999" fill-opacity="0.3" filter="url(#b1_2)"/>
<rect x="360.5" y="2330.5" width="36" height="4" rx="2" fill="#999" fill-opacity="0.3" filter="url(#b1_2)"/>
<rect x="422.6" y="2330.5" width="36" height="4" rx="2" fill="#999" fill-opacity="0.3" filter="url(#b1_2)"/>
<rect x="483" y="2330.5" width="36" height="4" rx="2" fill="#999" fill-opacity="0.3" filter="url(#b1_2)"/>
<rect x="543.7" y="2330.5" width="36" height="4" rx="2" fill="#999" fill-opacity="0.3" filter="url(#b1_2)"/>
</g>
<rect x="216.3" y="2328.8" width="378.7" height="86.8" fill="none" stroke="#000" stroke-width="3.2"/>
<text x="197.5" y="1899.9" font-size="35" text-anchor="end" fill="#000">MLL4</text>
<text x="197.5" y="2055.6" font-size="35" text-anchor="end" fill="#000">AMPD3</text>
<text x="197.5" y="2161.9" font-size="35" text-anchor="end" fill="#000">p-AMPK</text>
<text x="197.5" y="2274.3" font-size="35" text-anchor="end" fill="#000">t-AMPK</text>
<text x="197.5" y="2379.8" font-size="35" text-anchor="end" fill="#000">GAPDH</text>
<text x="598.5" y="1958.7" font-size="34.5" text-anchor="start" fill="#000">-250</text>
<text x="598.5" y="2009" font-size="34.5" text-anchor="start" fill="#000">-100</text>
<text x="598.5" y="2121.8" font-size="34.5" text-anchor="start" fill="#000">-72</text>
<text x="598.5" y="2240" font-size="34.5" text-anchor="start" fill="#000">-72</text>
<text x="598.5" y="2358" font-size="34.5" text-anchor="start" fill="#000">-35</text>
<text x="609" y="1792.7" font-size="35" text-anchor="start" fill="#000">kDa</text>
<text x="258" y="1793" font-size="34" text-anchor="start" transform="rotate(-50 258 1793)" fill="#000">shCtrl</text>
<text x="320" y="1793" font-size="34" text-anchor="start" transform="rotate(-50 320 1793)" fill="#000">shMLL4</text>
<text x="383" y="1793" font-size="34" text-anchor="start" transform="rotate(-50 383 1793)" fill="#000">shCtrl</text>
<text x="445" y="1793" font-size="34" text-anchor="start" transform="rotate(-50 445 1793)" fill="#000">shMLL4</text>
<text x="508" y="1793" font-size="34" text-anchor="start" transform="rotate(-50 508 1793)" fill="#000">shCtrl</text>
<text x="570" y="1793" font-size="34" text-anchor="start" transform="rotate(-50 570 1793)" fill="#000">shMLL4</text>
<text x="766" y="1683.5" font-size="56" text-anchor="start" font-weight="bold" fill="#000">e</text>
<line x1="992.8" y1="1676.4" x2="992.8" y2="2011.1" stroke="#000" stroke-width="4" stroke-linecap="butt"/>
<line x1="976.2" y1="2009.1" x2="1111.7" y2="2009.1" stroke="#000" stroke-width="4" stroke-linecap="butt"/>
<line x1="976.2" y1="2009.1" x2="992.8" y2="2009.1" stroke="#000" stroke-width="4" stroke-linecap="butt"/>
<text x="970" y="2020.9" font-size="33" text-anchor="end" fill="#000">0.0</text>
<line x1="976.2" y1="1898.9" x2="992.8" y2="1898.9" stroke="#000" stroke-width="4" stroke-linecap="butt"/>
<text x="970" y="1910.7" font-size="33" text-anchor="end" fill="#000">0.5</text>
<line x1="976.2" y1="1788.6" x2="992.8" y2="1788.6" stroke="#000" stroke-width="4" stroke-linecap="butt"/>
<text x="970" y="1800.4" font-size="33" text-anchor="end" fill="#000">1.0</text>
<line x1="976.2" y1="1678.4" x2="992.8" y2="1678.4" stroke="#000" stroke-width="4" stroke-linecap="butt"/>
<text x="970" y="1690.2" font-size="33" text-anchor="end" fill="#000">1.5</text>
<rect x="1015.3" y="1791.8" width="34.3" height="217.3" fill="#fff" stroke="#000" stroke-width="3.8"/>
<rect x="1053.4" y="1982.5" width="35.3" height="26.6" fill="#ff6600" stroke="#000" stroke-width="3.8"/>
<line x1="1032" y1="1754.7" x2="1032" y2="1823.8" stroke="#000" stroke-width="3.6" stroke-linecap="butt"/>
<line x1="1022" y1="1754.7" x2="1042" y2="1754.7" stroke="#000" stroke-width="3.6" stroke-linecap="butt"/>
<line x1="1022" y1="1823.8" x2="1042" y2="1823.8" stroke="#000" stroke-width="3.6" stroke-linecap="butt"/>
<line x1="1071" y1="1973.2" x2="1071" y2="1990" stroke="#000" stroke-width="3.6" stroke-linecap="butt"/>
<line x1="1061" y1="1973.2" x2="1081" y2="1973.2" stroke="#000" stroke-width="3.6" stroke-linecap="butt"/>
<line x1="1061" y1="1990" x2="1081" y2="1990" stroke="#000" stroke-width="3.6" stroke-linecap="butt"/>
<circle cx="1032" cy="1747.8" r="4.6" fill="#000" stroke="none" stroke-width="0"/>
<circle cx="1032" cy="1763.1" r="4.6" fill="#000" stroke="none" stroke-width="0"/>
<circle cx="1032" cy="1858" r="4.6" fill="#000" stroke="none" stroke-width="0"/>
<circle cx="1070.8" cy="1967" r="4.6" fill="#000" stroke="none" stroke-width="0"/>
<circle cx="1061.6" cy="1986.8" r="4.6" fill="#000" stroke="none" stroke-width="0"/>
<circle cx="1080.7" cy="1986.8" r="4.6" fill="#000" stroke="none" stroke-width="0"/>
<text x="0" y="13.4" font-size="35" text-anchor="middle" transform="translate(1063.4 1937.9) scale(1 0.92)" style="font-family:IPAGothic, Liberation Sans, sans-serif" fill="#000">*</text>
<text x="0" y="13.4" font-size="35" text-anchor="middle" transform="translate(1083.4 1937.9) scale(1 0.92)" style="font-family:IPAGothic, Liberation Sans, sans-serif" fill="#000">*</text>
<text x="901.5" y="1853" font-size="34.5" text-anchor="middle" transform="rotate(-90 901.5 1853)" fill="#000">MLL4/GAPDH</text>
<line x1="1280.6" y1="1676.4" x2="1280.6" y2="2011.1" stroke="#000" stroke-width="4" stroke-linecap="butt"/>
<line x1="1264" y1="2009.1" x2="1400" y2="2009.1" stroke="#000" stroke-width="4" stroke-linecap="butt"/>
<line x1="1264" y1="2009.1" x2="1280.6" y2="2009.1" stroke="#000" stroke-width="4" stroke-linecap="butt"/>
<text x="1257.8" y="2020.9" font-size="33" text-anchor="end" fill="#000">0.0</text>
<line x1="1264" y1="1898.9" x2="1280.6" y2="1898.9" stroke="#000" stroke-width="4" stroke-linecap="butt"/>
<text x="1257.8" y="1910.7" font-size="33" text-anchor="end" fill="#000">0.5</text>
<line x1="1264" y1="1788.6" x2="1280.6" y2="1788.6" stroke="#000" stroke-width="4" stroke-linecap="butt"/>
<text x="1257.8" y="1800.4" font-size="33" text-anchor="end" fill="#000">1.0</text>
<line x1="1264" y1="1678.4" x2="1280.6" y2="1678.4" stroke="#000" stroke-width="4" stroke-linecap="butt"/>
<text x="1257.8" y="1690.2" font-size="33" text-anchor="end" fill="#000">1.5</text>
<rect x="1302.8" y="1791.8" width="34.8" height="217.3" fill="#fff" stroke="#000" stroke-width="3.8"/>
<rect x="1341.4" y="1877.2" width="34.4" height="131.9" fill="#ff6600" stroke="#000" stroke-width="3.8"/>
<line x1="1320.2" y1="1784.2" x2="1320.2" y2="1795" stroke="#000" stroke-width="3.6" stroke-linecap="butt"/>
<line x1="1310.2" y1="1784.2" x2="1330.2" y2="1784.2" stroke="#000" stroke-width="3.6" stroke-linecap="butt"/>
<line x1="1310.2" y1="1795" x2="1330.2" y2="1795" stroke="#000" stroke-width="3.6" stroke-linecap="butt"/>
<line x1="1358.8" y1="1865.4" x2="1358.8" y2="1884.7" stroke="#000" stroke-width="3.6" stroke-linecap="butt"/>
<line x1="1348.8" y1="1865.4" x2="1368.8" y2="1865.4" stroke="#000" stroke-width="3.6" stroke-linecap="butt"/>
<line x1="1348.8" y1="1884.7" x2="1368.8" y2="1884.7" stroke="#000" stroke-width="3.6" stroke-linecap="butt"/>
<circle cx="1320.2" cy="1778.7" r="4.6" fill="#000" stroke="none" stroke-width="0"/>
<circle cx="1309.6" cy="1796" r="4.6" fill="#000" stroke="none" stroke-width="0"/>
<circle cx="1330.6" cy="1796" r="4.6" fill="#000" stroke="none" stroke-width="0"/>
<circle cx="1349.2" cy="1861.2" r="4.6" fill="#000" stroke="none" stroke-width="0"/>
<circle cx="1368.3" cy="1871.6" r="4.6" fill="#000" stroke="none" stroke-width="0"/>
<circle cx="1359.1" cy="1892.7" r="4.6" fill="#000" stroke="none" stroke-width="0"/>
<text x="0" y="13.4" font-size="35" text-anchor="middle" transform="translate(1349.5 1827.4) scale(1 0.92)" style="font-family:IPAGothic, Liberation Sans, sans-serif" fill="#000">*</text>
<text x="0" y="13.4" font-size="35" text-anchor="middle" transform="translate(1369.5 1827.4) scale(1 0.92)" style="font-family:IPAGothic, Liberation Sans, sans-serif" fill="#000">*</text>
<text x="1187.5" y="1853.6" font-size="34.5" text-anchor="middle" transform="rotate(-90 1187.5 1853.6)" fill="#000">AMPD3/GAPDH</text>
<line x1="1552.6" y1="1676.4" x2="1552.6" y2="2011.1" stroke="#000" stroke-width="4" stroke-linecap="butt"/>
<line x1="1536" y1="2009.1" x2="1672.5" y2="2009.1" stroke="#000" stroke-width="4" stroke-linecap="butt"/>
<line x1="1536" y1="2009.1" x2="1552.6" y2="2009.1" stroke="#000" stroke-width="4" stroke-linecap="butt"/>
<text x="1529.8" y="2020.9" font-size="33" text-anchor="end" fill="#000">0</text>
<line x1="1536" y1="1943" x2="1552.6" y2="1943" stroke="#000" stroke-width="4" stroke-linecap="butt"/>
<text x="1529.8" y="1954.8" font-size="33" text-anchor="end" fill="#000">1</text>
<line x1="1536" y1="1876.8" x2="1552.6" y2="1876.8" stroke="#000" stroke-width="4" stroke-linecap="butt"/>
<text x="1529.8" y="1888.6" font-size="33" text-anchor="end" fill="#000">2</text>
<line x1="1536" y1="1810.7" x2="1552.6" y2="1810.7" stroke="#000" stroke-width="4" stroke-linecap="butt"/>
<text x="1529.8" y="1822.5" font-size="33" text-anchor="end" fill="#000">3</text>
<line x1="1536" y1="1744.5" x2="1552.6" y2="1744.5" stroke="#000" stroke-width="4" stroke-linecap="butt"/>
<text x="1529.8" y="1756.3" font-size="33" text-anchor="end" fill="#000">4</text>
<line x1="1536" y1="1678.4" x2="1552.6" y2="1678.4" stroke="#000" stroke-width="4" stroke-linecap="butt"/>
<text x="1529.8" y="1690.2" font-size="33" text-anchor="end" fill="#000">5</text>
<rect x="1575.3" y="1946.6" width="34" height="62.5" fill="#fff" stroke="#000" stroke-width="3.8"/>
<rect x="1613.1" y="1769.5" width="35.2" height="239.6" fill="#ff6600" stroke="#000" stroke-width="3.8"/>
<line x1="1592" y1="1931" x2="1592" y2="1955.8" stroke="#000" stroke-width="3.6" stroke-linecap="butt"/>
<line x1="1582" y1="1931" x2="1602" y2="1931" stroke="#000" stroke-width="3.6" stroke-linecap="butt"/>
<line x1="1582" y1="1955.8" x2="1602" y2="1955.8" stroke="#000" stroke-width="3.6" stroke-linecap="butt"/>
<line x1="1631.2" y1="1736.6" x2="1631.2" y2="1796.6" stroke="#000" stroke-width="3.6" stroke-linecap="butt"/>
<line x1="1621.2" y1="1736.6" x2="1641.2" y2="1736.6" stroke="#000" stroke-width="3.6" stroke-linecap="butt"/>
<line x1="1621.2" y1="1796.6" x2="1641.2" y2="1796.6" stroke="#000" stroke-width="3.6" stroke-linecap="butt"/>
<circle cx="1592" cy="1925.4" r="4.6" fill="#000" stroke="none" stroke-width="0"/>
<circle cx="1592" cy="1938.5" r="4.6" fill="#000" stroke="none" stroke-width="0"/>
<circle cx="1592" cy="1967" r="4.6" fill="#000" stroke="none" stroke-width="0"/>
<circle cx="1631.2" cy="1724.2" r="4.6" fill="#000" stroke="none" stroke-width="0"/>
<circle cx="1631.2" cy="1750.7" r="4.6" fill="#000" stroke="none" stroke-width="0"/>
<circle cx="1631.2" cy="1824.5" r="4.6" fill="#000" stroke="none" stroke-width="0"/>
<text x="0" y="13.4" font-size="35" text-anchor="middle" transform="translate(1621.5 1692.4) scale(1 0.92)" style="font-family:IPAGothic, Liberation Sans, sans-serif" fill="#000">*</text>
<text x="0" y="13.4" font-size="35" text-anchor="middle" transform="translate(1641.5 1692.4) scale(1 0.92)" style="font-family:IPAGothic, Liberation Sans, sans-serif" fill="#000">*</text>
<text x="1487" y="1851" font-size="34.5" text-anchor="middle" transform="rotate(-90 1487 1851)" fill="#000">p-AMPK/t-AMPK</text>
<rect x="1704.6" y="1666.4" width="23.3" height="22.8" fill="#fff" stroke="#000" stroke-width="3.2"/>
<rect x="1704.6" y="1699.3" width="23.3" height="22.2" fill="#ff6600" stroke="#000" stroke-width="3.2"/>
<text x="1736" y="1689.5" font-size="34" text-anchor="start" fill="#000">shCtrl</text>
<text x="1736" y="1721.7" font-size="34" text-anchor="start" fill="#000">shMLL4</text>
<text x="775" y="2084.6" font-size="56" text-anchor="start" font-weight="bold" fill="#000">f</text>
<line x1="993.8" y1="2073.1" x2="993.8" y2="2414.2" stroke="#000" stroke-width="4" stroke-linecap="butt"/>
<line x1="975.9" y1="2412.2" x2="1265.4" y2="2412.2" stroke="#000" stroke-width="4" stroke-linecap="butt"/>
<line x1="975.9" y1="2412.2" x2="993.8" y2="2412.2" stroke="#000" stroke-width="4" stroke-linecap="butt"/>
<text x="971" y="2424" font-size="33" text-anchor="end" fill="#000">0.0</text>
<line x1="975.9" y1="2299.8" x2="993.8" y2="2299.8" stroke="#000" stroke-width="4" stroke-linecap="butt"/>
<text x="971" y="2311.6" font-size="33" text-anchor="end" fill="#000">0.5</text>
<line x1="975.9" y1="2187.5" x2="993.8" y2="2187.5" stroke="#000" stroke-width="4" stroke-linecap="butt"/>
<text x="971" y="2199.3" font-size="33" text-anchor="end" fill="#000">1.0</text>
<line x1="975.9" y1="2075.1" x2="993.8" y2="2075.1" stroke="#000" stroke-width="4" stroke-linecap="butt"/>
<text x="971" y="2086.9" font-size="33" text-anchor="end" fill="#000">1.5</text>
<rect x="1018.7" y="2190.2" width="40.4" height="222" fill="#fff" stroke="#000" stroke-width="3.8"/>
<rect x="1062.9" y="2345.8" width="41.3" height="66.4" fill="#ff6600" stroke="#000" stroke-width="3.8"/>
<rect x="1153.5" y="2190.5" width="40" height="221.7" fill="#fff" stroke="#000" stroke-width="3.8"/>
<rect x="1197.3" y="2321.5" width="41.3" height="90.7" fill="#ff6600" stroke="#000" stroke-width="3.8"/>
<line x1="1039.3" y1="2174.8" x2="1039.3" y2="2200.4" stroke="#000" stroke-width="3.6" stroke-linecap="butt"/>
<line x1="1028.3" y1="2174.8" x2="1050.3" y2="2174.8" stroke="#000" stroke-width="3.6" stroke-linecap="butt"/>
<line x1="1028.3" y1="2200.4" x2="1050.3" y2="2200.4" stroke="#000" stroke-width="3.6" stroke-linecap="butt"/>
<line x1="1083.6" y1="2331.8" x2="1083.6" y2="2354.8" stroke="#000" stroke-width="3.6" stroke-linecap="butt"/>
<line x1="1072.6" y1="2331.8" x2="1094.6" y2="2331.8" stroke="#000" stroke-width="3.6" stroke-linecap="butt"/>
<line x1="1072.6" y1="2354.8" x2="1094.6" y2="2354.8" stroke="#000" stroke-width="3.6" stroke-linecap="butt"/>
<line x1="1173.3" y1="2163" x2="1173.3" y2="2213.2" stroke="#000" stroke-width="3.6" stroke-linecap="butt"/>
<line x1="1162.3" y1="2163" x2="1184.3" y2="2163" stroke="#000" stroke-width="3.6" stroke-linecap="butt"/>
<line x1="1162.3" y1="2213.2" x2="1184.3" y2="2213.2" stroke="#000" stroke-width="3.6" stroke-linecap="butt"/>
<line x1="1218" y1="2296.4" x2="1218" y2="2342.5" stroke="#000" stroke-width="3.6" stroke-linecap="butt"/>
<line x1="1207" y1="2296.4" x2="1229" y2="2296.4" stroke="#000" stroke-width="3.6" stroke-linecap="butt"/>
<line x1="1207" y1="2342.5" x2="1229" y2="2342.5" stroke="#000" stroke-width="3.6" stroke-linecap="butt"/>
<circle cx="1039.3" cy="2165.3" r="4.6" fill="#000" stroke="none" stroke-width="0"/>
<circle cx="1039.3" cy="2188.3" r="4.6" fill="#000" stroke="none" stroke-width="0"/>
<circle cx="1039.3" cy="2209.9" r="4.6" fill="#000" stroke="none" stroke-width="0"/>
<circle cx="1083.6" cy="2323.7" r="4.6" fill="#000" stroke="none" stroke-width="0"/>
<circle cx="1083.6" cy="2341" r="4.6" fill="#000" stroke="none" stroke-width="0"/>
<circle cx="1083.6" cy="2362.6" r="4.6" fill="#000" stroke="none" stroke-width="0"/>
<circle cx="1173.3" cy="2147.3" r="4.6" fill="#000" stroke="none" stroke-width="0"/>
<circle cx="1173.3" cy="2183" r="4.6" fill="#000" stroke="none" stroke-width="0"/>
<circle cx="1173.3" cy="2234" r="4.6" fill="#000" stroke="none" stroke-width="0"/>
<circle cx="1207" cy="2296.4" r="4.6" fill="#000" stroke="none" stroke-width="0"/>
<circle cx="1229.8" cy="2296.4" r="4.6" fill="#000" stroke="none" stroke-width="0"/>
<circle cx="1218.1" cy="2364.9" r="4.6" fill="#000" stroke="none" stroke-width="0"/>
<text x="0" y="13.4" font-size="35" text-anchor="middle" transform="translate(1074.8 2291.9) scale(1 0.92)" style="font-family:IPAGothic, Liberation Sans, sans-serif" fill="#000">*</text>
<text x="0" y="13.4" font-size="35" text-anchor="middle" transform="translate(1095.3 2291.9) scale(1 0.92)" style="font-family:IPAGothic, Liberation Sans, sans-serif" fill="#000">*</text>
<text x="0" y="13.4" font-size="35" text-anchor="middle" transform="translate(1115.8 2291.9) scale(1 0.92)" style="font-family:IPAGothic, Liberation Sans, sans-serif" fill="#000">*</text>
<text x="0" y="13.4" font-size="35" text-anchor="middle" transform="translate(1217.2 2257.9) scale(1 0.92)" style="font-family:IPAGothic, Liberation Sans, sans-serif" fill="#000">*</text>
<text x="900.5" y="2246" font-size="34.5" text-anchor="middle" transform="rotate(-90 900.5 2246)" fill="#000">Normalized A.U.</text>
<text x="1063" y="2453.3" font-size="35" text-anchor="middle" font-style="italic" fill="#000">KMT2D</text>
<text x="1204" y="2453.3" font-size="35" text-anchor="middle" font-style="italic" fill="#000">AMPD3</text>
<text x="1324" y="2081.6" font-size="56" text-anchor="start" font-weight="bold" fill="#000">g</text>
<line x1="1522.3" y1="2124.1" x2="1522.3" y2="2433.2" stroke="#000" stroke-width="2.6" stroke-linecap="butt"/>
<line x1="1511.8" y1="2125.4" x2="1872.8" y2="2125.4" stroke="#000" stroke-width="2.6" stroke-linecap="butt"/>
<line x1="1511.8" y1="2125.4" x2="1522.3" y2="2125.4" stroke="#000" stroke-width="2.6" stroke-linecap="butt"/>
<text x="1492.5" y="2136.9" font-size="34" text-anchor="end" fill="#000">0</text>
<line x1="1511.8" y1="2202" x2="1522.3" y2="2202" stroke="#000" stroke-width="2.6" stroke-linecap="butt"/>
<text x="1492.5" y="2213.5" font-size="34" text-anchor="end" fill="#000">-30</text>
<line x1="1511.8" y1="2278.6" x2="1522.3" y2="2278.6" stroke="#000" stroke-width="2.6" stroke-linecap="butt"/>
<text x="1492.5" y="2290.1" font-size="34" text-anchor="end" fill="#000">-60</text>
<line x1="1511.8" y1="2355.2" x2="1522.3" y2="2355.2" stroke="#000" stroke-width="2.6" stroke-linecap="butt"/>
<text x="1492.5" y="2366.7" font-size="34" text-anchor="end" fill="#000">-90</text>
<line x1="1511.8" y1="2431.8" x2="1522.3" y2="2431.8" stroke="#000" stroke-width="2.6" stroke-linecap="butt"/>
<text x="1492.5" y="2443.3" font-size="34" text-anchor="end" fill="#000">-120</text>
<line x1="1609.8" y1="2117.5" x2="1609.8" y2="2125.4" stroke="#000" stroke-width="2.6" stroke-linecap="butt"/>
<text x="1615.3" y="2099.9" font-size="34" text-anchor="middle" fill="#000">8h</text>
<line x1="1697" y1="2117.5" x2="1697" y2="2125.4" stroke="#000" stroke-width="2.6" stroke-linecap="butt"/>
<text x="1702.5" y="2099.9" font-size="34" text-anchor="middle" fill="#000">16h</text>
<line x1="1785.3" y1="2117.5" x2="1785.3" y2="2125.4" stroke="#000" stroke-width="2.6" stroke-linecap="butt"/>
<text x="1786.8" y="2099.9" font-size="34" text-anchor="middle" fill="#000">24h</text>
<line x1="1872.2" y1="2117.5" x2="1872.2" y2="2125.4" stroke="#000" stroke-width="2.6" stroke-linecap="butt"/>
<text x="1421" y="2278" font-size="35.5" text-anchor="middle" transform="rotate(-90 1421 2278)" fill="#000">&#9651;Glucose (mg/dL)</text>
<path d="M1522.3,2125.4 Q1640,2150 1785.3,2276" fill="none" stroke="#000" stroke-width="3.2" stroke-dasharray="11,7"/>
<path d="M1522.3,2125.4 C1600,2140 1700,2190 1780,2345" fill="none" stroke="#c0504d" stroke-width="3.2" stroke-dasharray="11,7"/>
<line x1="1609.8" y1="2135.9" x2="1609.8" y2="2135.9" stroke="#000" stroke-width="2.6" stroke-linecap="butt"/>
<line x1="1603" y1="2135.9" x2="1616.5" y2="2135.9" stroke="#000" stroke-width="2.6" stroke-linecap="butt"/>
<line x1="1603" y1="2135.9" x2="1616.5" y2="2135.9" stroke="#000" stroke-width="2.6" stroke-linecap="butt"/>
<line x1="1609.8" y1="2135.9" x2="1609.8" y2="2160" stroke="#000" stroke-width="2.6" stroke-linecap="butt"/>
<line x1="1697" y1="2203.3" x2="1697" y2="2203.3" stroke="#000" stroke-width="2.6" stroke-linecap="butt"/>
<line x1="1690.2" y1="2203.3" x2="1703.8" y2="2203.3" stroke="#000" stroke-width="2.6" stroke-linecap="butt"/>
<line x1="1690.2" y1="2203.3" x2="1703.8" y2="2203.3" stroke="#000" stroke-width="2.6" stroke-linecap="butt"/>
<line x1="1697" y1="2203.3" x2="1697" y2="2215" stroke="#000" stroke-width="2.6" stroke-linecap="butt"/>
<line x1="1785.3" y1="2267" x2="1785.3" y2="2267" stroke="#000" stroke-width="2.6" stroke-linecap="butt"/>
<line x1="1778.5" y1="2267" x2="1792" y2="2267" stroke="#000" stroke-width="2.6" stroke-linecap="butt"/>
<line x1="1778.5" y1="2267" x2="1792" y2="2267" stroke="#000" stroke-width="2.6" stroke-linecap="butt"/>
<line x1="1785.3" y1="2267" x2="1785.3" y2="2280" stroke="#000" stroke-width="2.6" stroke-linecap="butt"/>
<line x1="1609.8" y1="2177.8" x2="1609.8" y2="2177.8" stroke="#000" stroke-width="2.6" stroke-linecap="butt"/>
<line x1="1603" y1="2177.8" x2="1616.5" y2="2177.8" stroke="#000" stroke-width="2.6" stroke-linecap="butt"/>
<line x1="1603" y1="2177.8" x2="1616.5" y2="2177.8" stroke="#000" stroke-width="2.6" stroke-linecap="butt"/>
<line x1="1609.8" y1="2177.8" x2="1609.8" y2="2165" stroke="#000" stroke-width="2.6" stroke-linecap="butt"/>
<line x1="1697" y1="2253.3" x2="1697" y2="2253.3" stroke="#000" stroke-width="2.6" stroke-linecap="butt"/>
<line x1="1690.2" y1="2253.3" x2="1703.8" y2="2253.3" stroke="#000" stroke-width="2.6" stroke-linecap="butt"/>
<line x1="1690.2" y1="2253.3" x2="1703.8" y2="2253.3" stroke="#000" stroke-width="2.6" stroke-linecap="butt"/>
<line x1="1697" y1="2253.3" x2="1697" y2="2230" stroke="#000" stroke-width="2.6" stroke-linecap="butt"/>
<line x1="1785.3" y1="2368.6" x2="1785.3" y2="2368.6" stroke="#000" stroke-width="2.6" stroke-linecap="butt"/>
<line x1="1778.5" y1="2368.6" x2="1792" y2="2368.6" stroke="#000" stroke-width="2.6" stroke-linecap="butt"/>
<line x1="1778.5" y1="2368.6" x2="1792" y2="2368.6" stroke="#000" stroke-width="2.6" stroke-linecap="butt"/>
<line x1="1785.3" y1="2368.6" x2="1785.3" y2="2355" stroke="#000" stroke-width="2.6" stroke-linecap="butt"/>
<polygon points="1609.8,2147.3 1599.8,2165.8 1619.8,2165.8" stroke="none" stroke-width="0" fill="#000" stroke-linejoin="miter"/>
<polygon points="1697,2203.7 1687,2222.2 1707,2222.2" stroke="none" stroke-width="0" fill="#000" stroke-linejoin="miter"/>
<polygon points="1785.3,2268.7 1775.3,2287.2 1795.3,2287.2" stroke="none" stroke-width="0" fill="#000" stroke-linejoin="miter"/>
<rect x="1513.3" y="2116.4" width="18" height="18" fill="#ff9900" stroke="none" stroke-width="0"/>
<rect x="1600.8" y="2158.3" width="18" height="18" fill="#ff9900" stroke="none" stroke-width="0"/>
<rect x="1688" y="2221.2" width="18" height="18" fill="#ff9900" stroke="none" stroke-width="0"/>
<rect x="1776.3" y="2346.2" width="18" height="18" fill="#ff9900" stroke="none" stroke-width="0"/>
<text x="0" y="13.4" font-size="35" text-anchor="middle" transform="translate(1784.5 2394.4) scale(1 0.92)" style="font-family:IPAGothic, Liberation Sans, sans-serif" fill="#000">*</text>
<polygon points="1825.7,2151.1 1813.3,2176.5 1838,2176.5" stroke="none" stroke-width="0" fill="#000" stroke-linejoin="miter"/>
<rect x="1814.2" y="2185" width="21.4" height="22.2" fill="#ff6600" stroke="none" stroke-width="0"/>
<text x="1846" y="2174.6" font-size="34" text-anchor="start" fill="#000">shCtrl</text>
<text x="1846" y="2207.2" font-size="34" text-anchor="start" fill="#000">shMLL4</text>
</svg></body></html>
